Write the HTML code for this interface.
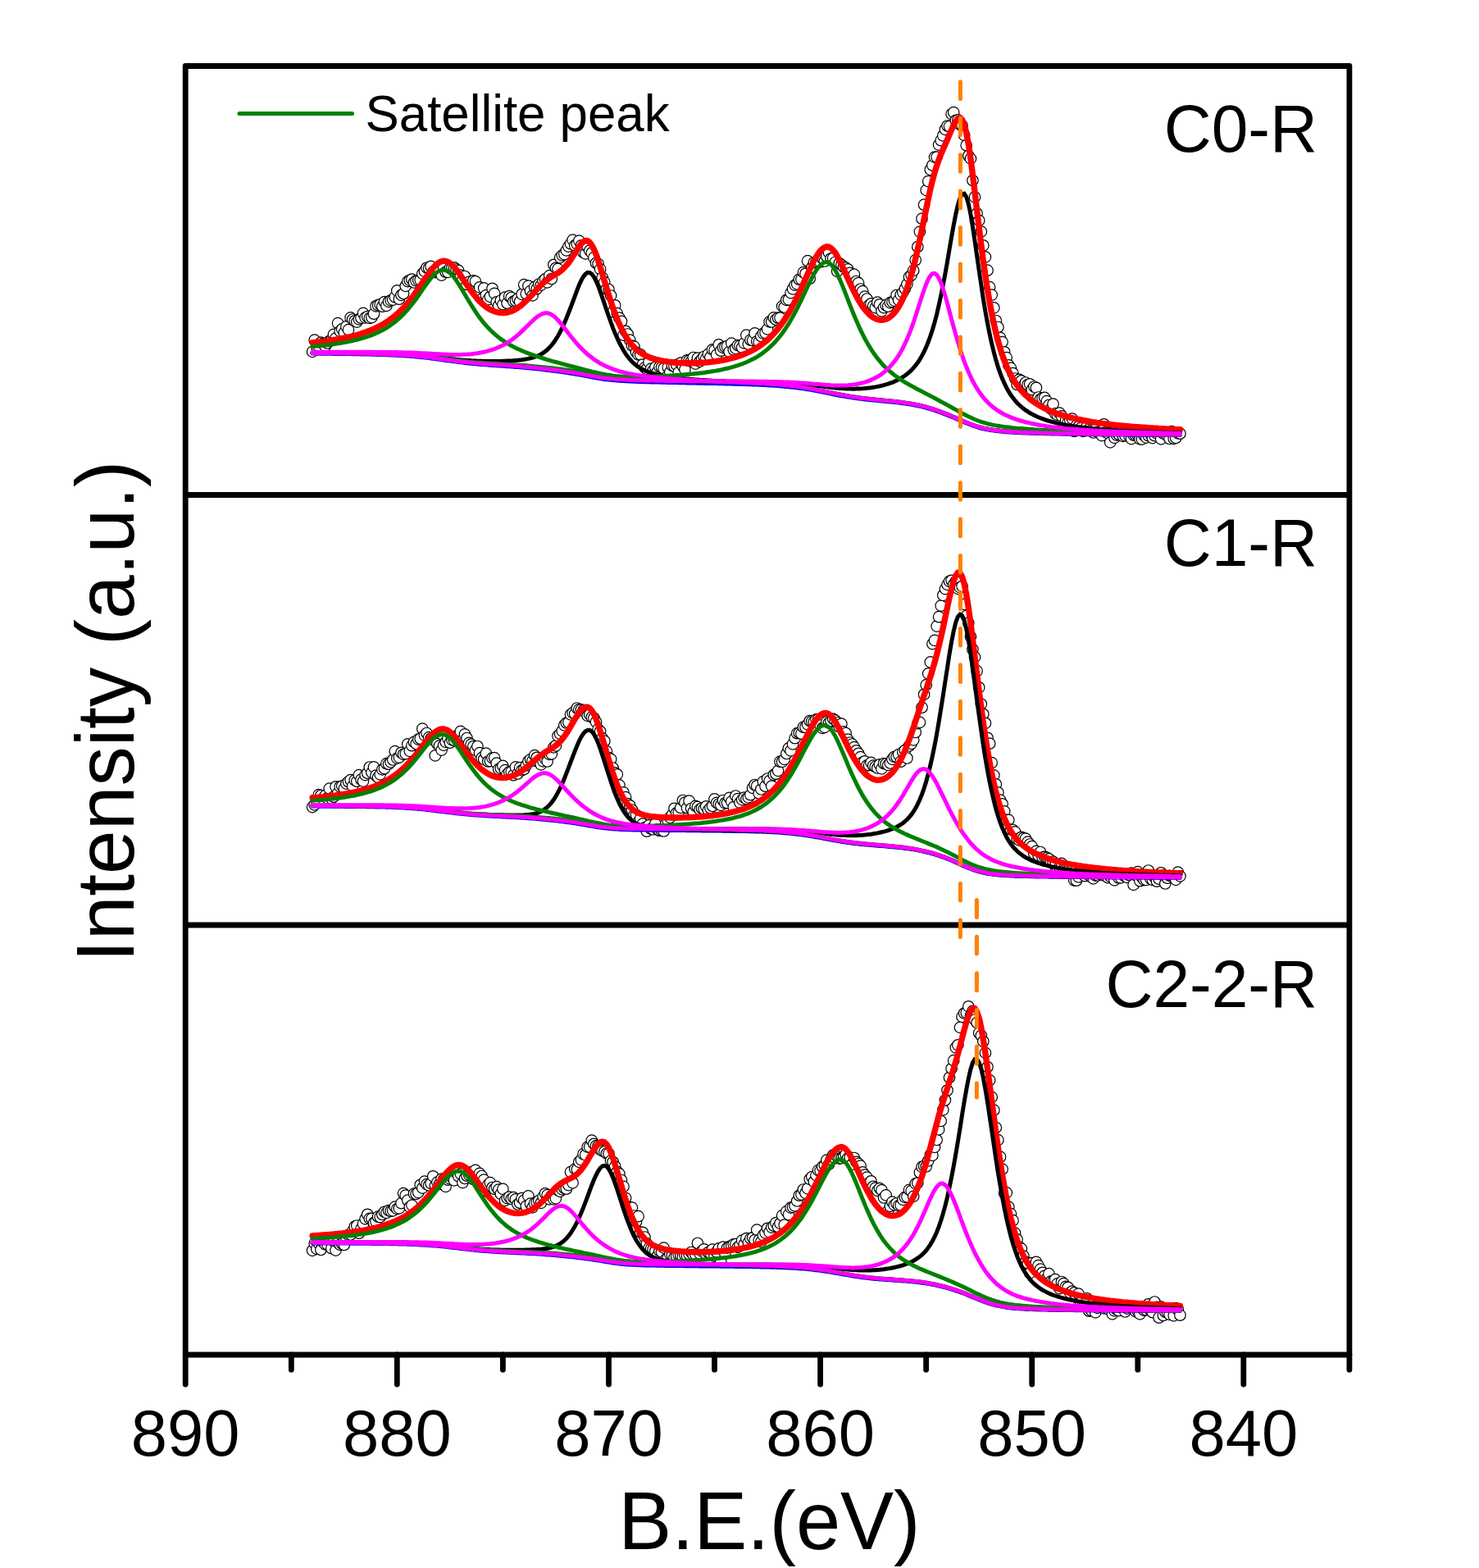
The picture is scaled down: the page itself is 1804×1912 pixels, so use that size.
<!DOCTYPE html>
<html lang="en"><head><meta charset="utf-8"><title>XPS spectra</title>
<style>html,body{margin:0;padding:0;background:#fff}svg{display:block}</style>
</head><body>
<svg width="1804" height="1912" viewBox="0 0 1804 1912" font-family="'Liberation Sans', sans-serif">
<rect width="1804" height="1912" fill="#fff"/>
<g fill="#fff" stroke="#000" stroke-width="1.2"><circle cx="381.1" cy="428.9" r="6.75"/><circle cx="383.7" cy="414.7" r="6.75"/><circle cx="386.3" cy="422.7" r="6.75"/><circle cx="388.8" cy="422.2" r="6.75"/><circle cx="391.4" cy="417.6" r="6.75"/><circle cx="394.0" cy="418.9" r="6.75"/><circle cx="396.6" cy="422.1" r="6.75"/><circle cx="399.2" cy="418.5" r="6.75"/><circle cx="401.7" cy="416.0" r="6.75"/><circle cx="404.3" cy="414.5" r="6.75"/><circle cx="406.9" cy="407.9" r="6.75"/><circle cx="409.5" cy="412.4" r="6.75"/><circle cx="412.1" cy="394.2" r="6.75"/><circle cx="414.7" cy="403.9" r="6.75"/><circle cx="417.2" cy="401.3" r="6.75"/><circle cx="419.8" cy="405.6" r="6.75"/><circle cx="422.4" cy="398.2" r="6.75"/><circle cx="425.0" cy="402.2" r="6.75"/><circle cx="427.6" cy="387.4" r="6.75"/><circle cx="430.1" cy="389.5" r="6.75"/><circle cx="432.7" cy="391.3" r="6.75"/><circle cx="435.3" cy="392.6" r="6.75"/><circle cx="437.9" cy="389.3" r="6.75"/><circle cx="440.5" cy="387.7" r="6.75"/><circle cx="443.0" cy="381.9" r="6.75"/><circle cx="445.6" cy="387.4" r="6.75"/><circle cx="448.2" cy="386.2" r="6.75"/><circle cx="450.8" cy="387.9" r="6.75"/><circle cx="453.4" cy="387.1" r="6.75"/><circle cx="456.0" cy="382.7" r="6.75"/><circle cx="458.5" cy="373.3" r="6.75"/><circle cx="461.1" cy="372.2" r="6.75"/><circle cx="463.7" cy="371.3" r="6.75"/><circle cx="466.3" cy="373.7" r="6.75"/><circle cx="468.9" cy="368.1" r="6.75"/><circle cx="471.4" cy="372.9" r="6.75"/><circle cx="474.0" cy="367.8" r="6.75"/><circle cx="476.6" cy="366.3" r="6.75"/><circle cx="479.2" cy="365.6" r="6.75"/><circle cx="481.8" cy="362.2" r="6.75"/><circle cx="484.3" cy="354.4" r="6.75"/><circle cx="486.9" cy="364.7" r="6.75"/><circle cx="489.5" cy="359.8" r="6.75"/><circle cx="492.1" cy="358.0" r="6.75"/><circle cx="494.7" cy="348.8" r="6.75"/><circle cx="497.3" cy="343.1" r="6.75"/><circle cx="499.8" cy="341.8" r="6.75"/><circle cx="502.4" cy="340.7" r="6.75"/><circle cx="505.0" cy="344.5" r="6.75"/><circle cx="507.6" cy="342.3" r="6.75"/><circle cx="510.2" cy="341.6" r="6.75"/><circle cx="512.7" cy="341.3" r="6.75"/><circle cx="515.3" cy="333.8" r="6.75"/><circle cx="517.9" cy="330.8" r="6.75"/><circle cx="520.5" cy="326.5" r="6.75"/><circle cx="523.1" cy="327.0" r="6.75"/><circle cx="525.6" cy="324.9" r="6.75"/><circle cx="528.2" cy="331.6" r="6.75"/><circle cx="530.8" cy="332.1" r="6.75"/><circle cx="533.4" cy="331.1" r="6.75"/><circle cx="536.0" cy="331.6" r="6.75"/><circle cx="538.6" cy="335.6" r="6.75"/><circle cx="541.1" cy="326.5" r="6.75"/><circle cx="543.7" cy="331.7" r="6.75"/><circle cx="546.3" cy="331.8" r="6.75"/><circle cx="548.9" cy="327.0" r="6.75"/><circle cx="551.5" cy="326.4" r="6.75"/><circle cx="554.0" cy="326.3" r="6.75"/><circle cx="556.6" cy="328.5" r="6.75"/><circle cx="559.2" cy="329.9" r="6.75"/><circle cx="561.8" cy="335.6" r="6.75"/><circle cx="564.4" cy="341.1" r="6.75"/><circle cx="566.9" cy="337.0" r="6.75"/><circle cx="569.5" cy="347.0" r="6.75"/><circle cx="572.1" cy="343.8" r="6.75"/><circle cx="574.7" cy="346.0" r="6.75"/><circle cx="577.3" cy="342.3" r="6.75"/><circle cx="579.9" cy="343.1" r="6.75"/><circle cx="582.4" cy="354.9" r="6.75"/><circle cx="585.0" cy="350.3" r="6.75"/><circle cx="587.6" cy="364.6" r="6.75"/><circle cx="590.2" cy="351.4" r="6.75"/><circle cx="592.8" cy="360.1" r="6.75"/><circle cx="595.3" cy="365.2" r="6.75"/><circle cx="597.9" cy="361.8" r="6.75"/><circle cx="600.5" cy="351.8" r="6.75"/><circle cx="603.1" cy="357.9" r="6.75"/><circle cx="605.7" cy="368.3" r="6.75"/><circle cx="608.2" cy="372.8" r="6.75"/><circle cx="610.8" cy="366.5" r="6.75"/><circle cx="613.4" cy="371.2" r="6.75"/><circle cx="616.0" cy="362.7" r="6.75"/><circle cx="618.6" cy="369.7" r="6.75"/><circle cx="621.2" cy="361.2" r="6.75"/><circle cx="623.7" cy="363.0" r="6.75"/><circle cx="626.3" cy="367.5" r="6.75"/><circle cx="628.9" cy="366.7" r="6.75"/><circle cx="631.5" cy="364.5" r="6.75"/><circle cx="634.1" cy="367.8" r="6.75"/><circle cx="636.6" cy="358.8" r="6.75"/><circle cx="639.2" cy="347.1" r="6.75"/><circle cx="641.8" cy="358.2" r="6.75"/><circle cx="644.4" cy="348.6" r="6.75"/><circle cx="647.0" cy="354.9" r="6.75"/><circle cx="649.5" cy="360.4" r="6.75"/><circle cx="652.1" cy="350.2" r="6.75"/><circle cx="654.7" cy="352.2" r="6.75"/><circle cx="657.3" cy="346.5" r="6.75"/><circle cx="659.9" cy="347.6" r="6.75"/><circle cx="662.5" cy="342.7" r="6.75"/><circle cx="665.0" cy="340.3" r="6.75"/><circle cx="667.6" cy="344.4" r="6.75"/><circle cx="670.2" cy="336.1" r="6.75"/><circle cx="672.8" cy="340.0" r="6.75"/><circle cx="675.4" cy="322.8" r="6.75"/><circle cx="677.9" cy="326.8" r="6.75"/><circle cx="680.5" cy="327.9" r="6.75"/><circle cx="683.1" cy="314.1" r="6.75"/><circle cx="685.7" cy="311.4" r="6.75"/><circle cx="688.3" cy="310.1" r="6.75"/><circle cx="690.8" cy="305.4" r="6.75"/><circle cx="693.4" cy="300.6" r="6.75"/><circle cx="696.0" cy="297.2" r="6.75"/><circle cx="698.6" cy="292.6" r="6.75"/><circle cx="701.2" cy="299.3" r="6.75"/><circle cx="703.8" cy="297.6" r="6.75"/><circle cx="706.3" cy="293.6" r="6.75"/><circle cx="708.9" cy="299.4" r="6.75"/><circle cx="711.5" cy="307.7" r="6.75"/><circle cx="714.1" cy="309.3" r="6.75"/><circle cx="716.7" cy="301.0" r="6.75"/><circle cx="719.2" cy="305.6" r="6.75"/><circle cx="721.8" cy="308.3" r="6.75"/><circle cx="724.4" cy="314.2" r="6.75"/><circle cx="727.0" cy="320.8" r="6.75"/><circle cx="729.6" cy="321.7" r="6.75"/><circle cx="732.1" cy="328.2" r="6.75"/><circle cx="734.7" cy="338.4" r="6.75"/><circle cx="737.3" cy="344.1" r="6.75"/><circle cx="739.9" cy="352.5" r="6.75"/><circle cx="742.5" cy="353.0" r="6.75"/><circle cx="745.1" cy="360.5" r="6.75"/><circle cx="747.6" cy="380.4" r="6.75"/><circle cx="750.2" cy="372.3" r="6.75"/><circle cx="752.8" cy="382.1" r="6.75"/><circle cx="755.4" cy="387.7" r="6.75"/><circle cx="758.0" cy="391.8" r="6.75"/><circle cx="760.5" cy="408.6" r="6.75"/><circle cx="763.1" cy="403.8" r="6.75"/><circle cx="765.7" cy="407.5" r="6.75"/><circle cx="768.3" cy="414.7" r="6.75"/><circle cx="770.9" cy="421.6" r="6.75"/><circle cx="773.4" cy="422.6" r="6.75"/><circle cx="776.0" cy="429.5" r="6.75"/><circle cx="778.6" cy="432.5" r="6.75"/><circle cx="781.2" cy="432.4" r="6.75"/><circle cx="783.8" cy="444.6" r="6.75"/><circle cx="786.4" cy="448.4" r="6.75"/><circle cx="788.9" cy="449.8" r="6.75"/><circle cx="791.5" cy="441.3" r="6.75"/><circle cx="794.1" cy="449.7" r="6.75"/><circle cx="796.7" cy="451.6" r="6.75"/><circle cx="799.3" cy="448.0" r="6.75"/><circle cx="801.8" cy="453.5" r="6.75"/><circle cx="804.4" cy="447.3" r="6.75"/><circle cx="807.0" cy="448.0" r="6.75"/><circle cx="809.6" cy="449.3" r="6.75"/><circle cx="812.2" cy="460.5" r="6.75"/><circle cx="814.7" cy="448.1" r="6.75"/><circle cx="817.3" cy="453.8" r="6.75"/><circle cx="819.9" cy="445.8" r="6.75"/><circle cx="822.5" cy="446.7" r="6.75"/><circle cx="825.1" cy="444.9" r="6.75"/><circle cx="827.7" cy="454.2" r="6.75"/><circle cx="830.2" cy="442.6" r="6.75"/><circle cx="832.8" cy="446.6" r="6.75"/><circle cx="835.4" cy="450.6" r="6.75"/><circle cx="838.0" cy="439.3" r="6.75"/><circle cx="840.6" cy="439.7" r="6.75"/><circle cx="843.1" cy="440.4" r="6.75"/><circle cx="845.7" cy="436.0" r="6.75"/><circle cx="848.3" cy="443.6" r="6.75"/><circle cx="850.9" cy="436.7" r="6.75"/><circle cx="853.5" cy="440.8" r="6.75"/><circle cx="856.0" cy="437.9" r="6.75"/><circle cx="858.6" cy="435.0" r="6.75"/><circle cx="861.2" cy="437.2" r="6.75"/><circle cx="863.8" cy="431.9" r="6.75"/><circle cx="866.4" cy="435.5" r="6.75"/><circle cx="869.0" cy="426.3" r="6.75"/><circle cx="871.5" cy="427.2" r="6.75"/><circle cx="874.1" cy="432.6" r="6.75"/><circle cx="876.7" cy="420.3" r="6.75"/><circle cx="879.3" cy="427.7" r="6.75"/><circle cx="881.9" cy="423.8" r="6.75"/><circle cx="884.4" cy="423.0" r="6.75"/><circle cx="887.0" cy="422.2" r="6.75"/><circle cx="889.6" cy="428.9" r="6.75"/><circle cx="892.2" cy="418.6" r="6.75"/><circle cx="894.8" cy="426.5" r="6.75"/><circle cx="897.3" cy="424.8" r="6.75"/><circle cx="899.9" cy="421.1" r="6.75"/><circle cx="902.5" cy="421.6" r="6.75"/><circle cx="905.1" cy="423.6" r="6.75"/><circle cx="907.7" cy="418.4" r="6.75"/><circle cx="910.3" cy="408.6" r="6.75"/><circle cx="912.8" cy="419.6" r="6.75"/><circle cx="915.4" cy="414.7" r="6.75"/><circle cx="918.0" cy="415.1" r="6.75"/><circle cx="920.6" cy="406.4" r="6.75"/><circle cx="923.2" cy="416.3" r="6.75"/><circle cx="925.7" cy="417.1" r="6.75"/><circle cx="928.3" cy="410.0" r="6.75"/><circle cx="930.9" cy="406.6" r="6.75"/><circle cx="933.5" cy="405.9" r="6.75"/><circle cx="936.1" cy="401.4" r="6.75"/><circle cx="938.6" cy="392.4" r="6.75"/><circle cx="941.2" cy="392.5" r="6.75"/><circle cx="943.8" cy="387.4" r="6.75"/><circle cx="946.4" cy="389.7" r="6.75"/><circle cx="949.0" cy="387.7" r="6.75"/><circle cx="951.5" cy="387.6" r="6.75"/><circle cx="954.1" cy="373.4" r="6.75"/><circle cx="956.7" cy="374.5" r="6.75"/><circle cx="959.3" cy="365.8" r="6.75"/><circle cx="961.9" cy="365.3" r="6.75"/><circle cx="964.5" cy="357.1" r="6.75"/><circle cx="967.0" cy="352.3" r="6.75"/><circle cx="969.6" cy="347.6" r="6.75"/><circle cx="972.2" cy="346.4" r="6.75"/><circle cx="974.8" cy="340.7" r="6.75"/><circle cx="977.4" cy="340.6" r="6.75"/><circle cx="979.9" cy="332.1" r="6.75"/><circle cx="982.5" cy="333.8" r="6.75"/><circle cx="985.1" cy="318.2" r="6.75"/><circle cx="987.7" cy="339.7" r="6.75"/><circle cx="990.3" cy="326.0" r="6.75"/><circle cx="992.8" cy="320.2" r="6.75"/><circle cx="995.4" cy="319.9" r="6.75"/><circle cx="998.0" cy="319.6" r="6.75"/><circle cx="1000.6" cy="319.5" r="6.75"/><circle cx="1003.2" cy="315.0" r="6.75"/><circle cx="1005.8" cy="318.5" r="6.75"/><circle cx="1008.3" cy="312.7" r="6.75"/><circle cx="1010.9" cy="307.7" r="6.75"/><circle cx="1013.5" cy="315.3" r="6.75"/><circle cx="1016.1" cy="314.9" r="6.75"/><circle cx="1018.7" cy="319.7" r="6.75"/><circle cx="1021.2" cy="330.8" r="6.75"/><circle cx="1023.8" cy="321.0" r="6.75"/><circle cx="1026.4" cy="323.0" r="6.75"/><circle cx="1029.0" cy="325.5" r="6.75"/><circle cx="1031.6" cy="326.4" r="6.75"/><circle cx="1034.1" cy="328.3" r="6.75"/><circle cx="1036.7" cy="332.9" r="6.75"/><circle cx="1039.3" cy="338.2" r="6.75"/><circle cx="1041.9" cy="334.7" r="6.75"/><circle cx="1044.5" cy="343.0" r="6.75"/><circle cx="1047.1" cy="345.2" r="6.75"/><circle cx="1049.6" cy="352.5" r="6.75"/><circle cx="1052.2" cy="355.1" r="6.75"/><circle cx="1054.8" cy="361.6" r="6.75"/><circle cx="1057.4" cy="364.5" r="6.75"/><circle cx="1060.0" cy="372.3" r="6.75"/><circle cx="1062.5" cy="370.3" r="6.75"/><circle cx="1065.1" cy="373.1" r="6.75"/><circle cx="1067.7" cy="375.1" r="6.75"/><circle cx="1070.3" cy="368.7" r="6.75"/><circle cx="1072.9" cy="371.3" r="6.75"/><circle cx="1075.4" cy="379.4" r="6.75"/><circle cx="1078.0" cy="375.1" r="6.75"/><circle cx="1080.6" cy="372.2" r="6.75"/><circle cx="1083.2" cy="373.7" r="6.75"/><circle cx="1085.8" cy="369.1" r="6.75"/><circle cx="1088.4" cy="368.1" r="6.75"/><circle cx="1090.9" cy="366.6" r="6.75"/><circle cx="1093.5" cy="360.0" r="6.75"/><circle cx="1096.1" cy="365.9" r="6.75"/><circle cx="1098.7" cy="359.4" r="6.75"/><circle cx="1101.3" cy="356.6" r="6.75"/><circle cx="1103.8" cy="352.0" r="6.75"/><circle cx="1106.4" cy="346.6" r="6.75"/><circle cx="1109.0" cy="337.7" r="6.75"/><circle cx="1111.6" cy="335.3" r="6.75"/><circle cx="1114.2" cy="329.9" r="6.75"/><circle cx="1116.7" cy="317.2" r="6.75"/><circle cx="1119.3" cy="301.0" r="6.75"/><circle cx="1121.9" cy="282.6" r="6.75"/><circle cx="1124.5" cy="266.7" r="6.75"/><circle cx="1127.1" cy="249.7" r="6.75"/><circle cx="1129.7" cy="231.9" r="6.75"/><circle cx="1132.2" cy="221.1" r="6.75"/><circle cx="1134.8" cy="206.8" r="6.75"/><circle cx="1137.4" cy="201.5" r="6.75"/><circle cx="1140.0" cy="191.6" r="6.75"/><circle cx="1142.6" cy="191.6" r="6.75"/><circle cx="1145.1" cy="176.6" r="6.75"/><circle cx="1147.7" cy="171.2" r="6.75"/><circle cx="1150.3" cy="165.3" r="6.75"/><circle cx="1152.9" cy="157.8" r="6.75"/><circle cx="1155.5" cy="153.5" r="6.75"/><circle cx="1158.0" cy="154.1" r="6.75"/><circle cx="1160.6" cy="139.1" r="6.75"/><circle cx="1163.2" cy="137.1" r="6.75"/><circle cx="1165.8" cy="146.8" r="6.75"/><circle cx="1168.4" cy="146.3" r="6.75"/><circle cx="1171.0" cy="152.1" r="6.75"/><circle cx="1173.5" cy="152.9" r="6.75"/><circle cx="1176.1" cy="164.8" r="6.75"/><circle cx="1178.7" cy="177.2" r="6.75"/><circle cx="1181.3" cy="190.0" r="6.75"/><circle cx="1183.9" cy="193.4" r="6.75"/><circle cx="1186.4" cy="220.0" r="6.75"/><circle cx="1189.0" cy="240.3" r="6.75"/><circle cx="1191.6" cy="260.3" r="6.75"/><circle cx="1194.2" cy="268.9" r="6.75"/><circle cx="1196.8" cy="282.4" r="6.75"/><circle cx="1199.3" cy="299.3" r="6.75"/><circle cx="1201.9" cy="313.4" r="6.75"/><circle cx="1204.5" cy="329.7" r="6.75"/><circle cx="1207.1" cy="350.1" r="6.75"/><circle cx="1209.7" cy="359.6" r="6.75"/><circle cx="1212.3" cy="375.3" r="6.75"/><circle cx="1214.8" cy="391.0" r="6.75"/><circle cx="1217.4" cy="399.0" r="6.75"/><circle cx="1220.0" cy="411.9" r="6.75"/><circle cx="1222.6" cy="417.1" r="6.75"/><circle cx="1225.2" cy="429.3" r="6.75"/><circle cx="1227.7" cy="436.1" r="6.75"/><circle cx="1230.3" cy="445.3" r="6.75"/><circle cx="1232.9" cy="448.9" r="6.75"/><circle cx="1235.5" cy="455.2" r="6.75"/><circle cx="1238.1" cy="461.5" r="6.75"/><circle cx="1240.6" cy="469.0" r="6.75"/><circle cx="1243.2" cy="462.8" r="6.75"/><circle cx="1245.8" cy="464.3" r="6.75"/><circle cx="1248.4" cy="470.5" r="6.75"/><circle cx="1251.0" cy="466.5" r="6.75"/><circle cx="1253.6" cy="469.2" r="6.75"/><circle cx="1256.1" cy="468.3" r="6.75"/><circle cx="1258.7" cy="475.2" r="6.75"/><circle cx="1261.3" cy="471.5" r="6.75"/><circle cx="1263.9" cy="472.8" r="6.75"/><circle cx="1266.5" cy="484.5" r="6.75"/><circle cx="1269.0" cy="486.9" r="6.75"/><circle cx="1271.6" cy="485.7" r="6.75"/><circle cx="1274.2" cy="484.9" r="6.75"/><circle cx="1276.8" cy="489.1" r="6.75"/><circle cx="1279.4" cy="494.0" r="6.75"/><circle cx="1281.9" cy="498.6" r="6.75"/><circle cx="1284.5" cy="492.6" r="6.75"/><circle cx="1287.1" cy="504.4" r="6.75"/><circle cx="1289.7" cy="505.9" r="6.75"/><circle cx="1292.3" cy="503.7" r="6.75"/><circle cx="1294.9" cy="507.3" r="6.75"/><circle cx="1297.4" cy="521.8" r="6.75"/><circle cx="1300.0" cy="512.7" r="6.75"/><circle cx="1302.6" cy="515.2" r="6.75"/><circle cx="1305.2" cy="512.2" r="6.75"/><circle cx="1307.8" cy="510.6" r="6.75"/><circle cx="1310.3" cy="526.0" r="6.75"/><circle cx="1312.9" cy="519.2" r="6.75"/><circle cx="1315.5" cy="520.3" r="6.75"/><circle cx="1318.1" cy="522.2" r="6.75"/><circle cx="1320.7" cy="525.9" r="6.75"/><circle cx="1323.2" cy="525.3" r="6.75"/><circle cx="1325.8" cy="519.4" r="6.75"/><circle cx="1328.4" cy="523.4" r="6.75"/><circle cx="1331.0" cy="524.6" r="6.75"/><circle cx="1333.6" cy="527.5" r="6.75"/><circle cx="1336.2" cy="523.0" r="6.75"/><circle cx="1338.7" cy="526.9" r="6.75"/><circle cx="1341.3" cy="526.7" r="6.75"/><circle cx="1343.9" cy="531.1" r="6.75"/><circle cx="1346.5" cy="517.3" r="6.75"/><circle cx="1349.1" cy="527.1" r="6.75"/><circle cx="1351.6" cy="528.3" r="6.75"/><circle cx="1354.2" cy="539.4" r="6.75"/><circle cx="1356.8" cy="527.6" r="6.75"/><circle cx="1359.4" cy="533.9" r="6.75"/><circle cx="1362.0" cy="530.6" r="6.75"/><circle cx="1364.5" cy="529.7" r="6.75"/><circle cx="1367.1" cy="525.7" r="6.75"/><circle cx="1369.7" cy="531.9" r="6.75"/><circle cx="1372.3" cy="531.1" r="6.75"/><circle cx="1374.9" cy="526.2" r="6.75"/><circle cx="1377.5" cy="531.8" r="6.75"/><circle cx="1380.0" cy="535.1" r="6.75"/><circle cx="1382.6" cy="530.6" r="6.75"/><circle cx="1385.2" cy="530.9" r="6.75"/><circle cx="1387.8" cy="530.7" r="6.75"/><circle cx="1390.4" cy="535.4" r="6.75"/><circle cx="1392.9" cy="535.6" r="6.75"/><circle cx="1395.5" cy="531.1" r="6.75"/><circle cx="1398.1" cy="533.6" r="6.75"/><circle cx="1400.7" cy="531.2" r="6.75"/><circle cx="1403.3" cy="529.4" r="6.75"/><circle cx="1405.8" cy="534.1" r="6.75"/><circle cx="1408.4" cy="531.2" r="6.75"/><circle cx="1411.0" cy="528.6" r="6.75"/><circle cx="1413.6" cy="526.4" r="6.75"/><circle cx="1416.2" cy="535.4" r="6.75"/><circle cx="1418.8" cy="528.5" r="6.75"/><circle cx="1421.3" cy="528.1" r="6.75"/><circle cx="1423.9" cy="531.3" r="6.75"/><circle cx="1426.5" cy="535.0" r="6.75"/><circle cx="1429.1" cy="526.2" r="6.75"/><circle cx="1431.7" cy="534.8" r="6.75"/><circle cx="1434.2" cy="534.0" r="6.75"/><circle cx="1436.8" cy="528.4" r="6.75"/><circle cx="1439.4" cy="528.7" r="6.75"/></g>
<g fill="none" stroke-linejoin="miter" stroke-miterlimit="6" stroke-linecap="round"><path d="M381.1 431.2L383.7 431.2L386.3 431.2L388.8 431.3L391.4 431.3L394.0 431.3L396.6 431.3L399.2 431.4L401.7 431.4L404.3 431.4L406.9 431.5L409.5 431.5L412.1 431.5L414.7 431.6L417.2 431.6L419.8 431.6L422.4 431.7L425.0 431.7L427.6 431.7L430.1 431.8L432.7 431.8L435.3 431.9L437.9 431.9L440.5 432.0L443.0 432.0L445.6 432.1L448.2 432.1L450.8 432.2L453.4 432.3L456.0 432.3L458.5 432.4L461.1 432.5L463.7 432.5L466.3 432.6L468.9 432.7L471.4 432.8L474.0 432.9L476.6 433.0L479.2 433.2L481.8 433.3L484.3 433.4L486.9 433.6L489.5 433.7L492.1 433.9L494.7 434.0L497.3 434.2L499.8 434.4L502.4 434.6L505.0 434.8L507.6 435.1L510.2 435.3L512.7 435.6L515.3 435.8L517.9 436.1L520.5 436.4L523.1 436.7L525.6 437.0L528.2 437.3L530.8 437.7L533.4 438.0L536.0 438.4L538.6 438.7L541.1 439.1L543.7 439.5L546.3 439.8L548.9 440.2L551.5 440.5L554.0 440.9L556.6 441.2L559.2 441.5L561.8 441.9L564.4 442.2L566.9 442.5L569.5 442.8L572.1 443.1L574.7 443.3L577.3 443.6L579.9 443.8L582.4 444.1L585.0 444.3L587.6 444.5L590.2 444.7L592.8 444.9L595.3 445.1L597.9 445.3L600.5 445.5L603.1 445.7L605.7 445.9L608.2 446.0L610.8 446.2L613.4 446.4L616.0 446.6L618.6 446.8L621.2 446.9L623.7 447.1L626.3 447.3L628.9 447.5L631.5 447.7L634.1 447.9L636.6 448.1L639.2 448.3L641.8 448.6L644.4 448.8L647.0 449.0L649.5 449.3L652.1 449.6L654.7 449.8L657.3 450.1L659.9 450.4L662.5 450.7L665.0 451.0L667.6 451.3L670.2 451.7L672.8 452.0L675.4 452.3L677.9 452.7L680.5 453.0L683.1 453.4L685.7 453.7L688.3 454.1L690.8 454.5L693.4 454.9L696.0 455.3L698.6 455.7L701.2 456.1L703.8 456.6L706.3 457.0L708.9 457.5L711.5 458.0L714.1 458.5L716.7 459.0L719.2 459.5L721.8 459.9L724.4 460.4L727.0 460.9L729.6 461.3L732.1 461.7L734.7 462.1L737.3 462.5L739.9 462.8L742.5 463.1L745.1 463.4L747.6 463.6L750.2 463.9L752.8 464.1L755.4 464.3L758.0 464.5L760.5 464.6L763.1 464.8L765.7 464.9L768.3 465.1L770.9 465.2L773.4 465.3L776.0 465.4L778.6 465.5L781.2 465.6L783.8 465.7L786.4 465.8L788.9 465.8L791.5 465.9L794.1 466.0L796.7 466.1L799.3 466.1L801.8 466.2L804.4 466.2L807.0 466.3L809.6 466.4L812.2 466.4L814.7 466.5L817.3 466.5L819.9 466.6L822.5 466.7L825.1 466.7L827.7 466.8L830.2 466.8L832.8 466.9L835.4 466.9L838.0 467.0L840.6 467.0L843.1 467.1L845.7 467.1L848.3 467.2L850.9 467.3L853.5 467.3L856.0 467.4L858.6 467.4L861.2 467.5L863.8 467.5L866.4 467.6L869.0 467.6L871.5 467.7L874.1 467.7L876.7 467.8L879.3 467.9L881.9 467.9L884.4 468.0L887.0 468.1L889.6 468.1L892.2 468.2L894.8 468.3L897.3 468.3L899.9 468.4L902.5 468.5L905.1 468.6L907.7 468.6L910.3 468.7L912.8 468.8L915.4 468.9L918.0 469.0L920.6 469.1L923.2 469.2L925.7 469.3L928.3 469.4L930.9 469.5L933.5 469.7L936.1 469.8L938.6 470.0L941.2 470.1L943.8 470.3L946.4 470.4L949.0 470.6L951.5 470.8L954.1 471.0L956.7 471.3L959.3 471.5L961.9 471.8L964.5 472.0L967.0 472.3L969.6 472.6L972.2 472.9L974.8 473.3L977.4 473.6L979.9 474.0L982.5 474.4L985.1 474.8L987.7 475.2L990.3 475.7L992.8 476.1L995.4 476.6L998.0 477.1L1000.6 477.6L1003.2 478.1L1005.8 478.6L1008.3 479.2L1010.9 479.7L1013.5 480.2L1016.1 480.8L1018.7 481.3L1021.2 481.8L1023.8 482.3L1026.4 482.8L1029.0 483.2L1031.6 483.7L1034.1 484.1L1036.7 484.5L1039.3 484.9L1041.9 485.3L1044.5 485.7L1047.1 486.0L1049.6 486.4L1052.2 486.7L1054.8 487.0L1057.4 487.3L1060.0 487.6L1062.5 487.9L1065.1 488.1L1067.7 488.4L1070.3 488.6L1072.9 488.9L1075.4 489.1L1078.0 489.4L1080.6 489.6L1083.2 489.9L1085.8 490.1L1088.4 490.4L1090.9 490.6L1093.5 490.9L1096.1 491.2L1098.7 491.5L1101.3 491.8L1103.8 492.2L1106.4 492.6L1109.0 493.0L1111.6 493.4L1114.2 493.8L1116.7 494.3L1119.3 494.8L1121.9 495.4L1124.5 496.0L1127.1 496.7L1129.7 497.3L1132.2 498.1L1134.8 498.8L1137.4 499.6L1140.0 500.5L1142.6 501.4L1145.1 502.3L1147.7 503.2L1150.3 504.2L1152.9 505.2L1155.5 506.2L1158.0 507.2L1160.6 508.3L1163.2 509.4L1165.8 510.5L1168.4 511.6L1171.0 512.7L1173.5 513.8L1176.1 515.0L1178.7 516.0L1181.3 517.1L1183.9 518.1L1186.4 519.1L1189.0 520.0L1191.6 520.8L1194.2 521.6L1196.8 522.3L1199.3 522.9L1201.9 523.5L1204.5 524.0L1207.1 524.5L1209.7 524.9L1212.3 525.2L1214.8 525.6L1217.4 525.9L1220.0 526.2L1222.6 526.4L1225.2 526.6L1227.7 526.8L1230.3 527.0L1232.9 527.2L1235.5 527.3L1238.1 527.5L1240.6 527.6L1243.2 527.8L1245.8 527.9L1248.4 528.0L1251.0 528.1L1253.6 528.2L1256.1 528.3L1258.7 528.4L1261.3 528.4L1263.9 528.5L1266.5 528.6L1269.0 528.7L1271.6 528.7L1274.2 528.8L1276.8 528.9L1279.4 528.9L1281.9 529.0L1284.5 529.1L1287.1 529.1L1289.7 529.2L1292.3 529.2L1294.9 529.3L1297.4 529.3L1300.0 529.4L1302.6 529.4L1305.2 529.4L1307.8 529.5L1310.3 529.5L1312.9 529.6L1315.5 529.6L1318.1 529.6L1320.7 529.7L1323.2 529.7L1325.8 529.8L1328.4 529.8L1331.0 529.8L1333.6 529.9L1336.2 529.9L1338.7 529.9L1341.3 529.9L1343.9 530.0L1346.5 530.0L1349.1 530.0L1351.6 530.1L1354.2 530.1L1356.8 530.1L1359.4 530.1L1362.0 530.2L1364.5 530.2L1367.1 530.2L1369.7 530.2L1372.3 530.2L1374.9 530.3L1377.5 530.3L1380.0 530.3L1382.6 530.3L1385.2 530.3L1387.8 530.4L1390.4 530.4L1392.9 530.4L1395.5 530.4L1398.1 530.4L1400.7 530.5L1403.3 530.5L1405.8 530.5L1408.4 530.5L1411.0 530.5L1413.6 530.5L1416.2 530.6L1418.8 530.6L1421.3 530.6L1423.9 530.6L1426.5 530.6L1429.1 530.6L1431.7 530.7L1434.2 530.7L1436.8 530.7L1439.4 530.7" stroke="#0000ff" stroke-width="4.8"/><path d="M381.1 417.8L383.7 417.6L386.3 417.3L388.8 417.0L391.4 416.7L394.0 416.4L396.6 416.0L399.2 415.7L401.7 415.3L404.3 414.9L406.9 414.5L409.5 414.1L412.1 413.7L414.7 413.2L417.2 412.7L419.8 412.2L422.4 411.7L425.0 411.1L427.6 410.5L430.1 409.9L432.7 409.2L435.3 408.5L437.9 407.7L440.5 407.0L443.0 406.1L445.6 405.2L448.2 404.3L450.8 403.3L453.4 402.2L456.0 401.1L458.5 399.9L461.1 398.7L463.7 397.3L466.3 395.9L468.9 394.3L471.4 392.7L474.0 391.0L476.6 389.1L479.2 387.2L481.8 385.1L484.3 382.9L486.9 380.5L489.5 378.0L492.1 375.4L494.7 372.6L497.3 369.6L499.8 366.4L502.4 363.1L505.0 359.6L507.6 356.0L510.2 352.3L512.7 348.5L515.3 344.6L517.9 340.8L520.5 337.0L523.1 333.3L525.6 329.8L528.2 326.7L530.8 323.9L533.4 321.6L536.0 319.8L538.6 318.7L541.1 318.2L543.7 318.4L546.3 319.3L548.9 320.9L551.5 323.1L554.0 325.7L556.6 328.9L559.2 332.3L561.8 336.0L564.4 339.8L566.9 343.7L569.5 347.5L572.1 351.2L574.7 354.8L577.3 358.3L579.9 361.5L582.4 364.5L585.0 367.3L587.6 369.8L590.2 372.1L592.8 374.1L595.3 375.9L597.9 377.4L600.5 378.7L603.1 379.7L605.7 380.5L608.2 381.1L610.8 381.4L613.4 381.5L616.0 381.4L618.6 381.0L621.2 380.3L623.7 379.5L626.3 378.4L628.9 377.0L631.5 375.4L634.1 373.6L636.6 371.6L639.2 369.3L641.8 366.9L644.4 364.3L647.0 361.5L649.5 358.7L652.1 355.9L654.7 353.1L657.3 350.3L659.9 347.7L662.5 345.2L665.0 343.0L667.6 340.9L670.2 339.0L672.8 337.4L675.4 335.9L677.9 334.4L680.5 332.8L683.1 331.0L685.7 328.9L688.3 326.5L690.8 323.7L693.4 320.4L696.0 316.8L698.6 312.8L701.2 308.7L703.8 304.5L706.3 300.6L708.9 297.3L711.5 294.8L714.1 293.5L716.7 293.7L719.2 295.5L721.8 298.9L724.4 303.8L727.0 310.1L729.6 317.4L732.1 325.5L734.7 334.0L737.3 342.7L739.9 351.3L742.5 359.7L745.1 367.7L747.6 375.3L750.2 382.5L752.8 389.0L755.4 395.1L758.0 400.6L760.5 405.6L763.1 410.1L765.7 414.0L768.3 417.6L770.9 420.7L773.4 423.5L776.0 425.9L778.6 428.1L781.2 429.9L783.8 431.6L786.4 433.0L788.9 434.3L791.5 435.4L794.1 436.4L796.7 437.2L799.3 438.0L801.8 438.7L804.4 439.3L807.0 439.8L809.6 440.3L812.2 440.7L814.7 441.1L817.3 441.4L819.9 441.7L822.5 442.0L825.1 442.2L827.7 442.4L830.2 442.5L832.8 442.6L835.4 442.7L838.0 442.7L840.6 442.8L843.1 442.8L845.7 442.7L848.3 442.7L850.9 442.6L853.5 442.5L856.0 442.3L858.6 442.1L861.2 441.9L863.8 441.7L866.4 441.4L869.0 441.1L871.5 440.8L874.1 440.4L876.7 440.0L879.3 439.6L881.9 439.1L884.4 438.6L887.0 438.1L889.6 437.5L892.2 436.8L894.8 436.1L897.3 435.4L899.9 434.6L902.5 433.7L905.1 432.7L907.7 431.7L910.3 430.7L912.8 429.5L915.4 428.3L918.0 426.9L920.6 425.5L923.2 423.9L925.7 422.3L928.3 420.5L930.9 418.6L933.5 416.5L936.1 414.4L938.6 412.0L941.2 409.5L943.8 406.8L946.4 403.9L949.0 400.8L951.5 397.5L954.1 393.9L956.7 390.1L959.3 386.1L961.9 381.9L964.5 377.4L967.0 372.6L969.6 367.7L972.2 362.5L974.8 357.0L977.4 351.5L979.9 345.8L982.5 340.0L985.1 334.3L987.7 328.6L990.3 323.2L992.8 318.0L995.4 313.4L998.0 309.3L1000.6 305.8L1003.2 303.3L1005.8 301.6L1008.3 300.8L1010.9 301.1L1013.5 302.5L1016.1 304.9L1018.7 308.2L1021.2 312.4L1023.8 317.1L1026.4 322.4L1029.0 327.9L1031.6 333.7L1034.1 339.4L1036.7 345.1L1039.3 350.7L1041.9 355.9L1044.5 360.9L1047.1 365.6L1049.6 369.9L1052.2 373.8L1054.8 377.2L1057.4 380.3L1060.0 383.0L1062.5 385.3L1065.1 387.1L1067.7 388.5L1070.3 389.5L1072.9 390.1L1075.4 390.2L1078.0 389.9L1080.6 389.2L1083.2 388.0L1085.8 386.3L1088.4 384.1L1090.9 381.3L1093.5 378.0L1096.1 374.0L1098.7 369.4L1101.3 364.1L1103.8 358.1L1106.4 351.2L1109.0 343.5L1111.6 335.0L1114.2 325.5L1116.7 315.2L1119.3 304.1L1121.9 292.3L1124.5 279.9L1127.1 267.3L1129.7 254.7L1132.2 242.4L1134.8 230.8L1137.4 220.1L1140.0 210.5L1142.6 202.1L1145.1 194.7L1147.7 188.1L1150.3 182.0L1152.9 176.2L1155.5 170.2L1158.0 164.2L1160.6 158.2L1163.2 152.5L1165.8 147.7L1168.4 144.5L1171.0 143.7L1173.5 145.9L1176.1 151.7L1178.7 161.7L1181.3 175.7L1183.9 193.1L1186.4 213.0L1189.0 234.3L1191.6 256.1L1194.2 277.7L1196.8 298.5L1199.3 318.1L1201.9 336.3L1204.5 353.1L1207.1 368.3L1209.7 382.2L1212.3 394.7L1214.8 405.9L1217.4 415.9L1220.0 424.9L1222.6 432.9L1225.2 440.1L1227.7 446.5L1230.3 452.2L1232.9 457.3L1235.5 462.0L1238.1 466.1L1240.6 469.9L1243.2 473.3L1245.8 476.4L1248.4 479.2L1251.0 481.8L1253.6 484.1L1256.1 486.3L1258.7 488.4L1261.3 490.2L1263.9 492.0L1266.5 493.6L1269.0 495.1L1271.6 496.6L1274.2 497.9L1276.8 499.1L1279.4 500.3L1281.9 501.4L1284.5 502.5L1287.1 503.5L1289.7 504.4L1292.3 505.3L1294.9 506.1L1297.4 506.9L1300.0 507.7L1302.6 508.4L1305.2 509.1L1307.8 509.7L1310.3 510.3L1312.9 510.9L1315.5 511.5L1318.1 512.0L1320.7 512.5L1323.2 513.0L1325.8 513.5L1328.4 514.0L1331.0 514.4L1333.6 514.8L1336.2 515.2L1338.7 515.6L1341.3 516.0L1343.9 516.3L1346.5 516.7L1349.1 517.0L1351.6 517.3L1354.2 517.6L1356.8 517.9L1359.4 518.2L1362.0 518.5L1364.5 518.7L1367.1 519.0L1369.7 519.2L1372.3 519.5L1374.9 519.7L1377.5 519.9L1380.0 520.2L1382.6 520.4L1385.2 520.6L1387.8 520.8L1390.4 521.0L1392.9 521.2L1395.5 521.3L1398.1 521.5L1400.7 521.7L1403.3 521.9L1405.8 522.0L1408.4 522.2L1411.0 522.3L1413.6 522.5L1416.2 522.6L1418.8 522.8L1421.3 522.9L1423.9 523.1L1426.5 523.2L1429.1 523.3L1431.7 523.4L1434.2 523.6L1436.8 523.7L1439.4 523.8" stroke="#ff0000" stroke-width="7.4"/><path d="M381.1 430.1L383.7 430.1L386.3 430.1L388.8 430.2L391.4 430.2L394.0 430.2L396.6 430.2L399.2 430.2L401.7 430.2L404.3 430.3L406.9 430.3L409.5 430.3L412.1 430.3L414.7 430.3L417.2 430.4L419.8 430.4L422.4 430.4L425.0 430.4L427.6 430.5L430.1 430.5L432.7 430.5L435.3 430.6L437.9 430.6L440.5 430.6L443.0 430.7L445.6 430.7L448.2 430.7L450.8 430.8L453.4 430.8L456.0 430.9L458.5 430.9L461.1 431.0L463.7 431.0L466.3 431.1L468.9 431.2L471.4 431.3L474.0 431.3L476.6 431.4L479.2 431.5L481.8 431.6L484.3 431.7L486.9 431.8L489.5 432.0L492.1 432.1L494.7 432.2L497.3 432.4L499.8 432.6L502.4 432.7L505.0 432.9L507.6 433.1L510.2 433.3L512.7 433.5L515.3 433.8L517.9 434.0L520.5 434.3L523.1 434.5L525.6 434.8L528.2 435.1L530.8 435.4L533.4 435.6L536.0 435.9L538.6 436.3L541.1 436.6L543.7 436.9L546.3 437.2L548.9 437.4L551.5 437.7L554.0 438.0L556.6 438.3L559.2 438.5L561.8 438.8L564.4 439.0L566.9 439.2L569.5 439.4L572.1 439.6L574.7 439.8L577.3 439.9L579.9 440.0L582.4 440.2L585.0 440.3L587.6 440.3L590.2 440.4L592.8 440.5L595.3 440.5L597.9 440.5L600.5 440.5L603.1 440.5L605.7 440.5L608.2 440.5L610.8 440.4L613.4 440.3L616.0 440.2L618.6 440.1L621.2 440.0L623.7 439.9L626.3 439.7L628.9 439.5L631.5 439.3L634.1 439.0L636.6 438.7L639.2 438.3L641.8 437.9L644.4 437.4L647.0 436.8L649.5 436.1L652.1 435.3L654.7 434.4L657.3 433.2L659.9 431.9L662.5 430.3L665.0 428.5L667.6 426.3L670.2 423.8L672.8 420.9L675.4 417.7L677.9 413.9L680.5 409.7L683.1 405.1L685.7 399.9L688.3 394.3L690.8 388.2L693.4 381.8L696.0 375.0L698.6 368.1L701.2 361.1L703.8 354.2L706.3 347.8L708.9 342.1L711.5 337.4L714.1 334.1L716.7 332.3L719.2 332.4L721.8 334.1L724.4 337.6L727.0 342.5L729.6 348.5L732.1 355.4L734.7 362.8L737.3 370.5L739.9 378.2L742.5 385.7L745.1 393.0L747.6 399.9L750.2 406.4L752.8 412.3L755.4 417.8L758.0 422.8L760.5 427.3L763.1 431.4L765.7 435.0L768.3 438.1L770.9 440.9L773.4 443.4L776.0 445.6L778.6 447.4L781.2 449.1L783.8 450.5L786.4 451.8L788.9 452.9L791.5 453.9L794.1 454.8L796.7 455.5L799.3 456.2L801.8 456.9L804.4 457.4L807.0 458.0L809.6 458.4L812.2 458.9L814.7 459.3L817.3 459.7L819.9 460.0L822.5 460.4L825.1 460.7L827.7 461.0L830.2 461.3L832.8 461.5L835.4 461.8L838.0 462.0L840.6 462.3L843.1 462.5L845.7 462.7L848.3 462.9L850.9 463.1L853.5 463.3L856.0 463.4L858.6 463.6L861.2 463.8L863.8 464.0L866.4 464.1L869.0 464.3L871.5 464.4L874.1 464.6L876.7 464.7L879.3 464.8L881.9 465.0L884.4 465.1L887.0 465.3L889.6 465.4L892.2 465.5L894.8 465.6L897.3 465.8L899.9 465.9L902.5 466.0L905.1 466.2L907.7 466.3L910.3 466.4L912.8 466.6L915.4 466.7L918.0 466.8L920.6 467.0L923.2 467.1L925.7 467.3L928.3 467.4L930.9 467.6L933.5 467.7L936.1 467.9L938.6 468.1L941.2 468.3L943.8 468.5L946.4 468.7L949.0 468.9L951.5 469.1L954.1 469.3L956.7 469.6L959.3 469.9L961.9 470.1L964.5 470.4L967.0 470.7L969.6 471.1L972.2 471.4L974.8 471.7L977.4 472.1L979.9 472.5L982.5 472.9L985.1 473.4L987.7 473.8L990.3 474.3L992.8 474.8L995.4 475.2L998.0 475.8L1000.6 476.3L1003.2 476.8L1005.8 477.3L1008.3 477.9L1010.9 478.4L1013.5 479.0L1016.1 479.5L1018.7 480.0L1021.2 480.6L1023.8 481.1L1026.4 481.6L1029.0 482.0L1031.6 482.5L1034.1 482.9L1036.7 483.4L1039.3 483.8L1041.9 484.2L1044.5 484.6L1047.1 484.9L1049.6 485.3L1052.2 485.6L1054.8 485.9L1057.4 486.2L1060.0 486.5L1062.5 486.8L1065.1 487.1L1067.7 487.3L1070.3 487.6L1072.9 487.8L1075.4 488.1L1078.0 488.4L1080.6 488.6L1083.2 488.9L1085.8 489.1L1088.4 489.4L1090.9 489.7L1093.5 489.9L1096.1 490.2L1098.7 490.6L1101.3 490.9L1103.8 491.2L1106.4 491.6L1109.0 492.0L1111.6 492.4L1114.2 492.9L1116.7 493.4L1119.3 493.9L1121.9 494.5L1124.5 495.1L1127.1 495.8L1129.7 496.4L1132.2 497.2L1134.8 497.9L1137.4 498.8L1140.0 499.6L1142.6 500.5L1145.1 501.4L1147.7 502.3L1150.3 503.3L1152.9 504.3L1155.5 505.3L1158.0 506.4L1160.6 507.5L1163.2 508.5L1165.8 509.6L1168.4 510.8L1171.0 511.9L1173.5 513.0L1176.1 514.1L1178.7 515.2L1181.3 516.3L1183.9 517.3L1186.4 518.3L1189.0 519.2L1191.6 520.0L1194.2 520.8L1196.8 521.5L1199.3 522.1L1201.9 522.7L1204.5 523.2L1207.1 523.7L1209.7 524.1L1212.3 524.5L1214.8 524.8L1217.4 525.1L1220.0 525.4L1222.6 525.6L1225.2 525.9L1227.7 526.1L1230.3 526.3L1232.9 526.4L1235.5 526.6L1238.1 526.7L1240.6 526.9L1243.2 527.0L1245.8 527.1L1248.4 527.2L1251.0 527.3L1253.6 527.4L1256.1 527.5L1258.7 527.6L1261.3 527.7L1263.9 527.8L1266.5 527.9L1269.0 528.0L1271.6 528.0L1274.2 528.1L1276.8 528.2L1279.4 528.2L1281.9 528.3L1284.5 528.3L1287.1 528.4L1289.7 528.5L1292.3 528.5L1294.9 528.6L1297.4 528.6L1300.0 528.7L1302.6 528.7L1305.2 528.8L1307.8 528.8L1310.3 528.8L1312.9 528.9L1315.5 528.9L1318.1 529.0L1320.7 529.0L1323.2 529.0L1325.8 529.1L1328.4 529.1L1331.0 529.1L1333.6 529.2L1336.2 529.2L1338.7 529.2L1341.3 529.3L1343.9 529.3L1346.5 529.3L1349.1 529.4L1351.6 529.4L1354.2 529.4L1356.8 529.4L1359.4 529.5L1362.0 529.5L1364.5 529.5L1367.1 529.5L1369.7 529.6L1372.3 529.6L1374.9 529.6L1377.5 529.6L1380.0 529.7L1382.6 529.7L1385.2 529.7L1387.8 529.7L1390.4 529.7L1392.9 529.8L1395.5 529.8L1398.1 529.8L1400.7 529.8L1403.3 529.8L1405.8 529.9L1408.4 529.9L1411.0 529.9L1413.6 529.9L1416.2 529.9L1418.8 529.9L1421.3 530.0L1423.9 530.0L1426.5 530.0L1429.1 530.0L1431.7 530.0L1434.2 530.0L1436.8 530.1L1439.4 530.1" stroke="#000" stroke-width="5"/><path d="M381.1 430.4L383.7 430.4L386.3 430.4L388.8 430.4L391.4 430.5L394.0 430.5L396.6 430.5L399.2 430.5L401.7 430.6L404.3 430.6L406.9 430.6L409.5 430.6L412.1 430.7L414.7 430.7L417.2 430.7L419.8 430.8L422.4 430.8L425.0 430.8L427.6 430.9L430.1 430.9L432.7 431.0L435.3 431.0L437.9 431.1L440.5 431.1L443.0 431.1L445.6 431.2L448.2 431.3L450.8 431.3L453.4 431.4L456.0 431.4L458.5 431.5L461.1 431.6L463.7 431.7L466.3 431.7L468.9 431.8L471.4 431.9L474.0 432.0L476.6 432.1L479.2 432.2L481.8 432.4L484.3 432.5L486.9 432.6L489.5 432.8L492.1 432.9L494.7 433.1L497.3 433.3L499.8 433.5L502.4 433.7L505.0 433.9L507.6 434.1L510.2 434.4L512.7 434.6L515.3 434.9L517.9 435.1L520.5 435.4L523.1 435.7L525.6 436.1L528.2 436.4L530.8 436.7L533.4 437.0L536.0 437.4L538.6 437.7L541.1 438.1L543.7 438.5L546.3 438.8L548.9 439.2L551.5 439.5L554.0 439.9L556.6 440.2L559.2 440.5L561.8 440.8L564.4 441.2L566.9 441.4L569.5 441.7L572.1 442.0L574.7 442.3L577.3 442.5L579.9 442.8L582.4 443.0L585.0 443.2L587.6 443.4L590.2 443.6L592.8 443.8L595.3 444.0L597.9 444.2L600.5 444.4L603.1 444.6L605.7 444.8L608.2 444.9L610.8 445.1L613.4 445.3L616.0 445.4L618.6 445.6L621.2 445.8L623.7 446.0L626.3 446.1L628.9 446.3L631.5 446.5L634.1 446.7L636.6 446.9L639.2 447.1L641.8 447.4L644.4 447.6L647.0 447.8L649.5 448.1L652.1 448.3L654.7 448.6L657.3 448.9L659.9 449.2L662.5 449.4L665.0 449.7L667.6 450.1L670.2 450.4L672.8 450.7L675.4 451.0L677.9 451.4L680.5 451.7L683.1 452.1L685.7 452.4L688.3 452.8L690.8 453.1L693.4 453.5L696.0 453.9L698.6 454.3L701.2 454.8L703.8 455.2L706.3 455.6L708.9 456.1L711.5 456.6L714.1 457.0L716.7 457.5L719.2 458.0L721.8 458.5L724.4 458.9L727.0 459.4L729.6 459.8L732.1 460.2L734.7 460.6L737.3 460.9L739.9 461.2L742.5 461.5L745.1 461.8L747.6 462.1L750.2 462.3L752.8 462.5L755.4 462.7L758.0 462.8L760.5 463.0L763.1 463.1L765.7 463.3L768.3 463.4L770.9 463.5L773.4 463.6L776.0 463.7L778.6 463.7L781.2 463.8L783.8 463.9L786.4 463.9L788.9 464.0L791.5 464.1L794.1 464.1L796.7 464.2L799.3 464.2L801.8 464.3L804.4 464.3L807.0 464.3L809.6 464.4L812.2 464.4L814.7 464.5L817.3 464.5L819.9 464.5L822.5 464.6L825.1 464.6L827.7 464.6L830.2 464.7L832.8 464.7L835.4 464.7L838.0 464.7L840.6 464.8L843.1 464.8L845.7 464.8L848.3 464.8L850.9 464.9L853.5 464.9L856.0 464.9L858.6 464.9L861.2 465.0L863.8 465.0L866.4 465.0L869.0 465.0L871.5 465.1L874.1 465.1L876.7 465.1L879.3 465.1L881.9 465.1L884.4 465.2L887.0 465.2L889.6 465.2L892.2 465.2L894.8 465.3L897.3 465.3L899.9 465.3L902.5 465.3L905.1 465.4L907.7 465.4L910.3 465.4L912.8 465.4L915.4 465.5L918.0 465.5L920.6 465.6L923.2 465.6L925.7 465.6L928.3 465.7L930.9 465.8L933.5 465.8L936.1 465.9L938.6 466.0L941.2 466.0L943.8 466.1L946.4 466.2L949.0 466.3L951.5 466.4L954.1 466.5L956.7 466.7L959.3 466.8L961.9 467.0L964.5 467.1L967.0 467.3L969.6 467.5L972.2 467.7L974.8 467.9L977.4 468.1L979.9 468.4L982.5 468.7L985.1 468.9L987.7 469.2L990.3 469.5L992.8 469.8L995.4 470.1L998.0 470.4L1000.6 470.8L1003.2 471.1L1005.8 471.4L1008.3 471.8L1010.9 472.1L1013.5 472.4L1016.1 472.7L1018.7 472.9L1021.2 473.2L1023.8 473.4L1026.4 473.6L1029.0 473.8L1031.6 473.9L1034.1 474.1L1036.7 474.1L1039.3 474.2L1041.9 474.2L1044.5 474.1L1047.1 474.1L1049.6 473.9L1052.2 473.8L1054.8 473.6L1057.4 473.3L1060.0 473.1L1062.5 472.7L1065.1 472.3L1067.7 471.9L1070.3 471.4L1072.9 470.9L1075.4 470.3L1078.0 469.6L1080.6 468.9L1083.2 468.1L1085.8 467.2L1088.4 466.3L1090.9 465.2L1093.5 464.0L1096.1 462.7L1098.7 461.3L1101.3 459.7L1103.8 458.0L1106.4 456.0L1109.0 453.9L1111.6 451.4L1114.2 448.7L1116.7 445.6L1119.3 442.2L1121.9 438.3L1124.5 433.9L1127.1 428.9L1129.7 423.3L1132.2 417.0L1134.8 409.9L1137.4 402.0L1140.0 393.1L1142.6 383.3L1145.1 372.4L1147.7 360.5L1150.3 347.6L1152.9 333.8L1155.5 319.2L1158.0 304.1L1160.6 289.0L1163.2 274.5L1165.8 261.1L1168.4 249.9L1171.0 241.5L1173.5 236.7L1176.1 236.1L1178.7 240.1L1181.3 248.7L1183.9 261.2L1186.4 276.5L1189.0 293.7L1191.6 311.8L1194.2 329.9L1196.8 347.5L1199.3 364.3L1201.9 379.9L1204.5 394.2L1207.1 407.3L1209.7 419.1L1212.3 429.7L1214.8 439.1L1217.4 447.6L1220.0 455.1L1222.6 461.7L1225.2 467.6L1227.7 472.8L1230.3 477.4L1232.9 481.5L1235.5 485.1L1238.1 488.3L1240.6 491.2L1243.2 493.8L1245.8 496.1L1248.4 498.2L1251.0 500.2L1253.6 501.9L1256.1 503.5L1258.7 504.9L1261.3 506.3L1263.9 507.5L1266.5 508.7L1269.0 509.7L1271.6 510.7L1274.2 511.6L1276.8 512.5L1279.4 513.3L1281.9 514.0L1284.5 514.7L1287.1 515.4L1289.7 516.0L1292.3 516.6L1294.9 517.1L1297.4 517.6L1300.0 518.1L1302.6 518.6L1305.2 519.0L1307.8 519.4L1310.3 519.8L1312.9 520.2L1315.5 520.5L1318.1 520.9L1320.7 521.2L1323.2 521.5L1325.8 521.8L1328.4 522.1L1331.0 522.3L1333.6 522.6L1336.2 522.8L1338.7 523.0L1341.3 523.3L1343.9 523.5L1346.5 523.7L1349.1 523.9L1351.6 524.1L1354.2 524.2L1356.8 524.4L1359.4 524.6L1362.0 524.7L1364.5 524.9L1367.1 525.1L1369.7 525.2L1372.3 525.3L1374.9 525.5L1377.5 525.6L1380.0 525.7L1382.6 525.8L1385.2 526.0L1387.8 526.1L1390.4 526.2L1392.9 526.3L1395.5 526.4L1398.1 526.5L1400.7 526.6L1403.3 526.7L1405.8 526.8L1408.4 526.8L1411.0 526.9L1413.6 527.0L1416.2 527.1L1418.8 527.2L1421.3 527.3L1423.9 527.3L1426.5 527.4L1429.1 527.5L1431.7 527.5L1434.2 527.6L1436.8 527.7L1439.4 527.7" stroke="#000" stroke-width="5"/><path d="M381.1 422.5L383.7 422.3L386.3 422.0L388.8 421.8L391.4 421.5L394.0 421.2L396.6 421.0L399.2 420.7L401.7 420.3L404.3 420.0L406.9 419.7L409.5 419.3L412.1 418.9L414.7 418.5L417.2 418.1L419.8 417.6L422.4 417.1L425.0 416.6L427.6 416.1L430.1 415.5L432.7 414.9L435.3 414.3L437.9 413.6L440.5 412.9L443.0 412.2L445.6 411.4L448.2 410.5L450.8 409.6L453.4 408.6L456.0 407.6L458.5 406.5L461.1 405.3L463.7 404.1L466.3 402.7L468.9 401.3L471.4 399.8L474.0 398.2L476.6 396.4L479.2 394.6L481.8 392.6L484.3 390.4L486.9 388.2L489.5 385.7L492.1 383.2L494.7 380.4L497.3 377.5L499.8 374.5L502.4 371.3L505.0 367.9L507.6 364.4L510.2 360.8L512.7 357.1L515.3 353.4L517.9 349.6L520.5 346.0L523.1 342.5L525.6 339.2L528.2 336.3L530.8 333.7L533.4 331.7L536.0 330.2L538.6 329.3L541.1 329.1L543.7 329.7L546.3 330.9L548.9 332.9L551.5 335.4L554.0 338.5L556.6 342.1L559.2 346.0L561.8 350.1L564.4 354.4L566.9 358.8L569.5 363.2L572.1 367.5L574.7 371.8L577.3 375.9L579.9 379.8L582.4 383.6L585.0 387.2L587.6 390.6L590.2 393.8L592.8 396.8L595.3 399.6L597.9 402.3L600.5 404.8L603.1 407.2L605.7 409.4L608.2 411.4L610.8 413.4L613.4 415.2L616.0 416.9L618.6 418.5L621.2 420.1L623.7 421.5L626.3 422.9L628.9 424.2L631.5 425.4L634.1 426.6L636.6 427.7L639.2 428.8L641.8 429.8L644.4 430.8L647.0 431.8L649.5 432.7L652.1 433.6L654.7 434.5L657.3 435.4L659.9 436.2L662.5 437.0L665.0 437.8L667.6 438.6L670.2 439.3L672.8 440.1L675.4 440.8L677.9 441.5L680.5 442.2L683.1 442.9L685.7 443.6L688.3 444.3L690.8 445.0L693.4 445.6L696.0 446.3L698.6 447.0L701.2 447.7L703.8 448.3L706.3 449.0L708.9 449.7L711.5 450.4L714.1 451.1L716.7 451.8L719.2 452.4L721.8 453.1L724.4 453.7L727.0 454.3L729.6 454.9L732.1 455.5L734.7 456.0L737.3 456.5L739.9 457.0L742.5 457.4L745.1 457.8L747.6 458.2L750.2 458.6L752.8 458.9L755.4 459.2L758.0 459.5L760.5 459.8L763.1 460.0L765.7 460.2L768.3 460.5L770.9 460.7L773.4 460.9L776.0 461.1L778.6 461.2L781.2 461.4L783.8 461.6L786.4 461.7L788.9 461.9L791.5 462.0L794.1 462.2L796.7 462.3L799.3 462.4L801.8 462.5L804.4 462.7L807.0 462.8L809.6 462.9L812.2 463.0L814.7 463.1L817.3 463.2L819.9 463.3L822.5 463.5L825.1 463.6L827.7 463.7L830.2 463.8L832.8 463.9L835.4 464.0L838.0 464.0L840.6 464.1L843.1 464.2L845.7 464.3L848.3 464.4L850.9 464.5L853.5 464.6L856.0 464.7L858.6 464.8L861.2 464.9L863.8 465.0L866.4 465.0L869.0 465.1L871.5 465.2L874.1 465.3L876.7 465.4L879.3 465.5L881.9 465.6L884.4 465.7L887.0 465.8L889.6 465.8L892.2 465.9L894.8 466.0L897.3 466.1L899.9 466.2L902.5 466.3L905.1 466.4L907.7 466.5L910.3 466.6L912.8 466.7L915.4 466.8L918.0 467.0L920.6 467.1L923.2 467.2L925.7 467.3L928.3 467.5L930.9 467.6L933.5 467.8L936.1 467.9L938.6 468.1L941.2 468.3L943.8 468.4L946.4 468.6L949.0 468.8L951.5 469.0L954.1 469.3L956.7 469.5L959.3 469.8L961.9 470.0L964.5 470.3L967.0 470.6L969.6 470.9L972.2 471.3L974.8 471.6L977.4 472.0L979.9 472.4L982.5 472.8L985.1 473.2L987.7 473.6L990.3 474.1L992.8 474.6L995.4 475.1L998.0 475.6L1000.6 476.1L1003.2 476.6L1005.8 477.1L1008.3 477.7L1010.9 478.2L1013.5 478.8L1016.1 479.3L1018.7 479.8L1021.2 480.3L1023.8 480.8L1026.4 481.3L1029.0 481.8L1031.6 482.3L1034.1 482.7L1036.7 483.1L1039.3 483.6L1041.9 483.9L1044.5 484.3L1047.1 484.7L1049.6 485.0L1052.2 485.4L1054.8 485.7L1057.4 486.0L1060.0 486.3L1062.5 486.6L1065.1 486.8L1067.7 487.1L1070.3 487.4L1072.9 487.6L1075.4 487.9L1078.0 488.1L1080.6 488.4L1083.2 488.6L1085.8 488.9L1088.4 489.1L1090.9 489.4L1093.5 489.7L1096.1 490.0L1098.7 490.3L1101.3 490.7L1103.8 491.0L1106.4 491.4L1109.0 491.8L1111.6 492.2L1114.2 492.7L1116.7 493.2L1119.3 493.7L1121.9 494.3L1124.5 494.9L1127.1 495.5L1129.7 496.2L1132.2 496.9L1134.8 497.7L1137.4 498.5L1140.0 499.4L1142.6 500.3L1145.1 501.2L1147.7 502.1L1150.3 503.1L1152.9 504.1L1155.5 505.1L1158.0 506.2L1160.6 507.2L1163.2 508.3L1165.8 509.4L1168.4 510.5L1171.0 511.7L1173.5 512.8L1176.1 513.9L1178.7 515.0L1181.3 516.1L1183.9 517.1L1186.4 518.0L1189.0 518.9L1191.6 519.8L1194.2 520.5L1196.8 521.2L1199.3 521.9L1201.9 522.5L1204.5 523.0L1207.1 523.5L1209.7 523.9L1212.3 524.3L1214.8 524.6L1217.4 524.9L1220.0 525.2L1222.6 525.4L1225.2 525.7L1227.7 525.9L1230.3 526.1L1232.9 526.2L1235.5 526.4L1238.1 526.5L1240.6 526.7L1243.2 526.8L1245.8 526.9L1248.4 527.0L1251.0 527.1L1253.6 527.2L1256.1 527.3L1258.7 527.4L1261.3 527.5L1263.9 527.6L1266.5 527.7L1269.0 527.8L1271.6 527.8L1274.2 527.9L1276.8 528.0L1279.4 528.0L1281.9 528.1L1284.5 528.2L1287.1 528.2L1289.7 528.3L1292.3 528.3L1294.9 528.4L1297.4 528.4L1300.0 528.5L1302.6 528.5L1305.2 528.6L1307.8 528.6L1310.3 528.7L1312.9 528.7L1315.5 528.7L1318.1 528.8L1320.7 528.8L1323.2 528.9L1325.8 528.9L1328.4 528.9L1331.0 529.0L1333.6 529.0L1336.2 529.0L1338.7 529.1L1341.3 529.1L1343.9 529.1L1346.5 529.2L1349.1 529.2L1351.6 529.2L1354.2 529.2L1356.8 529.3L1359.4 529.3L1362.0 529.3L1364.5 529.4L1367.1 529.4L1369.7 529.4L1372.3 529.4L1374.9 529.5L1377.5 529.5L1380.0 529.5L1382.6 529.5L1385.2 529.5L1387.8 529.6L1390.4 529.6L1392.9 529.6L1395.5 529.6L1398.1 529.6L1400.7 529.7L1403.3 529.7L1405.8 529.7L1408.4 529.7L1411.0 529.7L1413.6 529.8L1416.2 529.8L1418.8 529.8L1421.3 529.8L1423.9 529.8L1426.5 529.8L1429.1 529.9L1431.7 529.9L1434.2 529.9L1436.8 529.9L1439.4 529.9" stroke="#008000" stroke-width="5"/><path d="M381.1 429.9L383.7 429.9L386.3 429.9L388.8 430.0L391.4 430.0L394.0 430.0L396.6 430.0L399.2 430.0L401.7 430.1L404.3 430.1L406.9 430.1L409.5 430.1L412.1 430.2L414.7 430.2L417.2 430.2L419.8 430.2L422.4 430.3L425.0 430.3L427.6 430.3L430.1 430.4L432.7 430.4L435.3 430.4L437.9 430.5L440.5 430.5L443.0 430.6L445.6 430.6L448.2 430.7L450.8 430.7L453.4 430.8L456.0 430.8L458.5 430.9L461.1 430.9L463.7 431.0L466.3 431.1L468.9 431.2L471.4 431.3L474.0 431.4L476.6 431.5L479.2 431.6L481.8 431.7L484.3 431.8L486.9 431.9L489.5 432.1L492.1 432.2L494.7 432.4L497.3 432.5L499.8 432.7L502.4 432.9L505.0 433.1L507.6 433.3L510.2 433.6L512.7 433.8L515.3 434.1L517.9 434.3L520.5 434.6L523.1 434.9L525.6 435.2L528.2 435.5L530.8 435.8L533.4 436.2L536.0 436.5L538.6 436.9L541.1 437.2L543.7 437.5L546.3 437.9L548.9 438.2L551.5 438.6L554.0 438.9L556.6 439.2L559.2 439.5L561.8 439.8L564.4 440.1L566.9 440.4L569.5 440.7L572.1 441.0L574.7 441.2L577.3 441.4L579.9 441.7L582.4 441.9L585.0 442.1L587.6 442.3L590.2 442.5L592.8 442.7L595.3 442.8L597.9 443.0L600.5 443.2L603.1 443.3L605.7 443.5L608.2 443.6L610.8 443.8L613.4 443.9L616.0 444.1L618.6 444.2L621.2 444.4L623.7 444.6L626.3 444.7L628.9 444.9L631.5 445.1L634.1 445.2L636.6 445.4L639.2 445.6L641.8 445.8L644.4 446.0L647.0 446.2L649.5 446.4L652.1 446.7L654.7 446.9L657.3 447.2L659.9 447.4L662.5 447.7L665.0 447.9L667.6 448.2L670.2 448.5L672.8 448.8L675.4 449.1L677.9 449.4L680.5 449.7L683.1 450.0L685.7 450.3L688.3 450.7L690.8 451.0L693.4 451.3L696.0 451.7L698.6 452.1L701.2 452.4L703.8 452.8L706.3 453.2L708.9 453.7L711.5 454.1L714.1 454.5L716.7 454.9L719.2 455.4L721.8 455.8L724.4 456.2L727.0 456.6L729.6 456.9L732.1 457.3L734.7 457.6L737.3 457.9L739.9 458.1L742.5 458.4L745.1 458.6L747.6 458.7L750.2 458.9L752.8 459.0L755.4 459.1L758.0 459.2L760.5 459.3L763.1 459.3L765.7 459.4L768.3 459.4L770.9 459.4L773.4 459.4L776.0 459.4L778.6 459.4L781.2 459.4L783.8 459.3L786.4 459.3L788.9 459.2L791.5 459.1L794.1 459.1L796.7 459.0L799.3 458.9L801.8 458.8L804.4 458.7L807.0 458.6L809.6 458.5L812.2 458.3L814.7 458.2L817.3 458.1L819.9 457.9L822.5 457.8L825.1 457.6L827.7 457.4L830.2 457.2L832.8 457.0L835.4 456.8L838.0 456.6L840.6 456.4L843.1 456.1L845.7 455.9L848.3 455.6L850.9 455.3L853.5 455.0L856.0 454.7L858.6 454.4L861.2 454.0L863.8 453.6L866.4 453.3L869.0 452.8L871.5 452.4L874.1 452.0L876.7 451.5L879.3 451.0L881.9 450.4L884.4 449.8L887.0 449.2L889.6 448.6L892.2 447.9L894.8 447.2L897.3 446.4L899.9 445.6L902.5 444.7L905.1 443.8L907.7 442.8L910.3 441.7L912.8 440.6L915.4 439.3L918.0 438.0L920.6 436.7L923.2 435.2L925.7 433.6L928.3 431.9L930.9 430.0L933.5 428.1L936.1 425.9L938.6 423.7L941.2 421.3L943.8 418.7L946.4 415.9L949.0 412.9L951.5 409.8L954.1 406.4L956.7 402.8L959.3 398.9L961.9 394.9L964.5 390.6L967.0 386.0L969.6 381.3L972.2 376.3L974.8 371.1L977.4 365.8L979.9 360.4L982.5 354.9L985.1 349.5L987.7 344.1L990.3 339.0L992.8 334.2L995.4 329.9L998.0 326.2L1000.6 323.3L1003.2 321.1L1005.8 319.9L1008.3 319.6L1010.9 320.5L1013.5 322.4L1016.1 325.4L1018.7 329.3L1021.2 334.1L1023.8 339.6L1026.4 345.6L1029.0 351.9L1031.6 358.5L1034.1 365.2L1036.7 371.8L1039.3 378.4L1041.9 384.7L1044.5 390.9L1047.1 396.8L1049.6 402.4L1052.2 407.7L1054.8 412.7L1057.4 417.4L1060.0 421.9L1062.5 426.0L1065.1 429.9L1067.7 433.5L1070.3 436.9L1072.9 440.1L1075.4 443.1L1078.0 445.9L1080.6 448.5L1083.2 450.9L1085.8 453.2L1088.4 455.3L1090.9 457.4L1093.5 459.3L1096.1 461.1L1098.7 462.8L1101.3 464.5L1103.8 466.1L1106.4 467.6L1109.0 469.1L1111.6 470.5L1114.2 471.9L1116.7 473.3L1119.3 474.7L1121.9 476.0L1124.5 477.4L1127.1 478.7L1129.7 480.1L1132.2 481.4L1134.8 482.8L1137.4 484.1L1140.0 485.5L1142.6 486.9L1145.1 488.3L1147.7 489.7L1150.3 491.1L1152.9 492.5L1155.5 493.9L1158.0 495.3L1160.6 496.7L1163.2 498.2L1165.8 499.6L1168.4 501.0L1171.0 502.5L1173.5 503.9L1176.1 505.2L1178.7 506.6L1181.3 507.9L1183.9 509.1L1186.4 510.3L1189.0 511.5L1191.6 512.5L1194.2 513.5L1196.8 514.4L1199.3 515.2L1201.9 515.9L1204.5 516.6L1207.1 517.3L1209.7 517.9L1212.3 518.4L1214.8 518.9L1217.4 519.3L1220.0 519.7L1222.6 520.1L1225.2 520.5L1227.7 520.8L1230.3 521.1L1232.9 521.4L1235.5 521.7L1238.1 521.9L1240.6 522.2L1243.2 522.4L1245.8 522.6L1248.4 522.8L1251.0 523.0L1253.6 523.2L1256.1 523.4L1258.7 523.6L1261.3 523.8L1263.9 523.9L1266.5 524.1L1269.0 524.2L1271.6 524.4L1274.2 524.5L1276.8 524.6L1279.4 524.8L1281.9 524.9L1284.5 525.0L1287.1 525.1L1289.7 525.3L1292.3 525.4L1294.9 525.5L1297.4 525.6L1300.0 525.7L1302.6 525.8L1305.2 525.9L1307.8 526.0L1310.3 526.1L1312.9 526.2L1315.5 526.2L1318.1 526.3L1320.7 526.4L1323.2 526.5L1325.8 526.6L1328.4 526.6L1331.0 526.7L1333.6 526.8L1336.2 526.9L1338.7 526.9L1341.3 527.0L1343.9 527.1L1346.5 527.1L1349.1 527.2L1351.6 527.3L1354.2 527.3L1356.8 527.4L1359.4 527.4L1362.0 527.5L1364.5 527.5L1367.1 527.6L1369.7 527.6L1372.3 527.7L1374.9 527.7L1377.5 527.8L1380.0 527.8L1382.6 527.9L1385.2 527.9L1387.8 528.0L1390.4 528.0L1392.9 528.1L1395.5 528.1L1398.1 528.2L1400.7 528.2L1403.3 528.2L1405.8 528.3L1408.4 528.3L1411.0 528.4L1413.6 528.4L1416.2 528.4L1418.8 528.5L1421.3 528.5L1423.9 528.5L1426.5 528.6L1429.1 528.6L1431.7 528.6L1434.2 528.7L1436.8 528.7L1439.4 528.7" stroke="#008000" stroke-width="5"/><path d="M381.1 429.3L383.7 429.3L386.3 429.3L388.8 429.3L391.4 429.3L394.0 429.3L396.6 429.3L399.2 429.3L401.7 429.3L404.3 429.3L406.9 429.3L409.5 429.3L412.1 429.3L414.7 429.3L417.2 429.3L419.8 429.3L422.4 429.3L425.0 429.3L427.6 429.3L430.1 429.3L432.7 429.3L435.3 429.3L437.9 429.3L440.5 429.3L443.0 429.3L445.6 429.3L448.2 429.3L450.8 429.3L453.4 429.3L456.0 429.3L458.5 429.4L461.1 429.4L463.7 429.4L466.3 429.4L468.9 429.4L471.4 429.5L474.0 429.5L476.6 429.5L479.2 429.6L481.8 429.6L484.3 429.6L486.9 429.7L489.5 429.7L492.1 429.8L494.7 429.9L497.3 430.0L499.8 430.0L502.4 430.1L505.0 430.2L507.6 430.3L510.2 430.4L512.7 430.6L515.3 430.7L517.9 430.8L520.5 431.0L523.1 431.1L525.6 431.2L528.2 431.4L530.8 431.5L533.4 431.7L536.0 431.8L538.6 432.0L541.1 432.1L543.7 432.2L546.3 432.3L548.9 432.4L551.5 432.4L554.0 432.5L556.6 432.5L559.2 432.5L561.8 432.4L564.4 432.3L566.9 432.2L569.5 432.1L572.1 431.9L574.7 431.7L577.3 431.4L579.9 431.1L582.4 430.7L585.0 430.2L587.6 429.8L590.2 429.2L592.8 428.6L595.3 427.9L597.9 427.2L600.5 426.4L603.1 425.5L605.7 424.5L608.2 423.4L610.8 422.2L613.4 421.0L616.0 419.6L618.6 418.1L621.2 416.4L623.7 414.7L626.3 412.8L628.9 410.8L631.5 408.6L634.1 406.3L636.6 403.9L639.2 401.4L641.8 398.9L644.4 396.3L647.0 393.7L649.5 391.2L652.1 388.9L654.7 386.7L657.3 384.9L659.9 383.4L662.5 382.4L665.0 381.8L667.6 381.8L670.2 382.4L672.8 383.6L675.4 385.4L677.9 387.6L680.5 390.3L683.1 393.2L685.7 396.4L688.3 399.7L690.8 403.1L693.4 406.5L696.0 409.8L698.6 413.0L701.2 416.2L703.8 419.1L706.3 422.0L708.9 424.7L711.5 427.3L714.1 429.7L716.7 432.0L719.2 434.1L721.8 436.1L724.4 438.0L727.0 439.8L729.6 441.4L732.1 443.0L734.7 444.4L737.3 445.7L739.9 446.9L742.5 448.0L745.1 449.1L747.6 450.1L750.2 451.0L752.8 451.8L755.4 452.6L758.0 453.3L760.5 454.0L763.1 454.6L765.7 455.2L768.3 455.7L770.9 456.2L773.4 456.7L776.0 457.1L778.6 457.5L781.2 457.9L783.8 458.3L786.4 458.6L788.9 459.0L791.5 459.3L794.1 459.6L796.7 459.9L799.3 460.1L801.8 460.4L804.4 460.6L807.0 460.9L809.6 461.1L812.2 461.3L814.7 461.5L817.3 461.7L819.9 461.9L822.5 462.1L825.1 462.3L827.7 462.5L830.2 462.6L832.8 462.8L835.4 463.0L838.0 463.1L840.6 463.3L843.1 463.4L845.7 463.5L848.3 463.7L850.9 463.8L853.5 463.9L856.0 464.1L858.6 464.2L861.2 464.3L863.8 464.4L866.4 464.6L869.0 464.7L871.5 464.8L874.1 464.9L876.7 465.0L879.3 465.1L881.9 465.3L884.4 465.4L887.0 465.5L889.6 465.6L892.2 465.7L894.8 465.8L897.3 465.9L899.9 466.0L902.5 466.2L905.1 466.3L907.7 466.4L910.3 466.5L912.8 466.6L915.4 466.8L918.0 466.9L920.6 467.0L923.2 467.2L925.7 467.3L928.3 467.4L930.9 467.6L933.5 467.7L936.1 467.9L938.6 468.1L941.2 468.3L943.8 468.4L946.4 468.6L949.0 468.9L951.5 469.1L954.1 469.3L956.7 469.6L959.3 469.8L961.9 470.1L964.5 470.4L967.0 470.7L969.6 471.0L972.2 471.3L974.8 471.7L977.4 472.1L979.9 472.5L982.5 472.9L985.1 473.3L987.7 473.7L990.3 474.2L992.8 474.7L995.4 475.2L998.0 475.7L1000.6 476.2L1003.2 476.7L1005.8 477.3L1008.3 477.8L1010.9 478.3L1013.5 478.9L1016.1 479.4L1018.7 479.9L1021.2 480.5L1023.8 481.0L1026.4 481.5L1029.0 481.9L1031.6 482.4L1034.1 482.9L1036.7 483.3L1039.3 483.7L1041.9 484.1L1044.5 484.5L1047.1 484.8L1049.6 485.2L1052.2 485.5L1054.8 485.8L1057.4 486.1L1060.0 486.4L1062.5 486.7L1065.1 487.0L1067.7 487.2L1070.3 487.5L1072.9 487.8L1075.4 488.0L1078.0 488.3L1080.6 488.5L1083.2 488.8L1085.8 489.0L1088.4 489.3L1090.9 489.6L1093.5 489.9L1096.1 490.2L1098.7 490.5L1101.3 490.8L1103.8 491.2L1106.4 491.5L1109.0 491.9L1111.6 492.4L1114.2 492.8L1116.7 493.3L1119.3 493.8L1121.9 494.4L1124.5 495.0L1127.1 495.7L1129.7 496.4L1132.2 497.1L1134.8 497.9L1137.4 498.7L1140.0 499.5L1142.6 500.4L1145.1 501.3L1147.7 502.3L1150.3 503.2L1152.9 504.2L1155.5 505.3L1158.0 506.3L1160.6 507.4L1163.2 508.5L1165.8 509.6L1168.4 510.7L1171.0 511.8L1173.5 512.9L1176.1 514.1L1178.7 515.2L1181.3 516.2L1183.9 517.2L1186.4 518.2L1189.0 519.1L1191.6 519.9L1194.2 520.7L1196.8 521.4L1199.3 522.0L1201.9 522.6L1204.5 523.1L1207.1 523.6L1209.7 524.0L1212.3 524.4L1214.8 524.7L1217.4 525.1L1220.0 525.3L1222.6 525.6L1225.2 525.8L1227.7 526.0L1230.3 526.2L1232.9 526.4L1235.5 526.5L1238.1 526.7L1240.6 526.8L1243.2 526.9L1245.8 527.1L1248.4 527.2L1251.0 527.3L1253.6 527.4L1256.1 527.5L1258.7 527.6L1261.3 527.7L1263.9 527.7L1266.5 527.8L1269.0 527.9L1271.6 528.0L1274.2 528.0L1276.8 528.1L1279.4 528.2L1281.9 528.2L1284.5 528.3L1287.1 528.3L1289.7 528.4L1292.3 528.5L1294.9 528.5L1297.4 528.6L1300.0 528.6L1302.6 528.7L1305.2 528.7L1307.8 528.7L1310.3 528.8L1312.9 528.8L1315.5 528.9L1318.1 528.9L1320.7 528.9L1323.2 529.0L1325.8 529.0L1328.4 529.1L1331.0 529.1L1333.6 529.1L1336.2 529.2L1338.7 529.2L1341.3 529.2L1343.9 529.2L1346.5 529.3L1349.1 529.3L1351.6 529.3L1354.2 529.4L1356.8 529.4L1359.4 529.4L1362.0 529.4L1364.5 529.5L1367.1 529.5L1369.7 529.5L1372.3 529.5L1374.9 529.6L1377.5 529.6L1380.0 529.6L1382.6 529.6L1385.2 529.6L1387.8 529.7L1390.4 529.7L1392.9 529.7L1395.5 529.7L1398.1 529.8L1400.7 529.8L1403.3 529.8L1405.8 529.8L1408.4 529.8L1411.0 529.8L1413.6 529.9L1416.2 529.9L1418.8 529.9L1421.3 529.9L1423.9 529.9L1426.5 529.9L1429.1 530.0L1431.7 530.0L1434.2 530.0L1436.8 530.0L1439.4 530.0" stroke="#ff00ff" stroke-width="5"/><path d="M381.1 430.4L383.7 430.4L386.3 430.4L388.8 430.5L391.4 430.5L394.0 430.5L396.6 430.5L399.2 430.6L401.7 430.6L404.3 430.6L406.9 430.6L409.5 430.7L412.1 430.7L414.7 430.7L417.2 430.8L419.8 430.8L422.4 430.8L425.0 430.9L427.6 430.9L430.1 430.9L432.7 431.0L435.3 431.0L437.9 431.1L440.5 431.1L443.0 431.2L445.6 431.2L448.2 431.3L450.8 431.3L453.4 431.4L456.0 431.5L458.5 431.5L461.1 431.6L463.7 431.7L466.3 431.8L468.9 431.8L471.4 431.9L474.0 432.0L476.6 432.1L479.2 432.3L481.8 432.4L484.3 432.5L486.9 432.7L489.5 432.8L492.1 433.0L494.7 433.1L497.3 433.3L499.8 433.5L502.4 433.7L505.0 433.9L507.6 434.1L510.2 434.4L512.7 434.6L515.3 434.9L517.9 435.2L520.5 435.5L523.1 435.8L525.6 436.1L528.2 436.4L530.8 436.7L533.4 437.1L536.0 437.4L538.6 437.8L541.1 438.1L543.7 438.5L546.3 438.8L548.9 439.2L551.5 439.5L554.0 439.9L556.6 440.2L559.2 440.5L561.8 440.9L564.4 441.2L566.9 441.5L569.5 441.8L572.1 442.0L574.7 442.3L577.3 442.5L579.9 442.8L582.4 443.0L585.0 443.2L587.6 443.5L590.2 443.7L592.8 443.9L595.3 444.1L597.9 444.2L600.5 444.4L603.1 444.6L605.7 444.8L608.2 444.9L610.8 445.1L613.4 445.3L616.0 445.5L618.6 445.6L621.2 445.8L623.7 446.0L626.3 446.2L628.9 446.3L631.5 446.5L634.1 446.7L636.6 446.9L639.2 447.2L641.8 447.4L644.4 447.6L647.0 447.8L649.5 448.1L652.1 448.3L654.7 448.6L657.3 448.9L659.9 449.2L662.5 449.5L665.0 449.8L667.6 450.1L670.2 450.4L672.8 450.7L675.4 451.0L677.9 451.4L680.5 451.7L683.1 452.1L685.7 452.4L688.3 452.8L690.8 453.2L693.4 453.5L696.0 453.9L698.6 454.3L701.2 454.8L703.8 455.2L706.3 455.6L708.9 456.1L711.5 456.6L714.1 457.1L716.7 457.5L719.2 458.0L721.8 458.5L724.4 458.9L727.0 459.4L729.6 459.8L732.1 460.2L734.7 460.6L737.3 460.9L739.9 461.2L742.5 461.5L745.1 461.8L747.6 462.0L750.2 462.3L752.8 462.5L755.4 462.7L758.0 462.8L760.5 463.0L763.1 463.1L765.7 463.2L768.3 463.3L770.9 463.5L773.4 463.5L776.0 463.6L778.6 463.7L781.2 463.8L783.8 463.8L786.4 463.9L788.9 464.0L791.5 464.0L794.1 464.1L796.7 464.1L799.3 464.2L801.8 464.2L804.4 464.3L807.0 464.3L809.6 464.3L812.2 464.4L814.7 464.4L817.3 464.4L819.9 464.5L822.5 464.5L825.1 464.5L827.7 464.5L830.2 464.6L832.8 464.6L835.4 464.6L838.0 464.6L840.6 464.7L843.1 464.7L845.7 464.7L848.3 464.7L850.9 464.7L853.5 464.8L856.0 464.8L858.6 464.8L861.2 464.8L863.8 464.8L866.4 464.8L869.0 464.9L871.5 464.9L874.1 464.9L876.7 464.9L879.3 464.9L881.9 464.9L884.4 464.9L887.0 464.9L889.6 465.0L892.2 465.0L894.8 465.0L897.3 465.0L899.9 465.0L902.5 465.0L905.1 465.0L907.7 465.0L910.3 465.1L912.8 465.1L915.4 465.1L918.0 465.1L920.6 465.1L923.2 465.2L925.7 465.2L928.3 465.2L930.9 465.3L933.5 465.3L936.1 465.3L938.6 465.4L941.2 465.4L943.8 465.5L946.4 465.5L949.0 465.6L951.5 465.7L954.1 465.8L956.7 465.9L959.3 466.0L961.9 466.1L964.5 466.2L967.0 466.3L969.6 466.5L972.2 466.6L974.8 466.8L977.4 466.9L979.9 467.1L982.5 467.3L985.1 467.5L987.7 467.7L990.3 467.9L992.8 468.2L995.4 468.4L998.0 468.6L1000.6 468.8L1003.2 469.0L1005.8 469.2L1008.3 469.4L1010.9 469.6L1013.5 469.8L1016.1 469.9L1018.7 470.0L1021.2 470.1L1023.8 470.1L1026.4 470.1L1029.0 470.0L1031.6 469.9L1034.1 469.8L1036.7 469.5L1039.3 469.3L1041.9 468.9L1044.5 468.5L1047.1 468.0L1049.6 467.4L1052.2 466.8L1054.8 466.1L1057.4 465.2L1060.0 464.3L1062.5 463.2L1065.1 462.1L1067.7 460.8L1070.3 459.4L1072.9 457.8L1075.4 456.0L1078.0 454.1L1080.6 451.9L1083.2 449.5L1085.8 446.9L1088.4 444.0L1090.9 440.8L1093.5 437.3L1096.1 433.4L1098.7 429.0L1101.3 424.3L1103.8 419.1L1106.4 413.4L1109.0 407.1L1111.6 400.4L1114.2 393.2L1116.7 385.5L1119.3 377.5L1121.9 369.3L1124.5 361.2L1127.1 353.5L1129.7 346.5L1132.2 340.6L1134.8 336.2L1137.4 333.7L1140.0 333.3L1142.6 335.1L1145.1 339.0L1147.7 344.7L1150.3 352.1L1152.9 360.6L1155.5 369.9L1158.0 379.5L1160.6 389.3L1163.2 398.9L1165.8 408.2L1168.4 417.1L1171.0 425.5L1173.5 433.3L1176.1 440.6L1178.7 447.3L1181.3 453.5L1183.9 459.3L1186.4 464.5L1189.0 469.3L1191.6 473.6L1194.2 477.6L1196.8 481.2L1199.3 484.6L1201.9 487.6L1204.5 490.3L1207.1 492.8L1209.7 495.1L1212.3 497.2L1214.8 499.1L1217.4 500.9L1220.0 502.5L1222.6 504.0L1225.2 505.4L1227.7 506.6L1230.3 507.8L1232.9 508.9L1235.5 509.9L1238.1 510.8L1240.6 511.7L1243.2 512.5L1245.8 513.3L1248.4 514.0L1251.0 514.7L1253.6 515.3L1256.1 515.9L1258.7 516.5L1261.3 517.0L1263.9 517.5L1266.5 518.0L1269.0 518.5L1271.6 518.9L1274.2 519.3L1276.8 519.7L1279.4 520.0L1281.9 520.4L1284.5 520.7L1287.1 521.0L1289.7 521.3L1292.3 521.6L1294.9 521.9L1297.4 522.2L1300.0 522.4L1302.6 522.7L1305.2 522.9L1307.8 523.1L1310.3 523.3L1312.9 523.5L1315.5 523.7L1318.1 523.9L1320.7 524.1L1323.2 524.3L1325.8 524.4L1328.4 524.6L1331.0 524.7L1333.6 524.9L1336.2 525.0L1338.7 525.2L1341.3 525.3L1343.9 525.4L1346.5 525.6L1349.1 525.7L1351.6 525.8L1354.2 525.9L1356.8 526.0L1359.4 526.1L1362.0 526.2L1364.5 526.3L1367.1 526.4L1369.7 526.5L1372.3 526.6L1374.9 526.7L1377.5 526.8L1380.0 526.9L1382.6 527.0L1385.2 527.0L1387.8 527.1L1390.4 527.2L1392.9 527.3L1395.5 527.3L1398.1 527.4L1400.7 527.5L1403.3 527.5L1405.8 527.6L1408.4 527.7L1411.0 527.7L1413.6 527.8L1416.2 527.8L1418.8 527.9L1421.3 528.0L1423.9 528.0L1426.5 528.1L1429.1 528.1L1431.7 528.2L1434.2 528.2L1436.8 528.3L1439.4 528.3" stroke="#ff00ff" stroke-width="5"/></g>
<g fill="#fff" stroke="#000" stroke-width="1.2"><circle cx="381.1" cy="984.1" r="6.75"/><circle cx="383.7" cy="981.3" r="6.75"/><circle cx="386.3" cy="977.0" r="6.75"/><circle cx="388.8" cy="969.2" r="6.75"/><circle cx="391.4" cy="970.0" r="6.75"/><circle cx="394.0" cy="974.1" r="6.75"/><circle cx="396.6" cy="970.1" r="6.75"/><circle cx="399.2" cy="973.3" r="6.75"/><circle cx="401.7" cy="961.6" r="6.75"/><circle cx="404.3" cy="973.8" r="6.75"/><circle cx="406.9" cy="971.7" r="6.75"/><circle cx="409.5" cy="959.3" r="6.75"/><circle cx="412.1" cy="967.1" r="6.75"/><circle cx="414.7" cy="959.3" r="6.75"/><circle cx="417.2" cy="958.6" r="6.75"/><circle cx="419.8" cy="961.7" r="6.75"/><circle cx="422.4" cy="955.6" r="6.75"/><circle cx="425.0" cy="953.2" r="6.75"/><circle cx="427.6" cy="951.1" r="6.75"/><circle cx="430.1" cy="958.6" r="6.75"/><circle cx="432.7" cy="951.4" r="6.75"/><circle cx="435.3" cy="952.7" r="6.75"/><circle cx="437.9" cy="945.1" r="6.75"/><circle cx="440.5" cy="950.7" r="6.75"/><circle cx="443.0" cy="952.6" r="6.75"/><circle cx="445.6" cy="945.1" r="6.75"/><circle cx="448.2" cy="942.7" r="6.75"/><circle cx="450.8" cy="935.5" r="6.75"/><circle cx="453.4" cy="941.9" r="6.75"/><circle cx="456.0" cy="935.4" r="6.75"/><circle cx="458.5" cy="945.7" r="6.75"/><circle cx="461.1" cy="948.0" r="6.75"/><circle cx="463.7" cy="944.4" r="6.75"/><circle cx="466.3" cy="938.3" r="6.75"/><circle cx="468.9" cy="937.2" r="6.75"/><circle cx="471.4" cy="931.2" r="6.75"/><circle cx="474.0" cy="931.7" r="6.75"/><circle cx="476.6" cy="929.3" r="6.75"/><circle cx="479.2" cy="926.5" r="6.75"/><circle cx="481.8" cy="916.1" r="6.75"/><circle cx="484.3" cy="924.6" r="6.75"/><circle cx="486.9" cy="923.6" r="6.75"/><circle cx="489.5" cy="917.8" r="6.75"/><circle cx="492.1" cy="919.8" r="6.75"/><circle cx="494.7" cy="919.1" r="6.75"/><circle cx="497.3" cy="907.4" r="6.75"/><circle cx="499.8" cy="915.8" r="6.75"/><circle cx="502.4" cy="909.2" r="6.75"/><circle cx="505.0" cy="904.9" r="6.75"/><circle cx="507.6" cy="907.0" r="6.75"/><circle cx="510.2" cy="901.6" r="6.75"/><circle cx="512.7" cy="900.7" r="6.75"/><circle cx="515.3" cy="888.7" r="6.75"/><circle cx="517.9" cy="896.6" r="6.75"/><circle cx="520.5" cy="894.0" r="6.75"/><circle cx="523.1" cy="899.1" r="6.75"/><circle cx="525.6" cy="900.5" r="6.75"/><circle cx="528.2" cy="902.1" r="6.75"/><circle cx="530.8" cy="921.4" r="6.75"/><circle cx="533.4" cy="907.1" r="6.75"/><circle cx="536.0" cy="909.4" r="6.75"/><circle cx="538.6" cy="914.6" r="6.75"/><circle cx="541.1" cy="908.6" r="6.75"/><circle cx="543.7" cy="904.9" r="6.75"/><circle cx="546.3" cy="900.2" r="6.75"/><circle cx="548.9" cy="905.7" r="6.75"/><circle cx="551.5" cy="902.4" r="6.75"/><circle cx="554.0" cy="902.6" r="6.75"/><circle cx="556.6" cy="897.6" r="6.75"/><circle cx="559.2" cy="897.3" r="6.75"/><circle cx="561.8" cy="891.9" r="6.75"/><circle cx="564.4" cy="902.1" r="6.75"/><circle cx="566.9" cy="895.4" r="6.75"/><circle cx="569.5" cy="900.0" r="6.75"/><circle cx="572.1" cy="905.9" r="6.75"/><circle cx="574.7" cy="907.7" r="6.75"/><circle cx="577.3" cy="910.1" r="6.75"/><circle cx="579.9" cy="914.6" r="6.75"/><circle cx="582.4" cy="910.0" r="6.75"/><circle cx="585.0" cy="918.2" r="6.75"/><circle cx="587.6" cy="924.2" r="6.75"/><circle cx="590.2" cy="925.8" r="6.75"/><circle cx="592.8" cy="918.7" r="6.75"/><circle cx="595.3" cy="928.5" r="6.75"/><circle cx="597.9" cy="928.1" r="6.75"/><circle cx="600.5" cy="924.3" r="6.75"/><circle cx="603.1" cy="924.1" r="6.75"/><circle cx="605.7" cy="930.7" r="6.75"/><circle cx="608.2" cy="937.9" r="6.75"/><circle cx="610.8" cy="936.9" r="6.75"/><circle cx="613.4" cy="933.9" r="6.75"/><circle cx="616.0" cy="939.1" r="6.75"/><circle cx="618.6" cy="943.9" r="6.75"/><circle cx="621.2" cy="941.3" r="6.75"/><circle cx="623.7" cy="941.1" r="6.75"/><circle cx="626.3" cy="945.2" r="6.75"/><circle cx="628.9" cy="935.4" r="6.75"/><circle cx="631.5" cy="943.5" r="6.75"/><circle cx="634.1" cy="936.1" r="6.75"/><circle cx="636.6" cy="939.3" r="6.75"/><circle cx="639.2" cy="938.0" r="6.75"/><circle cx="641.8" cy="933.3" r="6.75"/><circle cx="644.4" cy="928.3" r="6.75"/><circle cx="647.0" cy="926.1" r="6.75"/><circle cx="649.5" cy="927.7" r="6.75"/><circle cx="652.1" cy="921.1" r="6.75"/><circle cx="654.7" cy="923.8" r="6.75"/><circle cx="657.3" cy="929.2" r="6.75"/><circle cx="659.9" cy="932.3" r="6.75"/><circle cx="662.5" cy="928.3" r="6.75"/><circle cx="665.0" cy="925.4" r="6.75"/><circle cx="667.6" cy="928.5" r="6.75"/><circle cx="670.2" cy="919.9" r="6.75"/><circle cx="672.8" cy="919.3" r="6.75"/><circle cx="675.4" cy="911.4" r="6.75"/><circle cx="677.9" cy="909.3" r="6.75"/><circle cx="680.5" cy="897.4" r="6.75"/><circle cx="683.1" cy="894.9" r="6.75"/><circle cx="685.7" cy="891.3" r="6.75"/><circle cx="688.3" cy="884.3" r="6.75"/><circle cx="690.8" cy="881.5" r="6.75"/><circle cx="693.4" cy="880.8" r="6.75"/><circle cx="696.0" cy="871.3" r="6.75"/><circle cx="698.6" cy="869.3" r="6.75"/><circle cx="701.2" cy="870.5" r="6.75"/><circle cx="703.8" cy="863.5" r="6.75"/><circle cx="706.3" cy="865.1" r="6.75"/><circle cx="708.9" cy="865.4" r="6.75"/><circle cx="711.5" cy="866.2" r="6.75"/><circle cx="714.1" cy="868.5" r="6.75"/><circle cx="716.7" cy="872.8" r="6.75"/><circle cx="719.2" cy="871.4" r="6.75"/><circle cx="721.8" cy="874.5" r="6.75"/><circle cx="724.4" cy="875.5" r="6.75"/><circle cx="727.0" cy="880.3" r="6.75"/><circle cx="729.6" cy="889.1" r="6.75"/><circle cx="732.1" cy="891.8" r="6.75"/><circle cx="734.7" cy="900.2" r="6.75"/><circle cx="737.3" cy="903.7" r="6.75"/><circle cx="739.9" cy="916.1" r="6.75"/><circle cx="742.5" cy="924.2" r="6.75"/><circle cx="745.1" cy="925.7" r="6.75"/><circle cx="747.6" cy="936.5" r="6.75"/><circle cx="750.2" cy="942.4" r="6.75"/><circle cx="752.8" cy="944.3" r="6.75"/><circle cx="755.4" cy="957.4" r="6.75"/><circle cx="758.0" cy="967.7" r="6.75"/><circle cx="760.5" cy="966.3" r="6.75"/><circle cx="763.1" cy="972.1" r="6.75"/><circle cx="765.7" cy="980.2" r="6.75"/><circle cx="768.3" cy="982.3" r="6.75"/><circle cx="770.9" cy="987.5" r="6.75"/><circle cx="773.4" cy="994.2" r="6.75"/><circle cx="776.0" cy="993.6" r="6.75"/><circle cx="778.6" cy="1001.9" r="6.75"/><circle cx="781.2" cy="998.2" r="6.75"/><circle cx="783.8" cy="1004.7" r="6.75"/><circle cx="786.4" cy="1009.1" r="6.75"/><circle cx="788.9" cy="1013.7" r="6.75"/><circle cx="791.5" cy="1006.4" r="6.75"/><circle cx="794.1" cy="1010.7" r="6.75"/><circle cx="796.7" cy="1011.4" r="6.75"/><circle cx="799.3" cy="1004.6" r="6.75"/><circle cx="801.8" cy="1011.3" r="6.75"/><circle cx="804.4" cy="1013.0" r="6.75"/><circle cx="807.0" cy="1012.9" r="6.75"/><circle cx="809.6" cy="1013.5" r="6.75"/><circle cx="812.2" cy="1004.4" r="6.75"/><circle cx="814.7" cy="1000.4" r="6.75"/><circle cx="817.3" cy="996.8" r="6.75"/><circle cx="819.9" cy="993.4" r="6.75"/><circle cx="822.5" cy="985.8" r="6.75"/><circle cx="825.1" cy="991.3" r="6.75"/><circle cx="827.7" cy="990.9" r="6.75"/><circle cx="830.2" cy="985.0" r="6.75"/><circle cx="832.8" cy="976.0" r="6.75"/><circle cx="835.4" cy="978.6" r="6.75"/><circle cx="838.0" cy="985.2" r="6.75"/><circle cx="840.6" cy="976.7" r="6.75"/><circle cx="843.1" cy="986.0" r="6.75"/><circle cx="845.7" cy="990.0" r="6.75"/><circle cx="848.3" cy="982.9" r="6.75"/><circle cx="850.9" cy="984.0" r="6.75"/><circle cx="853.5" cy="987.1" r="6.75"/><circle cx="856.0" cy="985.7" r="6.75"/><circle cx="858.6" cy="986.6" r="6.75"/><circle cx="861.2" cy="983.4" r="6.75"/><circle cx="863.8" cy="988.1" r="6.75"/><circle cx="866.4" cy="985.2" r="6.75"/><circle cx="869.0" cy="983.0" r="6.75"/><circle cx="871.5" cy="974.4" r="6.75"/><circle cx="874.1" cy="978.9" r="6.75"/><circle cx="876.7" cy="980.5" r="6.75"/><circle cx="879.3" cy="981.8" r="6.75"/><circle cx="881.9" cy="976.0" r="6.75"/><circle cx="884.4" cy="979.3" r="6.75"/><circle cx="887.0" cy="979.1" r="6.75"/><circle cx="889.6" cy="972.9" r="6.75"/><circle cx="892.2" cy="977.4" r="6.75"/><circle cx="894.8" cy="984.2" r="6.75"/><circle cx="897.3" cy="970.5" r="6.75"/><circle cx="899.9" cy="974.1" r="6.75"/><circle cx="902.5" cy="978.8" r="6.75"/><circle cx="905.1" cy="975.1" r="6.75"/><circle cx="907.7" cy="972.6" r="6.75"/><circle cx="910.3" cy="974.1" r="6.75"/><circle cx="912.8" cy="972.4" r="6.75"/><circle cx="915.4" cy="969.2" r="6.75"/><circle cx="918.0" cy="960.9" r="6.75"/><circle cx="920.6" cy="957.0" r="6.75"/><circle cx="923.2" cy="958.3" r="6.75"/><circle cx="925.7" cy="967.5" r="6.75"/><circle cx="928.3" cy="962.5" r="6.75"/><circle cx="930.9" cy="953.2" r="6.75"/><circle cx="933.5" cy="958.7" r="6.75"/><circle cx="936.1" cy="949.5" r="6.75"/><circle cx="938.6" cy="952.2" r="6.75"/><circle cx="941.2" cy="958.6" r="6.75"/><circle cx="943.8" cy="944.8" r="6.75"/><circle cx="946.4" cy="943.7" r="6.75"/><circle cx="949.0" cy="939.9" r="6.75"/><circle cx="951.5" cy="928.7" r="6.75"/><circle cx="954.1" cy="928.8" r="6.75"/><circle cx="956.7" cy="925.9" r="6.75"/><circle cx="959.3" cy="919.0" r="6.75"/><circle cx="961.9" cy="912.4" r="6.75"/><circle cx="964.5" cy="915.4" r="6.75"/><circle cx="967.0" cy="907.4" r="6.75"/><circle cx="969.6" cy="900.2" r="6.75"/><circle cx="972.2" cy="894.2" r="6.75"/><circle cx="974.8" cy="893.8" r="6.75"/><circle cx="977.4" cy="894.7" r="6.75"/><circle cx="979.9" cy="886.7" r="6.75"/><circle cx="982.5" cy="886.8" r="6.75"/><circle cx="985.1" cy="883.3" r="6.75"/><circle cx="987.7" cy="879.0" r="6.75"/><circle cx="990.3" cy="879.4" r="6.75"/><circle cx="992.8" cy="879.9" r="6.75"/><circle cx="995.4" cy="877.3" r="6.75"/><circle cx="998.0" cy="877.0" r="6.75"/><circle cx="1000.6" cy="884.5" r="6.75"/><circle cx="1003.2" cy="887.8" r="6.75"/><circle cx="1005.8" cy="886.8" r="6.75"/><circle cx="1008.3" cy="880.1" r="6.75"/><circle cx="1010.9" cy="881.5" r="6.75"/><circle cx="1013.5" cy="879.1" r="6.75"/><circle cx="1016.1" cy="876.6" r="6.75"/><circle cx="1018.7" cy="878.4" r="6.75"/><circle cx="1021.2" cy="881.0" r="6.75"/><circle cx="1023.8" cy="886.2" r="6.75"/><circle cx="1026.4" cy="882.7" r="6.75"/><circle cx="1029.0" cy="892.4" r="6.75"/><circle cx="1031.6" cy="894.0" r="6.75"/><circle cx="1034.1" cy="901.7" r="6.75"/><circle cx="1036.7" cy="905.5" r="6.75"/><circle cx="1039.3" cy="907.5" r="6.75"/><circle cx="1041.9" cy="911.2" r="6.75"/><circle cx="1044.5" cy="915.3" r="6.75"/><circle cx="1047.1" cy="918.8" r="6.75"/><circle cx="1049.6" cy="923.2" r="6.75"/><circle cx="1052.2" cy="929.5" r="6.75"/><circle cx="1054.8" cy="928.3" r="6.75"/><circle cx="1057.4" cy="933.4" r="6.75"/><circle cx="1060.0" cy="933.1" r="6.75"/><circle cx="1062.5" cy="929.9" r="6.75"/><circle cx="1065.1" cy="933.7" r="6.75"/><circle cx="1067.7" cy="935.0" r="6.75"/><circle cx="1070.3" cy="936.5" r="6.75"/><circle cx="1072.9" cy="932.4" r="6.75"/><circle cx="1075.4" cy="937.4" r="6.75"/><circle cx="1078.0" cy="931.0" r="6.75"/><circle cx="1080.6" cy="931.5" r="6.75"/><circle cx="1083.2" cy="932.9" r="6.75"/><circle cx="1085.8" cy="930.5" r="6.75"/><circle cx="1088.4" cy="925.8" r="6.75"/><circle cx="1090.9" cy="922.8" r="6.75"/><circle cx="1093.5" cy="922.9" r="6.75"/><circle cx="1096.1" cy="920.2" r="6.75"/><circle cx="1098.7" cy="928.7" r="6.75"/><circle cx="1101.3" cy="917.1" r="6.75"/><circle cx="1103.8" cy="914.8" r="6.75"/><circle cx="1106.4" cy="924.5" r="6.75"/><circle cx="1109.0" cy="909.5" r="6.75"/><circle cx="1111.6" cy="906.8" r="6.75"/><circle cx="1114.2" cy="902.3" r="6.75"/><circle cx="1116.7" cy="893.0" r="6.75"/><circle cx="1119.3" cy="882.1" r="6.75"/><circle cx="1121.9" cy="880.9" r="6.75"/><circle cx="1124.5" cy="862.7" r="6.75"/><circle cx="1127.1" cy="846.8" r="6.75"/><circle cx="1129.7" cy="835.2" r="6.75"/><circle cx="1132.2" cy="821.4" r="6.75"/><circle cx="1134.8" cy="807.4" r="6.75"/><circle cx="1137.4" cy="785.1" r="6.75"/><circle cx="1140.0" cy="780.9" r="6.75"/><circle cx="1142.6" cy="763.6" r="6.75"/><circle cx="1145.1" cy="752.2" r="6.75"/><circle cx="1147.7" cy="738.6" r="6.75"/><circle cx="1150.3" cy="725.8" r="6.75"/><circle cx="1152.9" cy="718.1" r="6.75"/><circle cx="1155.5" cy="712.9" r="6.75"/><circle cx="1158.0" cy="708.9" r="6.75"/><circle cx="1160.6" cy="707.8" r="6.75"/><circle cx="1163.2" cy="712.6" r="6.75"/><circle cx="1165.8" cy="709.0" r="6.75"/><circle cx="1168.4" cy="717.8" r="6.75"/><circle cx="1171.0" cy="716.4" r="6.75"/><circle cx="1173.5" cy="714.8" r="6.75"/><circle cx="1176.1" cy="736.8" r="6.75"/><circle cx="1178.7" cy="751.0" r="6.75"/><circle cx="1181.3" cy="759.6" r="6.75"/><circle cx="1183.9" cy="776.3" r="6.75"/><circle cx="1186.4" cy="791.7" r="6.75"/><circle cx="1189.0" cy="801.3" r="6.75"/><circle cx="1191.6" cy="818.2" r="6.75"/><circle cx="1194.2" cy="838.3" r="6.75"/><circle cx="1196.8" cy="858.5" r="6.75"/><circle cx="1199.3" cy="870.8" r="6.75"/><circle cx="1201.9" cy="881.8" r="6.75"/><circle cx="1204.5" cy="899.8" r="6.75"/><circle cx="1207.1" cy="906.7" r="6.75"/><circle cx="1209.7" cy="930.1" r="6.75"/><circle cx="1212.3" cy="945.4" r="6.75"/><circle cx="1214.8" cy="956.3" r="6.75"/><circle cx="1217.4" cy="966.3" r="6.75"/><circle cx="1220.0" cy="975.7" r="6.75"/><circle cx="1222.6" cy="980.3" r="6.75"/><circle cx="1225.2" cy="989.4" r="6.75"/><circle cx="1227.7" cy="999.8" r="6.75"/><circle cx="1230.3" cy="999.9" r="6.75"/><circle cx="1232.9" cy="1011.5" r="6.75"/><circle cx="1235.5" cy="1012.0" r="6.75"/><circle cx="1238.1" cy="1014.4" r="6.75"/><circle cx="1240.6" cy="1023.1" r="6.75"/><circle cx="1243.2" cy="1024.6" r="6.75"/><circle cx="1245.8" cy="1020.8" r="6.75"/><circle cx="1248.4" cy="1021.8" r="6.75"/><circle cx="1251.0" cy="1022.6" r="6.75"/><circle cx="1253.6" cy="1026.6" r="6.75"/><circle cx="1256.1" cy="1029.5" r="6.75"/><circle cx="1258.7" cy="1032.1" r="6.75"/><circle cx="1261.3" cy="1040.8" r="6.75"/><circle cx="1263.9" cy="1037.9" r="6.75"/><circle cx="1266.5" cy="1043.1" r="6.75"/><circle cx="1269.0" cy="1039.0" r="6.75"/><circle cx="1271.6" cy="1045.5" r="6.75"/><circle cx="1274.2" cy="1044.8" r="6.75"/><circle cx="1276.8" cy="1045.9" r="6.75"/><circle cx="1279.4" cy="1047.3" r="6.75"/><circle cx="1281.9" cy="1051.5" r="6.75"/><circle cx="1284.5" cy="1050.6" r="6.75"/><circle cx="1287.1" cy="1055.8" r="6.75"/><circle cx="1289.7" cy="1060.7" r="6.75"/><circle cx="1292.3" cy="1057.9" r="6.75"/><circle cx="1294.9" cy="1052.9" r="6.75"/><circle cx="1297.4" cy="1060.1" r="6.75"/><circle cx="1300.0" cy="1059.6" r="6.75"/><circle cx="1302.6" cy="1059.4" r="6.75"/><circle cx="1305.2" cy="1058.8" r="6.75"/><circle cx="1307.8" cy="1060.9" r="6.75"/><circle cx="1310.3" cy="1073.6" r="6.75"/><circle cx="1312.9" cy="1073.7" r="6.75"/><circle cx="1315.5" cy="1069.4" r="6.75"/><circle cx="1318.1" cy="1060.4" r="6.75"/><circle cx="1320.7" cy="1064.6" r="6.75"/><circle cx="1323.2" cy="1068.2" r="6.75"/><circle cx="1325.8" cy="1063.6" r="6.75"/><circle cx="1328.4" cy="1067.3" r="6.75"/><circle cx="1331.0" cy="1069.4" r="6.75"/><circle cx="1333.6" cy="1071.3" r="6.75"/><circle cx="1336.2" cy="1067.6" r="6.75"/><circle cx="1338.7" cy="1067.5" r="6.75"/><circle cx="1341.3" cy="1065.7" r="6.75"/><circle cx="1343.9" cy="1065.6" r="6.75"/><circle cx="1346.5" cy="1067.5" r="6.75"/><circle cx="1349.1" cy="1066.8" r="6.75"/><circle cx="1351.6" cy="1070.2" r="6.75"/><circle cx="1354.2" cy="1068.8" r="6.75"/><circle cx="1356.8" cy="1067.0" r="6.75"/><circle cx="1359.4" cy="1073.3" r="6.75"/><circle cx="1362.0" cy="1067.0" r="6.75"/><circle cx="1364.5" cy="1070.5" r="6.75"/><circle cx="1367.1" cy="1070.3" r="6.75"/><circle cx="1369.7" cy="1066.6" r="6.75"/><circle cx="1372.3" cy="1068.8" r="6.75"/><circle cx="1374.9" cy="1069.9" r="6.75"/><circle cx="1377.5" cy="1067.2" r="6.75"/><circle cx="1380.0" cy="1064.6" r="6.75"/><circle cx="1382.6" cy="1078.9" r="6.75"/><circle cx="1385.2" cy="1067.3" r="6.75"/><circle cx="1387.8" cy="1063.1" r="6.75"/><circle cx="1390.4" cy="1074.2" r="6.75"/><circle cx="1392.9" cy="1069.9" r="6.75"/><circle cx="1395.5" cy="1073.1" r="6.75"/><circle cx="1398.1" cy="1073.0" r="6.75"/><circle cx="1400.7" cy="1061.5" r="6.75"/><circle cx="1403.3" cy="1071.6" r="6.75"/><circle cx="1405.8" cy="1072.9" r="6.75"/><circle cx="1408.4" cy="1069.9" r="6.75"/><circle cx="1411.0" cy="1074.7" r="6.75"/><circle cx="1413.6" cy="1071.7" r="6.75"/><circle cx="1416.2" cy="1064.3" r="6.75"/><circle cx="1418.8" cy="1067.3" r="6.75"/><circle cx="1421.3" cy="1077.5" r="6.75"/><circle cx="1423.9" cy="1070.7" r="6.75"/><circle cx="1426.5" cy="1067.8" r="6.75"/><circle cx="1429.1" cy="1068.3" r="6.75"/><circle cx="1431.7" cy="1068.8" r="6.75"/><circle cx="1434.2" cy="1072.8" r="6.75"/><circle cx="1436.8" cy="1063.7" r="6.75"/><circle cx="1439.4" cy="1068.4" r="6.75"/></g>
<g fill="none" stroke-linejoin="miter" stroke-miterlimit="6" stroke-linecap="round"><path d="M381.1 983.2L383.7 983.2L386.3 983.2L388.8 983.2L391.4 983.3L394.0 983.3L396.6 983.3L399.2 983.3L401.7 983.3L404.3 983.3L406.9 983.4L409.5 983.4L412.1 983.4L414.7 983.4L417.2 983.4L419.8 983.5L422.4 983.5L425.0 983.5L427.6 983.5L430.1 983.6L432.7 983.6L435.3 983.6L437.9 983.6L440.5 983.7L443.0 983.7L445.6 983.7L448.2 983.8L450.8 983.8L453.4 983.9L456.0 983.9L458.5 984.0L461.1 984.0L463.7 984.1L466.3 984.1L468.9 984.2L471.4 984.3L474.0 984.4L476.6 984.4L479.2 984.5L481.8 984.6L484.3 984.8L486.9 984.9L489.5 985.0L492.1 985.1L494.7 985.3L497.3 985.5L499.8 985.6L502.4 985.8L505.0 986.0L507.6 986.2L510.2 986.5L512.7 986.7L515.3 986.9L517.9 987.2L520.5 987.5L523.1 987.7L525.6 988.0L528.2 988.3L530.8 988.6L533.4 989.0L536.0 989.3L538.6 989.6L541.1 989.9L543.7 990.3L546.3 990.6L548.9 990.9L551.5 991.2L554.0 991.5L556.6 991.8L559.2 992.1L561.8 992.4L564.4 992.7L566.9 992.9L569.5 993.2L572.1 993.4L574.7 993.6L577.3 993.8L579.9 994.1L582.4 994.2L585.0 994.4L587.6 994.6L590.2 994.8L592.8 994.9L595.3 995.1L597.9 995.2L600.5 995.4L603.1 995.5L605.7 995.6L608.2 995.7L610.8 995.9L613.4 996.0L616.0 996.1L618.6 996.3L621.2 996.4L623.7 996.5L626.3 996.7L628.9 996.8L631.5 996.9L634.1 997.1L636.6 997.3L639.2 997.4L641.8 997.6L644.4 997.8L647.0 998.0L649.5 998.2L652.1 998.4L654.7 998.6L657.3 998.8L659.9 999.1L662.5 999.3L665.0 999.6L667.6 999.8L670.2 1000.1L672.8 1000.3L675.4 1000.6L677.9 1000.9L680.5 1001.2L683.1 1001.5L685.7 1001.8L688.3 1002.1L690.8 1002.5L693.4 1002.8L696.0 1003.2L698.6 1003.6L701.2 1004.0L703.8 1004.4L706.3 1004.8L708.9 1005.2L711.5 1005.7L714.1 1006.2L716.7 1006.6L719.2 1007.1L721.8 1007.5L724.4 1008.0L727.0 1008.4L729.6 1008.8L732.1 1009.2L734.7 1009.5L737.3 1009.8L739.9 1010.1L742.5 1010.4L745.1 1010.7L747.6 1010.9L750.2 1011.1L752.8 1011.2L755.4 1011.4L758.0 1011.5L760.5 1011.6L763.1 1011.7L765.7 1011.8L768.3 1011.8L770.9 1011.9L773.4 1012.0L776.0 1012.0L778.6 1012.1L781.2 1012.1L783.8 1012.1L786.4 1012.2L788.9 1012.2L791.5 1012.2L794.1 1012.3L796.7 1012.3L799.3 1012.3L801.8 1012.4L804.4 1012.4L807.0 1012.4L809.6 1012.5L812.2 1012.5L814.7 1012.5L817.3 1012.5L819.9 1012.6L822.5 1012.6L825.1 1012.6L827.7 1012.6L830.2 1012.7L832.8 1012.7L835.4 1012.7L838.0 1012.8L840.6 1012.8L843.1 1012.8L845.7 1012.8L848.3 1012.9L850.9 1012.9L853.5 1012.9L856.0 1013.0L858.6 1013.0L861.2 1013.0L863.8 1013.0L866.4 1013.1L869.0 1013.1L871.5 1013.1L874.1 1013.2L876.7 1013.2L879.3 1013.2L881.9 1013.3L884.4 1013.3L887.0 1013.3L889.6 1013.4L892.2 1013.4L894.8 1013.5L897.3 1013.5L899.9 1013.5L902.5 1013.6L905.1 1013.6L907.7 1013.7L910.3 1013.7L912.8 1013.8L915.4 1013.9L918.0 1013.9L920.6 1014.0L923.2 1014.1L925.7 1014.1L928.3 1014.2L930.9 1014.3L933.5 1014.4L936.1 1014.5L938.6 1014.6L941.2 1014.8L943.8 1014.9L946.4 1015.0L949.0 1015.2L951.5 1015.4L954.1 1015.6L956.7 1015.8L959.3 1016.0L961.9 1016.2L964.5 1016.4L967.0 1016.7L969.6 1017.0L972.2 1017.3L974.8 1017.6L977.4 1017.9L979.9 1018.3L982.5 1018.7L985.1 1019.1L987.7 1019.5L990.3 1019.9L992.8 1020.3L995.4 1020.8L998.0 1021.2L1000.6 1021.7L1003.2 1022.2L1005.8 1022.7L1008.3 1023.2L1010.9 1023.7L1013.5 1024.1L1016.1 1024.6L1018.7 1025.1L1021.2 1025.5L1023.8 1026.0L1026.4 1026.4L1029.0 1026.8L1031.6 1027.2L1034.1 1027.6L1036.7 1027.9L1039.3 1028.3L1041.9 1028.6L1044.5 1028.9L1047.1 1029.2L1049.6 1029.5L1052.2 1029.7L1054.8 1030.0L1057.4 1030.2L1060.0 1030.4L1062.5 1030.6L1065.1 1030.8L1067.7 1031.1L1070.3 1031.3L1072.9 1031.5L1075.4 1031.7L1078.0 1031.9L1080.6 1032.1L1083.2 1032.3L1085.8 1032.5L1088.4 1032.8L1090.9 1033.0L1093.5 1033.3L1096.1 1033.5L1098.7 1033.8L1101.3 1034.1L1103.8 1034.5L1106.4 1034.8L1109.0 1035.2L1111.6 1035.6L1114.2 1036.0L1116.7 1036.5L1119.3 1037.0L1121.9 1037.5L1124.5 1038.0L1127.1 1038.6L1129.7 1039.2L1132.2 1039.8L1134.8 1040.5L1137.4 1041.2L1140.0 1041.9L1142.6 1042.7L1145.1 1043.5L1147.7 1044.4L1150.3 1045.3L1152.9 1046.3L1155.5 1047.3L1158.0 1048.3L1160.6 1049.4L1163.2 1050.5L1165.8 1051.7L1168.4 1052.8L1171.0 1054.0L1173.5 1055.2L1176.1 1056.3L1178.7 1057.4L1181.3 1058.5L1183.9 1059.5L1186.4 1060.5L1189.0 1061.4L1191.6 1062.2L1194.2 1062.9L1196.8 1063.6L1199.3 1064.2L1201.9 1064.8L1204.5 1065.3L1207.1 1065.7L1209.7 1066.1L1212.3 1066.4L1214.8 1066.7L1217.4 1067.0L1220.0 1067.2L1222.6 1067.4L1225.2 1067.6L1227.7 1067.8L1230.3 1067.9L1232.9 1068.0L1235.5 1068.2L1238.1 1068.3L1240.6 1068.3L1243.2 1068.4L1245.8 1068.5L1248.4 1068.6L1251.0 1068.7L1253.6 1068.7L1256.1 1068.8L1258.7 1068.9L1261.3 1068.9L1263.9 1069.0L1266.5 1069.0L1269.0 1069.1L1271.6 1069.1L1274.2 1069.2L1276.8 1069.2L1279.4 1069.2L1281.9 1069.3L1284.5 1069.3L1287.1 1069.4L1289.7 1069.4L1292.3 1069.4L1294.9 1069.5L1297.4 1069.5L1300.0 1069.5L1302.6 1069.5L1305.2 1069.6L1307.8 1069.6L1310.3 1069.6L1312.9 1069.7L1315.5 1069.7L1318.1 1069.7L1320.7 1069.7L1323.2 1069.8L1325.8 1069.8L1328.4 1069.8L1331.0 1069.8L1333.6 1069.8L1336.2 1069.9L1338.7 1069.9L1341.3 1069.9L1343.9 1069.9L1346.5 1069.9L1349.1 1070.0L1351.6 1070.0L1354.2 1070.0L1356.8 1070.0L1359.4 1070.0L1362.0 1070.0L1364.5 1070.1L1367.1 1070.1L1369.7 1070.1L1372.3 1070.1L1374.9 1070.1L1377.5 1070.1L1380.0 1070.1L1382.6 1070.2L1385.2 1070.2L1387.8 1070.2L1390.4 1070.2L1392.9 1070.2L1395.5 1070.2L1398.1 1070.2L1400.7 1070.2L1403.3 1070.3L1405.8 1070.3L1408.4 1070.3L1411.0 1070.3L1413.6 1070.3L1416.2 1070.3L1418.8 1070.3L1421.3 1070.3L1423.9 1070.3L1426.5 1070.3L1429.1 1070.4L1431.7 1070.4L1434.2 1070.4L1436.8 1070.4L1439.4 1070.4" stroke="#0000ff" stroke-width="4.8"/><path d="M381.1 972.8L383.7 972.6L386.3 972.4L388.8 972.1L391.4 971.9L394.0 971.7L396.6 971.4L399.2 971.1L401.7 970.8L404.3 970.5L406.9 970.2L409.5 969.9L412.1 969.5L414.7 969.1L417.2 968.7L419.8 968.3L422.4 967.9L425.0 967.4L427.6 966.9L430.1 966.4L432.7 965.9L435.3 965.3L437.9 964.7L440.5 964.0L443.0 963.3L445.6 962.6L448.2 961.8L450.8 961.0L453.4 960.1L456.0 959.1L458.5 958.1L461.1 957.0L463.7 955.9L466.3 954.6L468.9 953.3L471.4 951.9L474.0 950.4L476.6 948.8L479.2 947.1L481.8 945.3L484.3 943.4L486.9 941.3L489.5 939.1L492.1 936.8L494.7 934.3L497.3 931.7L499.8 928.9L502.4 926.0L505.0 923.0L507.6 919.8L510.2 916.6L512.7 913.3L515.3 909.9L517.9 906.6L520.5 903.3L523.1 900.2L525.6 897.4L528.2 894.8L530.8 892.6L533.4 890.9L536.0 889.6L538.6 889.0L541.1 889.0L543.7 889.6L546.3 890.8L548.9 892.6L551.5 895.0L554.0 897.7L556.6 900.8L559.2 904.1L561.8 907.6L564.4 911.2L566.9 914.8L569.5 918.2L572.1 921.6L574.7 924.9L577.3 927.9L579.9 930.8L582.4 933.5L585.0 935.9L587.6 938.2L590.2 940.2L592.8 941.9L595.3 943.5L597.9 944.8L600.5 946.0L603.1 946.9L605.7 947.6L608.2 948.0L610.8 948.3L613.4 948.4L616.0 948.3L618.6 947.9L621.2 947.4L623.7 946.6L626.3 945.7L628.9 944.5L631.5 943.1L634.1 941.6L636.6 939.9L639.2 938.0L641.8 936.0L644.4 933.8L647.0 931.6L649.5 929.3L652.1 927.1L654.7 924.9L657.3 922.8L659.9 920.8L662.5 919.0L665.0 917.2L667.6 915.7L670.2 914.1L672.8 912.6L675.4 910.9L677.9 909.1L680.5 906.9L683.1 904.4L685.7 901.4L688.3 898.1L690.8 894.3L693.4 890.2L696.0 885.8L698.6 881.3L701.2 876.9L703.8 872.6L706.3 868.8L708.9 865.7L711.5 863.4L714.1 862.2L716.7 862.2L719.2 863.5L721.8 866.4L724.4 870.8L727.0 876.6L729.6 883.6L732.1 891.5L734.7 900.0L737.3 908.8L739.9 917.7L742.5 926.5L745.1 934.9L747.6 942.9L750.2 950.4L752.8 957.2L755.4 963.3L758.0 968.7L760.5 973.5L763.1 977.5L765.7 981.0L768.3 983.9L770.9 986.3L773.4 988.4L776.0 990.0L778.6 991.3L781.2 992.4L783.8 993.3L786.4 994.0L788.9 994.6L791.5 995.1L794.1 995.5L796.7 995.8L799.3 996.0L801.8 996.3L804.4 996.4L807.0 996.6L809.6 996.7L812.2 996.8L814.7 996.9L817.3 997.0L819.9 997.0L822.5 997.0L825.1 997.0L827.7 997.0L830.2 997.0L832.8 996.9L835.4 996.9L838.0 996.8L840.6 996.7L843.1 996.6L845.7 996.5L848.3 996.3L850.9 996.1L853.5 996.0L856.0 995.8L858.6 995.5L861.2 995.3L863.8 995.1L866.4 994.8L869.0 994.5L871.5 994.1L874.1 993.8L876.7 993.4L879.3 993.0L881.9 992.6L884.4 992.1L887.0 991.6L889.6 991.1L892.2 990.5L894.8 989.9L897.3 989.2L899.9 988.5L902.5 987.7L905.1 986.9L907.7 986.0L910.3 985.0L912.8 984.0L915.4 982.9L918.0 981.7L920.6 980.4L923.2 979.0L925.7 977.4L928.3 975.8L930.9 974.0L933.5 972.1L936.1 970.1L938.6 967.8L941.2 965.4L943.8 962.9L946.4 960.1L949.0 957.2L951.5 954.0L954.1 950.7L956.7 947.1L959.3 943.3L961.9 939.3L964.5 935.0L967.0 930.6L969.6 925.9L972.2 921.0L974.8 916.0L977.4 910.9L979.9 905.7L982.5 900.6L985.1 895.4L987.7 890.5L990.3 885.8L992.8 881.5L995.4 877.7L998.0 874.5L1000.6 872.0L1003.2 870.3L1005.8 869.5L1008.3 869.6L1010.9 870.7L1013.5 872.9L1016.1 876.0L1018.7 879.8L1021.2 884.3L1023.8 889.2L1026.4 894.5L1029.0 899.8L1031.6 905.2L1034.1 910.6L1036.7 915.7L1039.3 920.6L1041.9 925.2L1044.5 929.5L1047.1 933.4L1049.6 937.0L1052.2 940.1L1054.8 942.9L1057.4 945.3L1060.0 947.3L1062.5 948.8L1065.1 950.0L1067.7 950.8L1070.3 951.2L1072.9 951.1L1075.4 950.7L1078.0 949.8L1080.6 948.5L1083.2 946.8L1085.8 944.6L1088.4 942.0L1090.9 938.8L1093.5 935.1L1096.1 930.9L1098.7 926.2L1101.3 920.9L1103.8 915.1L1106.4 908.7L1109.0 901.9L1111.6 894.7L1114.2 887.1L1116.7 879.4L1119.3 871.5L1121.9 863.7L1124.5 855.9L1127.1 848.3L1129.7 840.7L1132.2 833.0L1134.8 825.0L1137.4 816.7L1140.0 807.7L1142.6 798.2L1145.1 787.9L1147.7 776.9L1150.3 765.2L1152.9 753.0L1155.5 740.7L1158.0 728.8L1160.6 717.9L1163.2 708.6L1165.8 701.8L1168.4 698.3L1171.0 698.6L1173.5 703.1L1176.1 712.0L1178.7 724.9L1181.3 741.1L1183.9 759.7L1186.4 779.9L1189.0 800.9L1191.6 822.0L1194.2 842.6L1196.8 862.4L1199.3 881.2L1201.9 898.7L1204.5 914.9L1207.1 929.7L1209.7 943.1L1212.3 955.2L1214.8 966.0L1217.4 975.6L1220.0 984.1L1222.6 991.5L1225.2 998.1L1227.7 1003.9L1230.3 1009.0L1232.9 1013.5L1235.5 1017.4L1238.1 1020.9L1240.6 1023.9L1243.2 1026.7L1245.8 1029.1L1248.4 1031.3L1251.0 1033.3L1253.6 1035.1L1256.1 1036.8L1258.7 1038.3L1261.3 1039.7L1263.9 1041.0L1266.5 1042.2L1269.0 1043.4L1271.6 1044.4L1274.2 1045.4L1276.8 1046.3L1279.4 1047.2L1281.9 1048.1L1284.5 1048.8L1287.1 1049.6L1289.7 1050.3L1292.3 1050.9L1294.9 1051.6L1297.4 1052.2L1300.0 1052.7L1302.6 1053.3L1305.2 1053.8L1307.8 1054.3L1310.3 1054.7L1312.9 1055.2L1315.5 1055.6L1318.1 1056.0L1320.7 1056.4L1323.2 1056.8L1325.8 1057.1L1328.4 1057.5L1331.0 1057.8L1333.6 1058.1L1336.2 1058.4L1338.7 1058.7L1341.3 1059.0L1343.9 1059.3L1346.5 1059.5L1349.1 1059.8L1351.6 1060.0L1354.2 1060.2L1356.8 1060.5L1359.4 1060.7L1362.0 1060.9L1364.5 1061.1L1367.1 1061.3L1369.7 1061.5L1372.3 1061.7L1374.9 1061.8L1377.5 1062.0L1380.0 1062.2L1382.6 1062.4L1385.2 1062.5L1387.8 1062.7L1390.4 1062.8L1392.9 1063.0L1395.5 1063.1L1398.1 1063.2L1400.7 1063.4L1403.3 1063.5L1405.8 1063.6L1408.4 1063.7L1411.0 1063.8L1413.6 1064.0L1416.2 1064.1L1418.8 1064.2L1421.3 1064.3L1423.9 1064.4L1426.5 1064.5L1429.1 1064.6L1431.7 1064.7L1434.2 1064.8L1436.8 1064.9L1439.4 1065.0" stroke="#ff0000" stroke-width="7.4"/><path d="M381.1 982.5L383.7 982.5L386.3 982.6L388.8 982.6L391.4 982.6L394.0 982.6L396.6 982.6L399.2 982.6L401.7 982.6L404.3 982.6L406.9 982.7L409.5 982.7L412.1 982.7L414.7 982.7L417.2 982.7L419.8 982.7L422.4 982.8L425.0 982.8L427.6 982.8L430.1 982.8L432.7 982.8L435.3 982.9L437.9 982.9L440.5 982.9L443.0 982.9L445.6 983.0L448.2 983.0L450.8 983.0L453.4 983.1L456.0 983.1L458.5 983.2L461.1 983.2L463.7 983.3L466.3 983.3L468.9 983.4L471.4 983.5L474.0 983.5L476.6 983.6L479.2 983.7L481.8 983.8L484.3 983.9L486.9 984.0L489.5 984.1L492.1 984.3L494.7 984.4L497.3 984.6L499.8 984.7L502.4 984.9L505.0 985.1L507.6 985.3L510.2 985.5L512.7 985.7L515.3 986.0L517.9 986.2L520.5 986.5L523.1 986.7L525.6 987.0L528.2 987.3L530.8 987.6L533.4 987.9L536.0 988.2L538.6 988.5L541.1 988.8L543.7 989.1L546.3 989.4L548.9 989.7L551.5 990.0L554.0 990.3L556.6 990.6L559.2 990.9L561.8 991.1L564.4 991.4L566.9 991.6L569.5 991.8L572.1 992.0L574.7 992.2L577.3 992.4L579.9 992.6L582.4 992.7L585.0 992.9L587.6 993.0L590.2 993.1L592.8 993.2L595.3 993.3L597.9 993.4L600.5 993.5L603.1 993.6L605.7 993.7L608.2 993.7L610.8 993.8L613.4 993.8L616.0 993.9L618.6 993.9L621.2 993.9L623.7 994.0L626.3 994.0L628.9 994.0L631.5 994.0L634.1 993.9L636.6 993.9L639.2 993.8L641.8 993.6L644.4 993.4L647.0 993.1L649.5 992.7L652.1 992.2L654.7 991.5L657.3 990.6L659.9 989.5L662.5 988.1L665.0 986.3L667.6 984.2L670.2 981.6L672.8 978.6L675.4 975.1L677.9 971.0L680.5 966.4L683.1 961.3L685.7 955.7L688.3 949.6L690.8 943.1L693.4 936.4L696.0 929.5L698.6 922.6L701.2 915.8L703.8 909.5L706.3 903.7L708.9 898.7L711.5 894.6L714.1 891.8L716.7 890.4L719.2 890.3L721.8 891.9L724.4 895.2L727.0 900.0L729.6 906.0L732.1 913.0L734.7 920.6L737.3 928.7L739.9 936.9L742.5 945.1L745.1 953.0L747.6 960.5L750.2 967.5L752.8 973.8L755.4 979.6L758.0 984.6L760.5 989.0L763.1 992.8L765.7 996.0L768.3 998.7L770.9 1000.9L773.4 1002.7L776.0 1004.2L778.6 1005.3L781.2 1006.3L783.8 1007.1L786.4 1007.7L788.9 1008.2L791.5 1008.5L794.1 1008.9L796.7 1009.2L799.3 1009.4L801.8 1009.6L804.4 1009.8L807.0 1009.9L809.6 1010.1L812.2 1010.2L814.7 1010.3L817.3 1010.4L819.9 1010.5L822.5 1010.6L825.1 1010.7L827.7 1010.8L830.2 1010.9L832.8 1011.0L835.4 1011.1L838.0 1011.1L840.6 1011.2L843.1 1011.3L845.7 1011.3L848.3 1011.4L850.9 1011.5L853.5 1011.5L856.0 1011.6L858.6 1011.7L861.2 1011.7L863.8 1011.8L866.4 1011.8L869.0 1011.9L871.5 1011.9L874.1 1012.0L876.7 1012.0L879.3 1012.1L881.9 1012.2L884.4 1012.2L887.0 1012.3L889.6 1012.3L892.2 1012.4L894.8 1012.4L897.3 1012.5L899.9 1012.5L902.5 1012.6L905.1 1012.7L907.7 1012.7L910.3 1012.8L912.8 1012.9L915.4 1012.9L918.0 1013.0L920.6 1013.1L923.2 1013.2L925.7 1013.3L928.3 1013.4L930.9 1013.5L933.5 1013.6L936.1 1013.7L938.6 1013.8L941.2 1013.9L943.8 1014.1L946.4 1014.2L949.0 1014.4L951.5 1014.6L954.1 1014.8L956.7 1015.0L959.3 1015.2L961.9 1015.4L964.5 1015.7L967.0 1015.9L969.6 1016.2L972.2 1016.5L974.8 1016.8L977.4 1017.2L979.9 1017.5L982.5 1017.9L985.1 1018.3L987.7 1018.7L990.3 1019.2L992.8 1019.6L995.4 1020.1L998.0 1020.5L1000.6 1021.0L1003.2 1021.5L1005.8 1022.0L1008.3 1022.5L1010.9 1023.0L1013.5 1023.4L1016.1 1023.9L1018.7 1024.4L1021.2 1024.9L1023.8 1025.3L1026.4 1025.7L1029.0 1026.1L1031.6 1026.5L1034.1 1026.9L1036.7 1027.3L1039.3 1027.6L1041.9 1027.9L1044.5 1028.2L1047.1 1028.5L1049.6 1028.8L1052.2 1029.1L1054.8 1029.3L1057.4 1029.5L1060.0 1029.8L1062.5 1030.0L1065.1 1030.2L1067.7 1030.4L1070.3 1030.6L1072.9 1030.8L1075.4 1031.0L1078.0 1031.2L1080.6 1031.4L1083.2 1031.7L1085.8 1031.9L1088.4 1032.1L1090.9 1032.4L1093.5 1032.6L1096.1 1032.9L1098.7 1033.2L1101.3 1033.5L1103.8 1033.9L1106.4 1034.2L1109.0 1034.6L1111.6 1035.0L1114.2 1035.4L1116.7 1035.9L1119.3 1036.4L1121.9 1036.9L1124.5 1037.4L1127.1 1038.0L1129.7 1038.6L1132.2 1039.2L1134.8 1039.9L1137.4 1040.6L1140.0 1041.4L1142.6 1042.1L1145.1 1043.0L1147.7 1043.8L1150.3 1044.7L1152.9 1045.7L1155.5 1046.7L1158.0 1047.7L1160.6 1048.8L1163.2 1049.9L1165.8 1051.1L1168.4 1052.3L1171.0 1053.4L1173.5 1054.6L1176.1 1055.7L1178.7 1056.9L1181.3 1057.9L1183.9 1058.9L1186.4 1059.9L1189.0 1060.8L1191.6 1061.6L1194.2 1062.4L1196.8 1063.0L1199.3 1063.7L1201.9 1064.2L1204.5 1064.7L1207.1 1065.1L1209.7 1065.5L1212.3 1065.9L1214.8 1066.2L1217.4 1066.4L1220.0 1066.7L1222.6 1066.9L1225.2 1067.0L1227.7 1067.2L1230.3 1067.3L1232.9 1067.5L1235.5 1067.6L1238.1 1067.7L1240.6 1067.8L1243.2 1067.9L1245.8 1068.0L1248.4 1068.0L1251.0 1068.1L1253.6 1068.2L1256.1 1068.2L1258.7 1068.3L1261.3 1068.4L1263.9 1068.4L1266.5 1068.5L1269.0 1068.5L1271.6 1068.6L1274.2 1068.6L1276.8 1068.6L1279.4 1068.7L1281.9 1068.7L1284.5 1068.8L1287.1 1068.8L1289.7 1068.8L1292.3 1068.9L1294.9 1068.9L1297.4 1068.9L1300.0 1069.0L1302.6 1069.0L1305.2 1069.0L1307.8 1069.1L1310.3 1069.1L1312.9 1069.1L1315.5 1069.1L1318.1 1069.2L1320.7 1069.2L1323.2 1069.2L1325.8 1069.2L1328.4 1069.3L1331.0 1069.3L1333.6 1069.3L1336.2 1069.3L1338.7 1069.3L1341.3 1069.4L1343.9 1069.4L1346.5 1069.4L1349.1 1069.4L1351.6 1069.4L1354.2 1069.5L1356.8 1069.5L1359.4 1069.5L1362.0 1069.5L1364.5 1069.5L1367.1 1069.5L1369.7 1069.5L1372.3 1069.6L1374.9 1069.6L1377.5 1069.6L1380.0 1069.6L1382.6 1069.6L1385.2 1069.6L1387.8 1069.6L1390.4 1069.7L1392.9 1069.7L1395.5 1069.7L1398.1 1069.7L1400.7 1069.7L1403.3 1069.7L1405.8 1069.7L1408.4 1069.7L1411.0 1069.8L1413.6 1069.8L1416.2 1069.8L1418.8 1069.8L1421.3 1069.8L1423.9 1069.8L1426.5 1069.8L1429.1 1069.8L1431.7 1069.8L1434.2 1069.8L1436.8 1069.9L1439.4 1069.9" stroke="#000" stroke-width="5"/><path d="M381.1 982.4L383.7 982.5L386.3 982.5L388.8 982.5L391.4 982.5L394.0 982.5L396.6 982.5L399.2 982.5L401.7 982.5L404.3 982.6L406.9 982.6L409.5 982.6L412.1 982.6L414.7 982.6L417.2 982.6L419.8 982.7L422.4 982.7L425.0 982.7L427.6 982.7L430.1 982.7L432.7 982.8L435.3 982.8L437.9 982.8L440.5 982.9L443.0 982.9L445.6 982.9L448.2 983.0L450.8 983.0L453.4 983.0L456.0 983.1L458.5 983.1L461.1 983.2L463.7 983.2L466.3 983.3L468.9 983.4L471.4 983.4L474.0 983.5L476.6 983.6L479.2 983.7L481.8 983.8L484.3 983.9L486.9 984.0L489.5 984.2L492.1 984.3L494.7 984.4L497.3 984.6L499.8 984.8L502.4 985.0L505.0 985.1L507.6 985.4L510.2 985.6L512.7 985.8L515.3 986.0L517.9 986.3L520.5 986.6L523.1 986.9L525.6 987.1L528.2 987.4L530.8 987.7L533.4 988.1L536.0 988.4L538.6 988.7L541.1 989.0L543.7 989.3L546.3 989.7L548.9 990.0L551.5 990.3L554.0 990.6L556.6 990.9L559.2 991.2L561.8 991.4L564.4 991.7L566.9 992.0L569.5 992.2L572.1 992.4L574.7 992.7L577.3 992.9L579.9 993.1L582.4 993.3L585.0 993.4L587.6 993.6L590.2 993.8L592.8 993.9L595.3 994.1L597.9 994.2L600.5 994.3L603.1 994.5L605.7 994.6L608.2 994.7L610.8 994.8L613.4 995.0L616.0 995.1L618.6 995.2L621.2 995.3L623.7 995.5L626.3 995.6L628.9 995.7L631.5 995.9L634.1 996.0L636.6 996.2L639.2 996.4L641.8 996.5L644.4 996.7L647.0 996.9L649.5 997.1L652.1 997.3L654.7 997.5L657.3 997.7L659.9 997.9L662.5 998.2L665.0 998.4L667.6 998.7L670.2 998.9L672.8 999.2L675.4 999.5L677.9 999.7L680.5 1000.0L683.1 1000.3L685.7 1000.6L688.3 1000.9L690.8 1001.3L693.4 1001.6L696.0 1002.0L698.6 1002.3L701.2 1002.7L703.8 1003.1L706.3 1003.5L708.9 1004.0L711.5 1004.4L714.1 1004.9L716.7 1005.3L719.2 1005.8L721.8 1006.2L724.4 1006.6L727.0 1007.0L729.6 1007.4L732.1 1007.8L734.7 1008.2L737.3 1008.5L739.9 1008.8L742.5 1009.0L745.1 1009.2L747.6 1009.4L750.2 1009.6L752.8 1009.8L755.4 1009.9L758.0 1010.0L760.5 1010.1L763.1 1010.2L765.7 1010.3L768.3 1010.3L770.9 1010.4L773.4 1010.4L776.0 1010.5L778.6 1010.5L781.2 1010.5L783.8 1010.5L786.4 1010.6L788.9 1010.6L791.5 1010.6L794.1 1010.6L796.7 1010.6L799.3 1010.6L801.8 1010.7L804.4 1010.7L807.0 1010.7L809.6 1010.7L812.2 1010.7L814.7 1010.7L817.3 1010.7L819.9 1010.7L822.5 1010.7L825.1 1010.7L827.7 1010.8L830.2 1010.8L832.8 1010.8L835.4 1010.8L838.0 1010.8L840.6 1010.8L843.1 1010.8L845.7 1010.8L848.3 1010.8L850.9 1010.8L853.5 1010.8L856.0 1010.8L858.6 1010.8L861.2 1010.8L863.8 1010.8L866.4 1010.8L869.0 1010.8L871.5 1010.8L874.1 1010.8L876.7 1010.8L879.3 1010.8L881.9 1010.8L884.4 1010.8L887.0 1010.8L889.6 1010.8L892.2 1010.8L894.8 1010.8L897.3 1010.8L899.9 1010.8L902.5 1010.8L905.1 1010.8L907.7 1010.8L910.3 1010.8L912.8 1010.9L915.4 1010.9L918.0 1010.9L920.6 1010.9L923.2 1010.9L925.7 1010.9L928.3 1011.0L930.9 1011.0L933.5 1011.0L936.1 1011.1L938.6 1011.1L941.2 1011.2L943.8 1011.3L946.4 1011.3L949.0 1011.4L951.5 1011.5L954.1 1011.6L956.7 1011.7L959.3 1011.9L961.9 1012.0L964.5 1012.2L967.0 1012.3L969.6 1012.5L972.2 1012.7L974.8 1012.9L977.4 1013.1L979.9 1013.4L982.5 1013.6L985.1 1013.9L987.7 1014.2L990.3 1014.5L992.8 1014.8L995.4 1015.1L998.0 1015.4L1000.6 1015.7L1003.2 1016.0L1005.8 1016.3L1008.3 1016.6L1010.9 1016.9L1013.5 1017.2L1016.1 1017.5L1018.7 1017.7L1021.2 1018.0L1023.8 1018.2L1026.4 1018.4L1029.0 1018.5L1031.6 1018.6L1034.1 1018.7L1036.7 1018.7L1039.3 1018.8L1041.9 1018.7L1044.5 1018.7L1047.1 1018.6L1049.6 1018.4L1052.2 1018.3L1054.8 1018.0L1057.4 1017.8L1060.0 1017.5L1062.5 1017.2L1065.1 1016.8L1067.7 1016.3L1070.3 1015.9L1072.9 1015.3L1075.4 1014.7L1078.0 1014.1L1080.6 1013.4L1083.2 1012.6L1085.8 1011.7L1088.4 1010.7L1090.9 1009.6L1093.5 1008.4L1096.1 1007.0L1098.7 1005.5L1101.3 1003.7L1103.8 1001.6L1106.4 999.3L1109.0 996.5L1111.6 993.4L1114.2 989.7L1116.7 985.5L1119.3 980.6L1121.9 975.0L1124.5 968.6L1127.1 961.3L1129.7 953.0L1132.2 943.6L1134.8 933.2L1137.4 921.6L1140.0 908.9L1142.6 895.1L1145.1 880.3L1147.7 864.5L1150.3 848.1L1152.9 831.2L1155.5 814.3L1158.0 797.9L1160.6 782.8L1163.2 769.5L1165.8 759.0L1168.4 752.0L1171.0 749.1L1173.5 750.5L1176.1 756.6L1178.7 766.9L1181.3 780.7L1183.9 797.1L1186.4 815.3L1189.0 834.3L1191.6 853.7L1194.2 872.7L1196.8 891.0L1199.3 908.4L1201.9 924.6L1204.5 939.5L1207.1 953.2L1209.7 965.5L1212.3 976.6L1214.8 986.5L1217.4 995.2L1220.0 1002.9L1222.6 1009.7L1225.2 1015.5L1227.7 1020.7L1230.3 1025.1L1232.9 1029.0L1235.5 1032.3L1238.1 1035.3L1240.6 1037.8L1243.2 1040.1L1245.8 1042.1L1248.4 1043.9L1251.0 1045.5L1253.6 1046.9L1256.1 1048.2L1258.7 1049.4L1261.3 1050.5L1263.9 1051.4L1266.5 1052.4L1269.0 1053.2L1271.6 1054.0L1274.2 1054.7L1276.8 1055.4L1279.4 1056.0L1281.9 1056.6L1284.5 1057.2L1287.1 1057.7L1289.7 1058.2L1292.3 1058.7L1294.9 1059.1L1297.4 1059.5L1300.0 1059.9L1302.6 1060.3L1305.2 1060.6L1307.8 1061.0L1310.3 1061.3L1312.9 1061.6L1315.5 1061.9L1318.1 1062.1L1320.7 1062.4L1323.2 1062.6L1325.8 1062.9L1328.4 1063.1L1331.0 1063.3L1333.6 1063.5L1336.2 1063.7L1338.7 1063.9L1341.3 1064.1L1343.9 1064.3L1346.5 1064.4L1349.1 1064.6L1351.6 1064.7L1354.2 1064.9L1356.8 1065.0L1359.4 1065.2L1362.0 1065.3L1364.5 1065.4L1367.1 1065.6L1369.7 1065.7L1372.3 1065.8L1374.9 1065.9L1377.5 1066.0L1380.0 1066.1L1382.6 1066.2L1385.2 1066.3L1387.8 1066.4L1390.4 1066.5L1392.9 1066.6L1395.5 1066.6L1398.1 1066.7L1400.7 1066.8L1403.3 1066.9L1405.8 1067.0L1408.4 1067.0L1411.0 1067.1L1413.6 1067.2L1416.2 1067.2L1418.8 1067.3L1421.3 1067.3L1423.9 1067.4L1426.5 1067.5L1429.1 1067.5L1431.7 1067.6L1434.2 1067.6L1436.8 1067.7L1439.4 1067.7" stroke="#000" stroke-width="5"/><path d="M381.1 976.2L383.7 976.0L386.3 975.8L388.8 975.6L391.4 975.4L394.0 975.2L396.6 975.0L399.2 974.7L401.7 974.5L404.3 974.2L406.9 973.9L409.5 973.6L412.1 973.3L414.7 972.9L417.2 972.6L419.8 972.2L422.4 971.8L425.0 971.4L427.6 970.9L430.1 970.5L432.7 970.0L435.3 969.4L437.9 968.9L440.5 968.2L443.0 967.6L445.6 966.9L448.2 966.2L450.8 965.4L453.4 964.6L456.0 963.7L458.5 962.7L461.1 961.7L463.7 960.6L466.3 959.4L468.9 958.1L471.4 956.8L474.0 955.3L476.6 953.8L479.2 952.1L481.8 950.4L484.3 948.5L486.9 946.4L489.5 944.3L492.1 942.0L494.7 939.5L497.3 936.9L499.8 934.2L502.4 931.3L505.0 928.3L507.6 925.2L510.2 922.0L512.7 918.7L515.3 915.4L517.9 912.2L520.5 909.0L523.1 906.0L525.6 903.2L528.2 900.7L530.8 898.7L533.4 897.1L536.0 896.0L538.6 895.6L541.1 895.7L543.7 896.5L546.3 898.0L548.9 900.0L551.5 902.6L554.0 905.6L556.6 909.0L559.2 912.6L561.8 916.4L564.4 920.3L566.9 924.2L569.5 928.1L572.1 931.9L574.7 935.5L577.3 939.1L579.9 942.4L582.4 945.6L585.0 948.7L587.6 951.5L590.2 954.2L592.8 956.7L595.3 959.0L597.9 961.2L600.5 963.3L603.1 965.2L605.7 967.0L608.2 968.7L610.8 970.2L613.4 971.7L616.0 973.1L618.6 974.4L621.2 975.6L623.7 976.7L626.3 977.8L628.9 978.8L631.5 979.8L634.1 980.7L636.6 981.6L639.2 982.4L641.8 983.2L644.4 984.0L647.0 984.8L649.5 985.5L652.1 986.2L654.7 986.9L657.3 987.5L659.9 988.2L662.5 988.8L665.0 989.4L667.6 990.0L670.2 990.6L672.8 991.2L675.4 991.8L677.9 992.3L680.5 992.9L683.1 993.5L685.7 994.0L688.3 994.6L690.8 995.1L693.4 995.7L696.0 996.3L698.6 996.8L701.2 997.4L703.8 998.0L706.3 998.6L708.9 999.2L711.5 999.8L714.1 1000.4L716.7 1001.0L719.2 1001.6L721.8 1002.2L724.4 1002.8L727.0 1003.3L729.6 1003.8L732.1 1004.3L734.7 1004.8L737.3 1005.2L739.9 1005.6L742.5 1006.0L745.1 1006.3L747.6 1006.6L750.2 1006.9L752.8 1007.2L755.4 1007.4L758.0 1007.6L760.5 1007.8L763.1 1007.9L765.7 1008.1L768.3 1008.2L770.9 1008.4L773.4 1008.5L776.0 1008.6L778.6 1008.7L781.2 1008.8L783.8 1008.9L786.4 1009.0L788.9 1009.1L791.5 1009.2L794.1 1009.3L796.7 1009.3L799.3 1009.4L801.8 1009.5L804.4 1009.6L807.0 1009.6L809.6 1009.7L812.2 1009.8L814.7 1009.8L817.3 1009.9L819.9 1010.0L822.5 1010.0L825.1 1010.1L827.7 1010.2L830.2 1010.2L832.8 1010.3L835.4 1010.3L838.0 1010.4L840.6 1010.5L843.1 1010.5L845.7 1010.6L848.3 1010.6L850.9 1010.7L853.5 1010.8L856.0 1010.8L858.6 1010.9L861.2 1010.9L863.8 1011.0L866.4 1011.0L869.0 1011.1L871.5 1011.1L874.1 1011.2L876.7 1011.2L879.3 1011.3L881.9 1011.4L884.4 1011.4L887.0 1011.5L889.6 1011.5L892.2 1011.6L894.8 1011.7L897.3 1011.7L899.9 1011.8L902.5 1011.8L905.1 1011.9L907.7 1012.0L910.3 1012.0L912.8 1012.1L915.4 1012.2L918.0 1012.3L920.6 1012.4L923.2 1012.4L925.7 1012.5L928.3 1012.6L930.9 1012.7L933.5 1012.9L936.1 1013.0L938.6 1013.1L941.2 1013.2L943.8 1013.4L946.4 1013.5L949.0 1013.7L951.5 1013.9L954.1 1014.1L956.7 1014.3L959.3 1014.5L961.9 1014.8L964.5 1015.0L967.0 1015.3L969.6 1015.6L972.2 1015.9L974.8 1016.2L977.4 1016.6L979.9 1016.9L982.5 1017.3L985.1 1017.7L987.7 1018.1L990.3 1018.6L992.8 1019.0L995.4 1019.5L998.0 1019.9L1000.6 1020.4L1003.2 1020.9L1005.8 1021.4L1008.3 1021.9L1010.9 1022.4L1013.5 1022.9L1016.1 1023.4L1018.7 1023.9L1021.2 1024.3L1023.8 1024.8L1026.4 1025.2L1029.0 1025.6L1031.6 1026.0L1034.1 1026.4L1036.7 1026.8L1039.3 1027.1L1041.9 1027.4L1044.5 1027.7L1047.1 1028.0L1049.6 1028.3L1052.2 1028.6L1054.8 1028.8L1057.4 1029.1L1060.0 1029.3L1062.5 1029.5L1065.1 1029.7L1067.7 1030.0L1070.3 1030.2L1072.9 1030.4L1075.4 1030.6L1078.0 1030.8L1080.6 1031.0L1083.2 1031.2L1085.8 1031.5L1088.4 1031.7L1090.9 1032.0L1093.5 1032.2L1096.1 1032.5L1098.7 1032.8L1101.3 1033.1L1103.8 1033.5L1106.4 1033.8L1109.0 1034.2L1111.6 1034.6L1114.2 1035.0L1116.7 1035.5L1119.3 1036.0L1121.9 1036.5L1124.5 1037.1L1127.1 1037.6L1129.7 1038.2L1132.2 1038.9L1134.8 1039.5L1137.4 1040.2L1140.0 1041.0L1142.6 1041.8L1145.1 1042.6L1147.7 1043.5L1150.3 1044.4L1152.9 1045.3L1155.5 1046.3L1158.0 1047.4L1160.6 1048.5L1163.2 1049.6L1165.8 1050.8L1168.4 1051.9L1171.0 1053.1L1173.5 1054.3L1176.1 1055.4L1178.7 1056.5L1181.3 1057.6L1183.9 1058.6L1186.4 1059.6L1189.0 1060.5L1191.6 1061.3L1194.2 1062.0L1196.8 1062.7L1199.3 1063.3L1201.9 1063.9L1204.5 1064.4L1207.1 1064.8L1209.7 1065.2L1212.3 1065.6L1214.8 1065.9L1217.4 1066.1L1220.0 1066.4L1222.6 1066.6L1225.2 1066.8L1227.7 1066.9L1230.3 1067.1L1232.9 1067.2L1235.5 1067.3L1238.1 1067.4L1240.6 1067.5L1243.2 1067.6L1245.8 1067.7L1248.4 1067.8L1251.0 1067.8L1253.6 1067.9L1256.1 1068.0L1258.7 1068.0L1261.3 1068.1L1263.9 1068.1L1266.5 1068.2L1269.0 1068.2L1271.6 1068.3L1274.2 1068.3L1276.8 1068.4L1279.4 1068.4L1281.9 1068.5L1284.5 1068.5L1287.1 1068.6L1289.7 1068.6L1292.3 1068.6L1294.9 1068.7L1297.4 1068.7L1300.0 1068.7L1302.6 1068.8L1305.2 1068.8L1307.8 1068.8L1310.3 1068.9L1312.9 1068.9L1315.5 1068.9L1318.1 1068.9L1320.7 1069.0L1323.2 1069.0L1325.8 1069.0L1328.4 1069.0L1331.0 1069.1L1333.6 1069.1L1336.2 1069.1L1338.7 1069.1L1341.3 1069.1L1343.9 1069.2L1346.5 1069.2L1349.1 1069.2L1351.6 1069.2L1354.2 1069.2L1356.8 1069.3L1359.4 1069.3L1362.0 1069.3L1364.5 1069.3L1367.1 1069.3L1369.7 1069.3L1372.3 1069.4L1374.9 1069.4L1377.5 1069.4L1380.0 1069.4L1382.6 1069.4L1385.2 1069.4L1387.8 1069.5L1390.4 1069.5L1392.9 1069.5L1395.5 1069.5L1398.1 1069.5L1400.7 1069.5L1403.3 1069.5L1405.8 1069.5L1408.4 1069.6L1411.0 1069.6L1413.6 1069.6L1416.2 1069.6L1418.8 1069.6L1421.3 1069.6L1423.9 1069.6L1426.5 1069.6L1429.1 1069.6L1431.7 1069.7L1434.2 1069.7L1436.8 1069.7L1439.4 1069.7" stroke="#008000" stroke-width="5"/><path d="M381.1 982.1L383.7 982.1L386.3 982.2L388.8 982.2L391.4 982.2L394.0 982.2L396.6 982.2L399.2 982.2L401.7 982.2L404.3 982.2L406.9 982.2L409.5 982.3L412.1 982.3L414.7 982.3L417.2 982.3L419.8 982.3L422.4 982.3L425.0 982.3L427.6 982.4L430.1 982.4L432.7 982.4L435.3 982.4L437.9 982.4L440.5 982.5L443.0 982.5L445.6 982.5L448.2 982.6L450.8 982.6L453.4 982.6L456.0 982.7L458.5 982.7L461.1 982.8L463.7 982.8L466.3 982.9L468.9 982.9L471.4 983.0L474.0 983.1L476.6 983.2L479.2 983.2L481.8 983.3L484.3 983.4L486.9 983.6L489.5 983.7L492.1 983.8L494.7 984.0L497.3 984.1L499.8 984.3L502.4 984.5L505.0 984.6L507.6 984.8L510.2 985.1L512.7 985.3L515.3 985.5L517.9 985.8L520.5 986.0L523.1 986.3L525.6 986.6L528.2 986.9L530.8 987.2L533.4 987.5L536.0 987.8L538.6 988.1L541.1 988.4L543.7 988.7L546.3 989.0L548.9 989.3L551.5 989.6L554.0 989.9L556.6 990.2L559.2 990.5L561.8 990.8L564.4 991.0L566.9 991.3L569.5 991.5L572.1 991.7L574.7 992.0L577.3 992.2L579.9 992.3L582.4 992.5L585.0 992.7L587.6 992.8L590.2 993.0L592.8 993.1L595.3 993.3L597.9 993.4L600.5 993.5L603.1 993.6L605.7 993.7L608.2 993.9L610.8 994.0L613.4 994.1L616.0 994.2L618.6 994.3L621.2 994.4L623.7 994.5L626.3 994.6L628.9 994.8L631.5 994.9L634.1 995.0L636.6 995.2L639.2 995.3L641.8 995.5L644.4 995.6L647.0 995.8L649.5 996.0L652.1 996.2L654.7 996.4L657.3 996.5L659.9 996.8L662.5 997.0L665.0 997.2L667.6 997.4L670.2 997.6L672.8 997.9L675.4 998.1L677.9 998.4L680.5 998.6L683.1 998.9L685.7 999.2L688.3 999.5L690.8 999.8L693.4 1000.1L696.0 1000.4L698.6 1000.8L701.2 1001.1L703.8 1001.5L706.3 1001.9L708.9 1002.3L711.5 1002.7L714.1 1003.1L716.7 1003.5L719.2 1003.9L721.8 1004.3L724.4 1004.7L727.0 1005.1L729.6 1005.5L732.1 1005.8L734.7 1006.1L737.3 1006.4L739.9 1006.6L742.5 1006.8L745.1 1007.0L747.6 1007.1L750.2 1007.3L752.8 1007.4L755.4 1007.4L758.0 1007.5L760.5 1007.5L763.1 1007.6L765.7 1007.6L768.3 1007.6L770.9 1007.5L773.4 1007.5L776.0 1007.5L778.6 1007.4L781.2 1007.4L783.8 1007.3L786.4 1007.3L788.9 1007.2L791.5 1007.1L794.1 1007.1L796.7 1007.0L799.3 1006.9L801.8 1006.8L804.4 1006.7L807.0 1006.6L809.6 1006.5L812.2 1006.4L814.7 1006.3L817.3 1006.1L819.9 1006.0L822.5 1005.9L825.1 1005.7L827.7 1005.6L830.2 1005.4L832.8 1005.3L835.4 1005.1L838.0 1004.9L840.6 1004.7L843.1 1004.6L845.7 1004.3L848.3 1004.1L850.9 1003.9L853.5 1003.7L856.0 1003.4L858.6 1003.1L861.2 1002.9L863.8 1002.6L866.4 1002.3L869.0 1001.9L871.5 1001.6L874.1 1001.2L876.7 1000.8L879.3 1000.4L881.9 1000.0L884.4 999.5L887.0 999.0L889.6 998.5L892.2 998.0L894.8 997.4L897.3 996.7L899.9 996.0L902.5 995.3L905.1 994.5L907.7 993.7L910.3 992.7L912.8 991.8L915.4 990.7L918.0 989.6L920.6 988.3L923.2 987.0L925.7 985.5L928.3 984.0L930.9 982.3L933.5 980.5L936.1 978.5L938.6 976.4L941.2 974.2L943.8 971.7L946.4 969.1L949.0 966.3L951.5 963.3L954.1 960.1L956.7 956.7L959.3 953.0L961.9 949.2L964.5 945.1L967.0 940.9L969.6 936.4L972.2 931.8L974.8 927.0L977.4 922.1L979.9 917.2L982.5 912.3L985.1 907.5L987.7 902.8L990.3 898.4L992.8 894.5L995.4 891.0L998.0 888.2L1000.6 886.1L1003.2 884.8L1005.8 884.4L1008.3 885.0L1010.9 886.6L1013.5 889.3L1016.1 893.0L1018.7 897.4L1021.2 902.5L1023.8 908.1L1026.4 914.0L1029.0 920.1L1031.6 926.3L1034.1 932.5L1036.7 938.5L1039.3 944.4L1041.9 950.0L1044.5 955.4L1047.1 960.5L1049.6 965.3L1052.2 969.9L1054.8 974.1L1057.4 978.1L1060.0 981.8L1062.5 985.2L1065.1 988.4L1067.7 991.4L1070.3 994.1L1072.9 996.7L1075.4 999.0L1078.0 1001.2L1080.6 1003.3L1083.2 1005.1L1085.8 1006.9L1088.4 1008.6L1090.9 1010.1L1093.5 1011.6L1096.1 1013.0L1098.7 1014.3L1101.3 1015.6L1103.8 1016.8L1106.4 1017.9L1109.0 1019.1L1111.6 1020.2L1114.2 1021.3L1116.7 1022.3L1119.3 1023.4L1121.9 1024.4L1124.5 1025.5L1127.1 1026.5L1129.7 1027.5L1132.2 1028.6L1134.8 1029.7L1137.4 1030.7L1140.0 1031.8L1142.6 1032.9L1145.1 1034.1L1147.7 1035.3L1150.3 1036.5L1152.9 1037.7L1155.5 1038.9L1158.0 1040.2L1160.6 1041.6L1163.2 1042.9L1165.8 1044.3L1168.4 1045.6L1171.0 1047.0L1173.5 1048.4L1176.1 1049.7L1178.7 1051.0L1181.3 1052.2L1183.9 1053.4L1186.4 1054.5L1189.0 1055.5L1191.6 1056.5L1194.2 1057.4L1196.8 1058.2L1199.3 1058.9L1201.9 1059.6L1204.5 1060.2L1207.1 1060.8L1209.7 1061.3L1212.3 1061.7L1214.8 1062.1L1217.4 1062.5L1220.0 1062.8L1222.6 1063.1L1225.2 1063.3L1227.7 1063.6L1230.3 1063.8L1232.9 1064.0L1235.5 1064.2L1238.1 1064.4L1240.6 1064.6L1243.2 1064.7L1245.8 1064.9L1248.4 1065.0L1251.0 1065.1L1253.6 1065.3L1256.1 1065.4L1258.7 1065.5L1261.3 1065.6L1263.9 1065.7L1266.5 1065.8L1269.0 1065.9L1271.6 1066.0L1274.2 1066.1L1276.8 1066.2L1279.4 1066.3L1281.9 1066.4L1284.5 1066.5L1287.1 1066.5L1289.7 1066.6L1292.3 1066.7L1294.9 1066.8L1297.4 1066.8L1300.0 1066.9L1302.6 1067.0L1305.2 1067.0L1307.8 1067.1L1310.3 1067.2L1312.9 1067.2L1315.5 1067.3L1318.1 1067.3L1320.7 1067.4L1323.2 1067.4L1325.8 1067.5L1328.4 1067.5L1331.0 1067.6L1333.6 1067.6L1336.2 1067.7L1338.7 1067.7L1341.3 1067.8L1343.9 1067.8L1346.5 1067.9L1349.1 1067.9L1351.6 1067.9L1354.2 1068.0L1356.8 1068.0L1359.4 1068.1L1362.0 1068.1L1364.5 1068.1L1367.1 1068.2L1369.7 1068.2L1372.3 1068.2L1374.9 1068.3L1377.5 1068.3L1380.0 1068.3L1382.6 1068.4L1385.2 1068.4L1387.8 1068.4L1390.4 1068.4L1392.9 1068.5L1395.5 1068.5L1398.1 1068.5L1400.7 1068.6L1403.3 1068.6L1405.8 1068.6L1408.4 1068.6L1411.0 1068.7L1413.6 1068.7L1416.2 1068.7L1418.8 1068.7L1421.3 1068.8L1423.9 1068.8L1426.5 1068.8L1429.1 1068.8L1431.7 1068.9L1434.2 1068.9L1436.8 1068.9L1439.4 1068.9" stroke="#008000" stroke-width="5"/><path d="M381.1 981.8L383.7 981.8L386.3 981.8L388.8 981.8L391.4 981.8L394.0 981.8L396.6 981.8L399.2 981.8L401.7 981.8L404.3 981.8L406.9 981.8L409.5 981.8L412.1 981.8L414.7 981.8L417.2 981.8L419.8 981.8L422.4 981.8L425.0 981.8L427.6 981.8L430.1 981.8L432.7 981.8L435.3 981.8L437.9 981.8L440.5 981.8L443.0 981.8L445.6 981.8L448.2 981.8L450.8 981.8L453.4 981.8L456.0 981.8L458.5 981.8L461.1 981.8L463.7 981.8L466.3 981.8L468.9 981.9L471.4 981.9L474.0 981.9L476.6 982.0L479.2 982.0L481.8 982.1L484.3 982.1L486.9 982.2L489.5 982.2L492.1 982.3L494.7 982.4L497.3 982.5L499.8 982.6L502.4 982.7L505.0 982.8L507.6 983.0L510.2 983.1L512.7 983.2L515.3 983.4L517.9 983.5L520.5 983.7L523.1 983.9L525.6 984.0L528.2 984.2L530.8 984.4L533.4 984.6L536.0 984.7L538.6 984.9L541.1 985.1L543.7 985.2L546.3 985.4L548.9 985.5L551.5 985.6L554.0 985.7L556.6 985.8L559.2 985.8L561.8 985.8L564.4 985.8L566.9 985.8L569.5 985.7L572.1 985.6L574.7 985.4L577.3 985.2L579.9 985.0L582.4 984.7L585.0 984.4L587.6 984.0L590.2 983.6L592.8 983.1L595.3 982.5L597.9 981.8L600.5 981.1L603.1 980.3L605.7 979.5L608.2 978.5L610.8 977.4L613.4 976.3L616.0 975.0L618.6 973.6L621.2 972.1L623.7 970.5L626.3 968.7L628.9 966.9L631.5 964.9L634.1 962.8L636.6 960.6L639.2 958.4L641.8 956.1L644.4 953.8L647.0 951.5L649.5 949.3L652.1 947.4L654.7 945.7L657.3 944.3L659.9 943.3L662.5 942.8L665.0 942.7L667.6 943.2L670.2 944.2L672.8 945.7L675.4 947.6L677.9 949.8L680.5 952.3L683.1 955.0L685.7 957.8L688.3 960.7L690.8 963.5L693.4 966.3L696.0 969.1L698.6 971.7L701.2 974.3L703.8 976.7L706.3 979.0L708.9 981.2L711.5 983.3L714.1 985.3L716.7 987.1L719.2 988.9L721.8 990.5L724.4 992.0L727.0 993.5L729.6 994.8L732.1 996.0L734.7 997.1L737.3 998.2L739.9 999.1L742.5 1000.0L745.1 1000.8L747.6 1001.5L750.2 1002.2L752.8 1002.8L755.4 1003.3L758.0 1003.8L760.5 1004.3L763.1 1004.7L765.7 1005.1L768.3 1005.4L770.9 1005.7L773.4 1006.0L776.0 1006.3L778.6 1006.6L781.2 1006.8L783.8 1007.0L786.4 1007.3L788.9 1007.5L791.5 1007.7L794.1 1007.8L796.7 1008.0L799.3 1008.2L801.8 1008.3L804.4 1008.5L807.0 1008.6L809.6 1008.8L812.2 1008.9L814.7 1009.0L817.3 1009.1L819.9 1009.3L822.5 1009.4L825.1 1009.5L827.7 1009.6L830.2 1009.7L832.8 1009.8L835.4 1009.9L838.0 1010.0L840.6 1010.1L843.1 1010.2L845.7 1010.3L848.3 1010.3L850.9 1010.4L853.5 1010.5L856.0 1010.6L858.6 1010.7L861.2 1010.7L863.8 1010.8L866.4 1010.9L869.0 1011.0L871.5 1011.0L874.1 1011.1L876.7 1011.2L879.3 1011.2L881.9 1011.3L884.4 1011.4L887.0 1011.4L889.6 1011.5L892.2 1011.6L894.8 1011.6L897.3 1011.7L899.9 1011.8L902.5 1011.9L905.1 1011.9L907.7 1012.0L910.3 1012.1L912.8 1012.2L915.4 1012.3L918.0 1012.3L920.6 1012.4L923.2 1012.5L925.7 1012.6L928.3 1012.7L930.9 1012.8L933.5 1013.0L936.1 1013.1L938.6 1013.2L941.2 1013.4L943.8 1013.5L946.4 1013.7L949.0 1013.8L951.5 1014.0L954.1 1014.2L956.7 1014.4L959.3 1014.7L961.9 1014.9L964.5 1015.2L967.0 1015.4L969.6 1015.7L972.2 1016.0L974.8 1016.4L977.4 1016.7L979.9 1017.1L982.5 1017.5L985.1 1017.9L987.7 1018.3L990.3 1018.7L992.8 1019.2L995.4 1019.6L998.0 1020.1L1000.6 1020.6L1003.2 1021.1L1005.8 1021.6L1008.3 1022.1L1010.9 1022.6L1013.5 1023.1L1016.1 1023.5L1018.7 1024.0L1021.2 1024.5L1023.8 1024.9L1026.4 1025.4L1029.0 1025.8L1031.6 1026.2L1034.1 1026.6L1036.7 1026.9L1039.3 1027.3L1041.9 1027.6L1044.5 1027.9L1047.1 1028.2L1049.6 1028.5L1052.2 1028.7L1054.8 1029.0L1057.4 1029.2L1060.0 1029.5L1062.5 1029.7L1065.1 1029.9L1067.7 1030.1L1070.3 1030.3L1072.9 1030.5L1075.4 1030.7L1078.0 1030.9L1080.6 1031.2L1083.2 1031.4L1085.8 1031.6L1088.4 1031.9L1090.9 1032.1L1093.5 1032.4L1096.1 1032.7L1098.7 1033.0L1101.3 1033.3L1103.8 1033.6L1106.4 1034.0L1109.0 1034.4L1111.6 1034.8L1114.2 1035.2L1116.7 1035.7L1119.3 1036.1L1121.9 1036.7L1124.5 1037.2L1127.1 1037.8L1129.7 1038.4L1132.2 1039.0L1134.8 1039.7L1137.4 1040.4L1140.0 1041.1L1142.6 1041.9L1145.1 1042.7L1147.7 1043.6L1150.3 1044.5L1152.9 1045.5L1155.5 1046.5L1158.0 1047.5L1160.6 1048.6L1163.2 1049.7L1165.8 1050.9L1168.4 1052.1L1171.0 1053.2L1173.5 1054.4L1176.1 1055.6L1178.7 1056.7L1181.3 1057.7L1183.9 1058.8L1186.4 1059.7L1189.0 1060.6L1191.6 1061.4L1194.2 1062.2L1196.8 1062.9L1199.3 1063.5L1201.9 1064.0L1204.5 1064.5L1207.1 1065.0L1209.7 1065.4L1212.3 1065.7L1214.8 1066.0L1217.4 1066.3L1220.0 1066.5L1222.6 1066.7L1225.2 1066.9L1227.7 1067.0L1230.3 1067.2L1232.9 1067.3L1235.5 1067.4L1238.1 1067.5L1240.6 1067.6L1243.2 1067.7L1245.8 1067.8L1248.4 1067.9L1251.0 1068.0L1253.6 1068.0L1256.1 1068.1L1258.7 1068.2L1261.3 1068.2L1263.9 1068.3L1266.5 1068.3L1269.0 1068.4L1271.6 1068.4L1274.2 1068.5L1276.8 1068.5L1279.4 1068.6L1281.9 1068.6L1284.5 1068.6L1287.1 1068.7L1289.7 1068.7L1292.3 1068.7L1294.9 1068.8L1297.4 1068.8L1300.0 1068.8L1302.6 1068.9L1305.2 1068.9L1307.8 1068.9L1310.3 1069.0L1312.9 1069.0L1315.5 1069.0L1318.1 1069.0L1320.7 1069.1L1323.2 1069.1L1325.8 1069.1L1328.4 1069.1L1331.0 1069.2L1333.6 1069.2L1336.2 1069.2L1338.7 1069.2L1341.3 1069.2L1343.9 1069.3L1346.5 1069.3L1349.1 1069.3L1351.6 1069.3L1354.2 1069.3L1356.8 1069.4L1359.4 1069.4L1362.0 1069.4L1364.5 1069.4L1367.1 1069.4L1369.7 1069.4L1372.3 1069.5L1374.9 1069.5L1377.5 1069.5L1380.0 1069.5L1382.6 1069.5L1385.2 1069.5L1387.8 1069.5L1390.4 1069.6L1392.9 1069.6L1395.5 1069.6L1398.1 1069.6L1400.7 1069.6L1403.3 1069.6L1405.8 1069.6L1408.4 1069.6L1411.0 1069.7L1413.6 1069.7L1416.2 1069.7L1418.8 1069.7L1421.3 1069.7L1423.9 1069.7L1426.5 1069.7L1429.1 1069.7L1431.7 1069.7L1434.2 1069.8L1436.8 1069.8L1439.4 1069.8" stroke="#ff00ff" stroke-width="5"/><path d="M381.1 982.5L383.7 982.5L386.3 982.5L388.8 982.5L391.4 982.5L394.0 982.6L396.6 982.6L399.2 982.6L401.7 982.6L404.3 982.6L406.9 982.6L409.5 982.6L412.1 982.7L414.7 982.7L417.2 982.7L419.8 982.7L422.4 982.7L425.0 982.8L427.6 982.8L430.1 982.8L432.7 982.8L435.3 982.9L437.9 982.9L440.5 982.9L443.0 982.9L445.6 983.0L448.2 983.0L450.8 983.0L453.4 983.1L456.0 983.1L458.5 983.2L461.1 983.2L463.7 983.3L466.3 983.4L468.9 983.4L471.4 983.5L474.0 983.6L476.6 983.7L479.2 983.8L481.8 983.9L484.3 984.0L486.9 984.1L489.5 984.2L492.1 984.4L494.7 984.5L497.3 984.7L499.8 984.8L502.4 985.0L505.0 985.2L507.6 985.4L510.2 985.6L512.7 985.9L515.3 986.1L517.9 986.4L520.5 986.6L523.1 986.9L525.6 987.2L528.2 987.5L530.8 987.8L533.4 988.1L536.0 988.4L538.6 988.8L541.1 989.1L543.7 989.4L546.3 989.7L548.9 990.0L551.5 990.3L554.0 990.7L556.6 991.0L559.2 991.2L561.8 991.5L564.4 991.8L566.9 992.0L569.5 992.3L572.1 992.5L574.7 992.7L577.3 993.0L579.9 993.2L582.4 993.3L585.0 993.5L587.6 993.7L590.2 993.8L592.8 994.0L595.3 994.1L597.9 994.3L600.5 994.4L603.1 994.6L605.7 994.7L608.2 994.8L610.8 994.9L613.4 995.0L616.0 995.2L618.6 995.3L621.2 995.4L623.7 995.5L626.3 995.7L628.9 995.8L631.5 996.0L634.1 996.1L636.6 996.3L639.2 996.4L641.8 996.6L644.4 996.8L647.0 997.0L649.5 997.2L652.1 997.4L654.7 997.6L657.3 997.8L659.9 998.0L662.5 998.3L665.0 998.5L667.6 998.8L670.2 999.0L672.8 999.3L675.4 999.5L677.9 999.8L680.5 1000.1L683.1 1000.4L685.7 1000.7L688.3 1001.0L690.8 1001.3L693.4 1001.7L696.0 1002.0L698.6 1002.4L701.2 1002.8L703.8 1003.2L706.3 1003.6L708.9 1004.1L711.5 1004.5L714.1 1004.9L716.7 1005.4L719.2 1005.8L721.8 1006.3L724.4 1006.7L727.0 1007.1L729.6 1007.5L732.1 1007.9L734.7 1008.2L737.3 1008.6L739.9 1008.8L742.5 1009.1L745.1 1009.3L747.6 1009.5L750.2 1009.7L752.8 1009.9L755.4 1010.0L758.0 1010.1L760.5 1010.2L763.1 1010.3L765.7 1010.4L768.3 1010.4L770.9 1010.5L773.4 1010.5L776.0 1010.5L778.6 1010.6L781.2 1010.6L783.8 1010.6L786.4 1010.7L788.9 1010.7L791.5 1010.7L794.1 1010.7L796.7 1010.7L799.3 1010.7L801.8 1010.7L804.4 1010.8L807.0 1010.8L809.6 1010.8L812.2 1010.8L814.7 1010.8L817.3 1010.8L819.9 1010.8L822.5 1010.8L825.1 1010.8L827.7 1010.8L830.2 1010.8L832.8 1010.8L835.4 1010.8L838.0 1010.8L840.6 1010.8L843.1 1010.8L845.7 1010.8L848.3 1010.8L850.9 1010.8L853.5 1010.8L856.0 1010.8L858.6 1010.8L861.2 1010.8L863.8 1010.8L866.4 1010.8L869.0 1010.8L871.5 1010.8L874.1 1010.8L876.7 1010.8L879.3 1010.8L881.9 1010.8L884.4 1010.8L887.0 1010.8L889.6 1010.8L892.2 1010.8L894.8 1010.8L897.3 1010.8L899.9 1010.8L902.5 1010.8L905.1 1010.8L907.7 1010.8L910.3 1010.8L912.8 1010.8L915.4 1010.8L918.0 1010.8L920.6 1010.8L923.2 1010.8L925.7 1010.8L928.3 1010.8L930.9 1010.8L933.5 1010.8L936.1 1010.8L938.6 1010.9L941.2 1010.9L943.8 1010.9L946.4 1011.0L949.0 1011.1L951.5 1011.1L954.1 1011.2L956.7 1011.3L959.3 1011.4L961.9 1011.5L964.5 1011.6L967.0 1011.7L969.6 1011.9L972.2 1012.0L974.8 1012.2L977.4 1012.4L979.9 1012.5L982.5 1012.7L985.1 1012.9L987.7 1013.1L990.3 1013.4L992.8 1013.6L995.4 1013.8L998.0 1014.0L1000.6 1014.2L1003.2 1014.5L1005.8 1014.7L1008.3 1014.8L1010.9 1015.0L1013.5 1015.1L1016.1 1015.3L1018.7 1015.3L1021.2 1015.4L1023.8 1015.4L1026.4 1015.3L1029.0 1015.3L1031.6 1015.1L1034.1 1014.9L1036.7 1014.7L1039.3 1014.3L1041.9 1014.0L1044.5 1013.5L1047.1 1013.0L1049.6 1012.4L1052.2 1011.7L1054.8 1010.9L1057.4 1010.0L1060.0 1009.0L1062.5 1007.9L1065.1 1006.7L1067.7 1005.3L1070.3 1003.8L1072.9 1002.2L1075.4 1000.4L1078.0 998.4L1080.6 996.2L1083.2 993.8L1085.8 991.1L1088.4 988.2L1090.9 985.1L1093.5 981.7L1096.1 978.0L1098.7 974.1L1101.3 970.0L1103.8 965.6L1106.4 961.2L1109.0 956.7L1111.6 952.3L1114.2 948.2L1116.7 944.5L1119.3 941.4L1121.9 939.2L1124.5 937.9L1127.1 937.6L1129.7 938.5L1132.2 940.3L1134.8 943.1L1137.4 946.6L1140.0 950.7L1142.6 955.4L1145.1 960.5L1147.7 965.8L1150.3 971.1L1152.9 976.5L1155.5 981.9L1158.0 987.1L1160.6 992.2L1163.2 997.0L1165.8 1001.7L1168.4 1006.1L1171.0 1010.4L1173.5 1014.3L1176.1 1018.1L1178.7 1021.6L1181.3 1024.9L1183.9 1028.0L1186.4 1030.8L1189.0 1033.5L1191.6 1035.9L1194.2 1038.1L1196.8 1040.2L1199.3 1042.1L1201.9 1043.8L1204.5 1045.4L1207.1 1046.8L1209.7 1048.2L1212.3 1049.4L1214.8 1050.5L1217.4 1051.5L1220.0 1052.4L1222.6 1053.3L1225.2 1054.1L1227.7 1054.9L1230.3 1055.5L1232.9 1056.2L1235.5 1056.8L1238.1 1057.3L1240.6 1057.8L1243.2 1058.3L1245.8 1058.8L1248.4 1059.2L1251.0 1059.6L1253.6 1060.0L1256.1 1060.4L1258.7 1060.7L1261.3 1061.0L1263.9 1061.4L1266.5 1061.6L1269.0 1061.9L1271.6 1062.2L1274.2 1062.5L1276.8 1062.7L1279.4 1062.9L1281.9 1063.1L1284.5 1063.4L1287.1 1063.6L1289.7 1063.8L1292.3 1063.9L1294.9 1064.1L1297.4 1064.3L1300.0 1064.5L1302.6 1064.6L1305.2 1064.8L1307.8 1064.9L1310.3 1065.1L1312.9 1065.2L1315.5 1065.3L1318.1 1065.4L1320.7 1065.6L1323.2 1065.7L1325.8 1065.8L1328.4 1065.9L1331.0 1066.0L1333.6 1066.1L1336.2 1066.2L1338.7 1066.3L1341.3 1066.4L1343.9 1066.5L1346.5 1066.6L1349.1 1066.6L1351.6 1066.7L1354.2 1066.8L1356.8 1066.9L1359.4 1066.9L1362.0 1067.0L1364.5 1067.1L1367.1 1067.2L1369.7 1067.2L1372.3 1067.3L1374.9 1067.3L1377.5 1067.4L1380.0 1067.5L1382.6 1067.5L1385.2 1067.6L1387.8 1067.6L1390.4 1067.7L1392.9 1067.7L1395.5 1067.8L1398.1 1067.8L1400.7 1067.9L1403.3 1067.9L1405.8 1068.0L1408.4 1068.0L1411.0 1068.1L1413.6 1068.1L1416.2 1068.1L1418.8 1068.2L1421.3 1068.2L1423.9 1068.2L1426.5 1068.3L1429.1 1068.3L1431.7 1068.4L1434.2 1068.4L1436.8 1068.4L1439.4 1068.5" stroke="#ff00ff" stroke-width="5"/></g>
<g fill="#fff" stroke="#000" stroke-width="1.2"><circle cx="381.1" cy="1524.8" r="6.75"/><circle cx="383.7" cy="1516.2" r="6.75"/><circle cx="386.3" cy="1522.9" r="6.75"/><circle cx="388.8" cy="1516.1" r="6.75"/><circle cx="391.4" cy="1524.0" r="6.75"/><circle cx="394.0" cy="1514.5" r="6.75"/><circle cx="396.6" cy="1517.3" r="6.75"/><circle cx="399.2" cy="1517.5" r="6.75"/><circle cx="401.7" cy="1511.9" r="6.75"/><circle cx="404.3" cy="1522.2" r="6.75"/><circle cx="406.9" cy="1513.5" r="6.75"/><circle cx="409.5" cy="1524.6" r="6.75"/><circle cx="412.1" cy="1515.4" r="6.75"/><circle cx="414.7" cy="1517.8" r="6.75"/><circle cx="417.2" cy="1516.7" r="6.75"/><circle cx="419.8" cy="1518.0" r="6.75"/><circle cx="422.4" cy="1509.2" r="6.75"/><circle cx="425.0" cy="1505.8" r="6.75"/><circle cx="427.6" cy="1505.5" r="6.75"/><circle cx="430.1" cy="1501.1" r="6.75"/><circle cx="432.7" cy="1495.7" r="6.75"/><circle cx="435.3" cy="1494.5" r="6.75"/><circle cx="437.9" cy="1503.7" r="6.75"/><circle cx="440.5" cy="1498.1" r="6.75"/><circle cx="443.0" cy="1492.2" r="6.75"/><circle cx="445.6" cy="1486.3" r="6.75"/><circle cx="448.2" cy="1480.8" r="6.75"/><circle cx="450.8" cy="1485.9" r="6.75"/><circle cx="453.4" cy="1485.9" r="6.75"/><circle cx="456.0" cy="1491.1" r="6.75"/><circle cx="458.5" cy="1489.6" r="6.75"/><circle cx="461.1" cy="1483.7" r="6.75"/><circle cx="463.7" cy="1484.1" r="6.75"/><circle cx="466.3" cy="1481.0" r="6.75"/><circle cx="468.9" cy="1477.8" r="6.75"/><circle cx="471.4" cy="1478.9" r="6.75"/><circle cx="474.0" cy="1476.1" r="6.75"/><circle cx="476.6" cy="1476.8" r="6.75"/><circle cx="479.2" cy="1476.3" r="6.75"/><circle cx="481.8" cy="1471.7" r="6.75"/><circle cx="484.3" cy="1474.1" r="6.75"/><circle cx="486.9" cy="1473.4" r="6.75"/><circle cx="489.5" cy="1467.2" r="6.75"/><circle cx="492.1" cy="1455.2" r="6.75"/><circle cx="494.7" cy="1457.7" r="6.75"/><circle cx="497.3" cy="1463.7" r="6.75"/><circle cx="499.8" cy="1471.8" r="6.75"/><circle cx="502.4" cy="1469.6" r="6.75"/><circle cx="505.0" cy="1455.6" r="6.75"/><circle cx="507.6" cy="1455.9" r="6.75"/><circle cx="510.2" cy="1454.1" r="6.75"/><circle cx="512.7" cy="1444.8" r="6.75"/><circle cx="515.3" cy="1448.6" r="6.75"/><circle cx="517.9" cy="1440.7" r="6.75"/><circle cx="520.5" cy="1444.1" r="6.75"/><circle cx="523.1" cy="1445.3" r="6.75"/><circle cx="525.6" cy="1443.1" r="6.75"/><circle cx="528.2" cy="1434.3" r="6.75"/><circle cx="530.8" cy="1446.0" r="6.75"/><circle cx="533.4" cy="1441.6" r="6.75"/><circle cx="536.0" cy="1443.7" r="6.75"/><circle cx="538.6" cy="1437.5" r="6.75"/><circle cx="541.1" cy="1438.2" r="6.75"/><circle cx="543.7" cy="1446.8" r="6.75"/><circle cx="546.3" cy="1438.7" r="6.75"/><circle cx="548.9" cy="1437.4" r="6.75"/><circle cx="551.5" cy="1436.0" r="6.75"/><circle cx="554.0" cy="1439.4" r="6.75"/><circle cx="556.6" cy="1429.8" r="6.75"/><circle cx="559.2" cy="1434.2" r="6.75"/><circle cx="561.8" cy="1431.4" r="6.75"/><circle cx="564.4" cy="1442.1" r="6.75"/><circle cx="566.9" cy="1437.0" r="6.75"/><circle cx="569.5" cy="1433.7" r="6.75"/><circle cx="572.1" cy="1432.6" r="6.75"/><circle cx="574.7" cy="1429.3" r="6.75"/><circle cx="577.3" cy="1438.0" r="6.75"/><circle cx="579.9" cy="1426.9" r="6.75"/><circle cx="582.4" cy="1434.3" r="6.75"/><circle cx="585.0" cy="1430.9" r="6.75"/><circle cx="587.6" cy="1434.0" r="6.75"/><circle cx="590.2" cy="1438.6" r="6.75"/><circle cx="592.8" cy="1452.5" r="6.75"/><circle cx="595.3" cy="1444.6" r="6.75"/><circle cx="597.9" cy="1442.2" r="6.75"/><circle cx="600.5" cy="1448.0" r="6.75"/><circle cx="603.1" cy="1449.8" r="6.75"/><circle cx="605.7" cy="1447.2" r="6.75"/><circle cx="608.2" cy="1450.7" r="6.75"/><circle cx="610.8" cy="1455.8" r="6.75"/><circle cx="613.4" cy="1449.9" r="6.75"/><circle cx="616.0" cy="1463.9" r="6.75"/><circle cx="618.6" cy="1461.1" r="6.75"/><circle cx="621.2" cy="1459.6" r="6.75"/><circle cx="623.7" cy="1462.0" r="6.75"/><circle cx="626.3" cy="1460.2" r="6.75"/><circle cx="628.9" cy="1462.4" r="6.75"/><circle cx="631.5" cy="1468.5" r="6.75"/><circle cx="634.1" cy="1466.7" r="6.75"/><circle cx="636.6" cy="1461.1" r="6.75"/><circle cx="639.2" cy="1463.6" r="6.75"/><circle cx="641.8" cy="1470.8" r="6.75"/><circle cx="644.4" cy="1458.4" r="6.75"/><circle cx="647.0" cy="1467.7" r="6.75"/><circle cx="649.5" cy="1472.4" r="6.75"/><circle cx="652.1" cy="1467.2" r="6.75"/><circle cx="654.7" cy="1466.1" r="6.75"/><circle cx="657.3" cy="1464.0" r="6.75"/><circle cx="659.9" cy="1466.8" r="6.75"/><circle cx="662.5" cy="1459.1" r="6.75"/><circle cx="665.0" cy="1455.3" r="6.75"/><circle cx="667.6" cy="1457.1" r="6.75"/><circle cx="670.2" cy="1462.4" r="6.75"/><circle cx="672.8" cy="1458.0" r="6.75"/><circle cx="675.4" cy="1462.4" r="6.75"/><circle cx="677.9" cy="1461.4" r="6.75"/><circle cx="680.5" cy="1451.3" r="6.75"/><circle cx="683.1" cy="1452.8" r="6.75"/><circle cx="685.7" cy="1450.3" r="6.75"/><circle cx="688.3" cy="1448.9" r="6.75"/><circle cx="690.8" cy="1449.7" r="6.75"/><circle cx="693.4" cy="1445.1" r="6.75"/><circle cx="696.0" cy="1429.1" r="6.75"/><circle cx="698.6" cy="1442.3" r="6.75"/><circle cx="701.2" cy="1425.6" r="6.75"/><circle cx="703.8" cy="1426.0" r="6.75"/><circle cx="706.3" cy="1416.8" r="6.75"/><circle cx="708.9" cy="1414.3" r="6.75"/><circle cx="711.5" cy="1407.2" r="6.75"/><circle cx="714.1" cy="1408.3" r="6.75"/><circle cx="716.7" cy="1398.6" r="6.75"/><circle cx="719.2" cy="1398.6" r="6.75"/><circle cx="721.8" cy="1390.6" r="6.75"/><circle cx="724.4" cy="1394.8" r="6.75"/><circle cx="727.0" cy="1397.1" r="6.75"/><circle cx="729.6" cy="1397.5" r="6.75"/><circle cx="732.1" cy="1401.7" r="6.75"/><circle cx="734.7" cy="1403.4" r="6.75"/><circle cx="737.3" cy="1404.3" r="6.75"/><circle cx="739.9" cy="1406.5" r="6.75"/><circle cx="742.5" cy="1406.7" r="6.75"/><circle cx="745.1" cy="1415.4" r="6.75"/><circle cx="747.6" cy="1416.8" r="6.75"/><circle cx="750.2" cy="1422.3" r="6.75"/><circle cx="752.8" cy="1428.8" r="6.75"/><circle cx="755.4" cy="1431.4" r="6.75"/><circle cx="758.0" cy="1439.0" r="6.75"/><circle cx="760.5" cy="1446.9" r="6.75"/><circle cx="763.1" cy="1460.9" r="6.75"/><circle cx="765.7" cy="1473.4" r="6.75"/><circle cx="768.3" cy="1472.2" r="6.75"/><circle cx="770.9" cy="1472.6" r="6.75"/><circle cx="773.4" cy="1482.5" r="6.75"/><circle cx="776.0" cy="1489.7" r="6.75"/><circle cx="778.6" cy="1483.2" r="6.75"/><circle cx="781.2" cy="1502.5" r="6.75"/><circle cx="783.8" cy="1502.8" r="6.75"/><circle cx="786.4" cy="1508.5" r="6.75"/><circle cx="788.9" cy="1516.4" r="6.75"/><circle cx="791.5" cy="1522.1" r="6.75"/><circle cx="794.1" cy="1522.6" r="6.75"/><circle cx="796.7" cy="1523.4" r="6.75"/><circle cx="799.3" cy="1525.5" r="6.75"/><circle cx="801.8" cy="1531.8" r="6.75"/><circle cx="804.4" cy="1525.4" r="6.75"/><circle cx="807.0" cy="1526.7" r="6.75"/><circle cx="809.6" cy="1521.6" r="6.75"/><circle cx="812.2" cy="1535.5" r="6.75"/><circle cx="814.7" cy="1533.9" r="6.75"/><circle cx="817.3" cy="1529.6" r="6.75"/><circle cx="819.9" cy="1530.5" r="6.75"/><circle cx="822.5" cy="1533.4" r="6.75"/><circle cx="825.1" cy="1531.8" r="6.75"/><circle cx="827.7" cy="1530.2" r="6.75"/><circle cx="830.2" cy="1531.0" r="6.75"/><circle cx="832.8" cy="1532.5" r="6.75"/><circle cx="835.4" cy="1530.2" r="6.75"/><circle cx="838.0" cy="1531.2" r="6.75"/><circle cx="840.6" cy="1529.2" r="6.75"/><circle cx="843.1" cy="1527.0" r="6.75"/><circle cx="845.7" cy="1530.2" r="6.75"/><circle cx="848.3" cy="1530.0" r="6.75"/><circle cx="850.9" cy="1516.0" r="6.75"/><circle cx="853.5" cy="1528.6" r="6.75"/><circle cx="856.0" cy="1525.6" r="6.75"/><circle cx="858.6" cy="1523.3" r="6.75"/><circle cx="861.2" cy="1529.2" r="6.75"/><circle cx="863.8" cy="1527.2" r="6.75"/><circle cx="866.4" cy="1528.0" r="6.75"/><circle cx="869.0" cy="1523.7" r="6.75"/><circle cx="871.5" cy="1531.7" r="6.75"/><circle cx="874.1" cy="1526.7" r="6.75"/><circle cx="876.7" cy="1522.4" r="6.75"/><circle cx="879.3" cy="1538.9" r="6.75"/><circle cx="881.9" cy="1520.7" r="6.75"/><circle cx="884.4" cy="1528.6" r="6.75"/><circle cx="887.0" cy="1521.6" r="6.75"/><circle cx="889.6" cy="1520.0" r="6.75"/><circle cx="892.2" cy="1519.0" r="6.75"/><circle cx="894.8" cy="1517.4" r="6.75"/><circle cx="897.3" cy="1517.1" r="6.75"/><circle cx="899.9" cy="1520.9" r="6.75"/><circle cx="902.5" cy="1518.6" r="6.75"/><circle cx="905.1" cy="1512.6" r="6.75"/><circle cx="907.7" cy="1517.3" r="6.75"/><circle cx="910.3" cy="1510.1" r="6.75"/><circle cx="912.8" cy="1515.1" r="6.75"/><circle cx="915.4" cy="1510.2" r="6.75"/><circle cx="918.0" cy="1509.3" r="6.75"/><circle cx="920.6" cy="1512.1" r="6.75"/><circle cx="923.2" cy="1499.7" r="6.75"/><circle cx="925.7" cy="1512.2" r="6.75"/><circle cx="928.3" cy="1514.3" r="6.75"/><circle cx="930.9" cy="1506.3" r="6.75"/><circle cx="933.5" cy="1503.3" r="6.75"/><circle cx="936.1" cy="1497.8" r="6.75"/><circle cx="938.6" cy="1502.4" r="6.75"/><circle cx="941.2" cy="1496.6" r="6.75"/><circle cx="943.8" cy="1494.7" r="6.75"/><circle cx="946.4" cy="1491.2" r="6.75"/><circle cx="949.0" cy="1496.0" r="6.75"/><circle cx="951.5" cy="1491.8" r="6.75"/><circle cx="954.1" cy="1482.2" r="6.75"/><circle cx="956.7" cy="1493.6" r="6.75"/><circle cx="959.3" cy="1477.2" r="6.75"/><circle cx="961.9" cy="1481.1" r="6.75"/><circle cx="964.5" cy="1472.6" r="6.75"/><circle cx="967.0" cy="1471.9" r="6.75"/><circle cx="969.6" cy="1470.4" r="6.75"/><circle cx="972.2" cy="1464.5" r="6.75"/><circle cx="974.8" cy="1457.7" r="6.75"/><circle cx="977.4" cy="1456.6" r="6.75"/><circle cx="979.9" cy="1450.5" r="6.75"/><circle cx="982.5" cy="1454.8" r="6.75"/><circle cx="985.1" cy="1449.4" r="6.75"/><circle cx="987.7" cy="1437.8" r="6.75"/><circle cx="990.3" cy="1435.0" r="6.75"/><circle cx="992.8" cy="1440.8" r="6.75"/><circle cx="995.4" cy="1433.1" r="6.75"/><circle cx="998.0" cy="1427.1" r="6.75"/><circle cx="1000.6" cy="1427.6" r="6.75"/><circle cx="1003.2" cy="1422.7" r="6.75"/><circle cx="1005.8" cy="1421.0" r="6.75"/><circle cx="1008.3" cy="1414.7" r="6.75"/><circle cx="1010.9" cy="1419.9" r="6.75"/><circle cx="1013.5" cy="1414.2" r="6.75"/><circle cx="1016.1" cy="1408.6" r="6.75"/><circle cx="1018.7" cy="1412.4" r="6.75"/><circle cx="1021.2" cy="1410.3" r="6.75"/><circle cx="1023.8" cy="1412.6" r="6.75"/><circle cx="1026.4" cy="1412.4" r="6.75"/><circle cx="1029.0" cy="1410.8" r="6.75"/><circle cx="1031.6" cy="1407.5" r="6.75"/><circle cx="1034.1" cy="1412.4" r="6.75"/><circle cx="1036.7" cy="1411.3" r="6.75"/><circle cx="1039.3" cy="1419.8" r="6.75"/><circle cx="1041.9" cy="1412.0" r="6.75"/><circle cx="1044.5" cy="1416.8" r="6.75"/><circle cx="1047.1" cy="1419.0" r="6.75"/><circle cx="1049.6" cy="1421.6" r="6.75"/><circle cx="1052.2" cy="1429.4" r="6.75"/><circle cx="1054.8" cy="1432.7" r="6.75"/><circle cx="1057.4" cy="1435.7" r="6.75"/><circle cx="1060.0" cy="1442.6" r="6.75"/><circle cx="1062.5" cy="1440.3" r="6.75"/><circle cx="1065.1" cy="1446.8" r="6.75"/><circle cx="1067.7" cy="1448.7" r="6.75"/><circle cx="1070.3" cy="1451.9" r="6.75"/><circle cx="1072.9" cy="1449.1" r="6.75"/><circle cx="1075.4" cy="1451.2" r="6.75"/><circle cx="1078.0" cy="1460.5" r="6.75"/><circle cx="1080.6" cy="1457.4" r="6.75"/><circle cx="1083.2" cy="1476.7" r="6.75"/><circle cx="1085.8" cy="1470.8" r="6.75"/><circle cx="1088.4" cy="1465.7" r="6.75"/><circle cx="1090.9" cy="1469.4" r="6.75"/><circle cx="1093.5" cy="1467.5" r="6.75"/><circle cx="1096.1" cy="1470.1" r="6.75"/><circle cx="1098.7" cy="1469.7" r="6.75"/><circle cx="1101.3" cy="1462.8" r="6.75"/><circle cx="1103.8" cy="1459.9" r="6.75"/><circle cx="1106.4" cy="1459.4" r="6.75"/><circle cx="1109.0" cy="1450.9" r="6.75"/><circle cx="1111.6" cy="1452.2" r="6.75"/><circle cx="1114.2" cy="1458.9" r="6.75"/><circle cx="1116.7" cy="1443.4" r="6.75"/><circle cx="1119.3" cy="1442.6" r="6.75"/><circle cx="1121.9" cy="1429.7" r="6.75"/><circle cx="1124.5" cy="1422.9" r="6.75"/><circle cx="1127.1" cy="1421.8" r="6.75"/><circle cx="1129.7" cy="1422.5" r="6.75"/><circle cx="1132.2" cy="1415.5" r="6.75"/><circle cx="1134.8" cy="1408.2" r="6.75"/><circle cx="1137.4" cy="1408.9" r="6.75"/><circle cx="1140.0" cy="1398.8" r="6.75"/><circle cx="1142.6" cy="1390.0" r="6.75"/><circle cx="1145.1" cy="1377.3" r="6.75"/><circle cx="1147.7" cy="1367.0" r="6.75"/><circle cx="1150.3" cy="1353.3" r="6.75"/><circle cx="1152.9" cy="1341.5" r="6.75"/><circle cx="1155.5" cy="1329.5" r="6.75"/><circle cx="1158.0" cy="1314.0" r="6.75"/><circle cx="1160.6" cy="1303.0" r="6.75"/><circle cx="1163.2" cy="1293.2" r="6.75"/><circle cx="1165.8" cy="1277.4" r="6.75"/><circle cx="1168.4" cy="1274.3" r="6.75"/><circle cx="1171.0" cy="1252.9" r="6.75"/><circle cx="1173.5" cy="1239.9" r="6.75"/><circle cx="1176.1" cy="1235.5" r="6.75"/><circle cx="1178.7" cy="1234.9" r="6.75"/><circle cx="1181.3" cy="1227.3" r="6.75"/><circle cx="1183.9" cy="1238.8" r="6.75"/><circle cx="1186.4" cy="1232.9" r="6.75"/><circle cx="1189.0" cy="1243.5" r="6.75"/><circle cx="1191.6" cy="1247.0" r="6.75"/><circle cx="1194.2" cy="1259.7" r="6.75"/><circle cx="1196.8" cy="1262.7" r="6.75"/><circle cx="1199.3" cy="1269.8" r="6.75"/><circle cx="1201.9" cy="1283.9" r="6.75"/><circle cx="1204.5" cy="1301.0" r="6.75"/><circle cx="1207.1" cy="1317.2" r="6.75"/><circle cx="1209.7" cy="1337.9" r="6.75"/><circle cx="1212.3" cy="1353.7" r="6.75"/><circle cx="1214.8" cy="1375.0" r="6.75"/><circle cx="1217.4" cy="1390.1" r="6.75"/><circle cx="1220.0" cy="1410.7" r="6.75"/><circle cx="1222.6" cy="1425.7" r="6.75"/><circle cx="1225.2" cy="1455.4" r="6.75"/><circle cx="1227.7" cy="1454.4" r="6.75"/><circle cx="1230.3" cy="1471.6" r="6.75"/><circle cx="1232.9" cy="1480.1" r="6.75"/><circle cx="1235.5" cy="1488.2" r="6.75"/><circle cx="1238.1" cy="1503.7" r="6.75"/><circle cx="1240.6" cy="1511.3" r="6.75"/><circle cx="1243.2" cy="1520.5" r="6.75"/><circle cx="1245.8" cy="1522.6" r="6.75"/><circle cx="1248.4" cy="1531.7" r="6.75"/><circle cx="1251.0" cy="1538.8" r="6.75"/><circle cx="1253.6" cy="1540.5" r="6.75"/><circle cx="1256.1" cy="1552.4" r="6.75"/><circle cx="1258.7" cy="1540.2" r="6.75"/><circle cx="1261.3" cy="1542.9" r="6.75"/><circle cx="1263.9" cy="1538.9" r="6.75"/><circle cx="1266.5" cy="1543.1" r="6.75"/><circle cx="1269.0" cy="1547.7" r="6.75"/><circle cx="1271.6" cy="1551.8" r="6.75"/><circle cx="1274.2" cy="1555.8" r="6.75"/><circle cx="1276.8" cy="1559.3" r="6.75"/><circle cx="1279.4" cy="1553.2" r="6.75"/><circle cx="1281.9" cy="1562.4" r="6.75"/><circle cx="1284.5" cy="1562.3" r="6.75"/><circle cx="1287.1" cy="1560.2" r="6.75"/><circle cx="1289.7" cy="1565.4" r="6.75"/><circle cx="1292.3" cy="1571.1" r="6.75"/><circle cx="1294.9" cy="1563.0" r="6.75"/><circle cx="1297.4" cy="1565.1" r="6.75"/><circle cx="1300.0" cy="1568.9" r="6.75"/><circle cx="1302.6" cy="1569.8" r="6.75"/><circle cx="1305.2" cy="1576.4" r="6.75"/><circle cx="1307.8" cy="1574.6" r="6.75"/><circle cx="1310.3" cy="1576.4" r="6.75"/><circle cx="1312.9" cy="1581.8" r="6.75"/><circle cx="1315.5" cy="1577.7" r="6.75"/><circle cx="1318.1" cy="1588.4" r="6.75"/><circle cx="1320.7" cy="1592.0" r="6.75"/><circle cx="1323.2" cy="1590.6" r="6.75"/><circle cx="1325.8" cy="1583.3" r="6.75"/><circle cx="1328.4" cy="1598.7" r="6.75"/><circle cx="1331.0" cy="1598.0" r="6.75"/><circle cx="1333.6" cy="1590.6" r="6.75"/><circle cx="1336.2" cy="1600.4" r="6.75"/><circle cx="1338.7" cy="1594.9" r="6.75"/><circle cx="1341.3" cy="1591.8" r="6.75"/><circle cx="1343.9" cy="1592.2" r="6.75"/><circle cx="1346.5" cy="1595.3" r="6.75"/><circle cx="1349.1" cy="1589.6" r="6.75"/><circle cx="1351.6" cy="1596.4" r="6.75"/><circle cx="1354.2" cy="1590.7" r="6.75"/><circle cx="1356.8" cy="1602.4" r="6.75"/><circle cx="1359.4" cy="1598.4" r="6.75"/><circle cx="1362.0" cy="1596.7" r="6.75"/><circle cx="1364.5" cy="1598.1" r="6.75"/><circle cx="1367.1" cy="1594.0" r="6.75"/><circle cx="1369.7" cy="1592.8" r="6.75"/><circle cx="1372.3" cy="1599.5" r="6.75"/><circle cx="1374.9" cy="1595.6" r="6.75"/><circle cx="1377.5" cy="1593.2" r="6.75"/><circle cx="1380.0" cy="1594.5" r="6.75"/><circle cx="1382.6" cy="1594.1" r="6.75"/><circle cx="1385.2" cy="1599.4" r="6.75"/><circle cx="1387.8" cy="1599.1" r="6.75"/><circle cx="1390.4" cy="1602.3" r="6.75"/><circle cx="1392.9" cy="1593.3" r="6.75"/><circle cx="1395.5" cy="1597.7" r="6.75"/><circle cx="1398.1" cy="1597.3" r="6.75"/><circle cx="1400.7" cy="1590.3" r="6.75"/><circle cx="1403.3" cy="1597.7" r="6.75"/><circle cx="1405.8" cy="1600.2" r="6.75"/><circle cx="1408.4" cy="1587.5" r="6.75"/><circle cx="1411.0" cy="1593.8" r="6.75"/><circle cx="1413.6" cy="1606.7" r="6.75"/><circle cx="1416.2" cy="1593.7" r="6.75"/><circle cx="1418.8" cy="1604.0" r="6.75"/><circle cx="1421.3" cy="1599.9" r="6.75"/><circle cx="1423.9" cy="1600.4" r="6.75"/><circle cx="1426.5" cy="1602.8" r="6.75"/><circle cx="1429.1" cy="1595.5" r="6.75"/><circle cx="1431.7" cy="1604.3" r="6.75"/><circle cx="1434.2" cy="1595.2" r="6.75"/><circle cx="1436.8" cy="1596.3" r="6.75"/><circle cx="1439.4" cy="1603.7" r="6.75"/></g>
<g fill="none" stroke-linejoin="miter" stroke-miterlimit="6" stroke-linecap="round"><path d="M381.1 1516.0L383.7 1516.0L386.3 1516.0L388.8 1516.0L391.4 1516.1L394.0 1516.1L396.6 1516.1L399.2 1516.1L401.7 1516.1L404.3 1516.1L406.9 1516.1L409.5 1516.1L412.1 1516.2L414.7 1516.2L417.2 1516.2L419.8 1516.2L422.4 1516.2L425.0 1516.2L427.6 1516.3L430.1 1516.3L432.7 1516.3L435.3 1516.3L437.9 1516.3L440.5 1516.3L443.0 1516.4L445.6 1516.4L448.2 1516.4L450.8 1516.4L453.4 1516.5L456.0 1516.5L458.5 1516.5L461.1 1516.5L463.7 1516.6L466.3 1516.6L468.9 1516.7L471.4 1516.7L474.0 1516.7L476.6 1516.8L479.2 1516.8L481.8 1516.9L484.3 1516.9L486.9 1517.0L489.5 1517.1L492.1 1517.1L494.7 1517.2L497.3 1517.3L499.8 1517.4L502.4 1517.5L505.0 1517.6L507.6 1517.7L510.2 1517.8L512.7 1518.0L515.3 1518.1L517.9 1518.3L520.5 1518.4L523.1 1518.6L525.6 1518.8L528.2 1519.0L530.8 1519.2L533.4 1519.4L536.0 1519.7L538.6 1519.9L541.1 1520.2L543.7 1520.4L546.3 1520.7L548.9 1521.0L551.5 1521.3L554.0 1521.6L556.6 1521.9L559.2 1522.2L561.8 1522.5L564.4 1522.8L566.9 1523.1L569.5 1523.4L572.1 1523.7L574.7 1524.0L577.3 1524.2L579.9 1524.5L582.4 1524.8L585.0 1525.0L587.6 1525.3L590.2 1525.5L592.8 1525.7L595.3 1525.9L597.9 1526.1L600.5 1526.3L603.1 1526.4L605.7 1526.6L608.2 1526.8L610.8 1526.9L613.4 1527.0L616.0 1527.2L618.6 1527.3L621.2 1527.4L623.7 1527.5L626.3 1527.7L628.9 1527.8L631.5 1527.9L634.1 1528.0L636.6 1528.1L639.2 1528.2L641.8 1528.4L644.4 1528.5L647.0 1528.6L649.5 1528.8L652.1 1528.9L654.7 1529.1L657.3 1529.2L659.9 1529.4L662.5 1529.6L665.0 1529.8L667.6 1530.0L670.2 1530.2L672.8 1530.4L675.4 1530.6L677.9 1530.8L680.5 1531.1L683.1 1531.3L685.7 1531.6L688.3 1531.8L690.8 1532.1L693.4 1532.4L696.0 1532.6L698.6 1532.9L701.2 1533.2L703.8 1533.5L706.3 1533.8L708.9 1534.1L711.5 1534.4L714.1 1534.8L716.7 1535.1L719.2 1535.5L721.8 1535.9L724.4 1536.3L727.0 1536.7L729.6 1537.1L732.1 1537.5L734.7 1537.9L737.3 1538.4L739.9 1538.8L742.5 1539.2L745.1 1539.6L747.6 1540.0L750.2 1540.3L752.8 1540.7L755.4 1541.0L758.0 1541.3L760.5 1541.5L763.1 1541.8L765.7 1542.0L768.3 1542.1L770.9 1542.3L773.4 1542.4L776.0 1542.6L778.6 1542.7L781.2 1542.8L783.8 1542.9L786.4 1543.0L788.9 1543.0L791.5 1543.1L794.1 1543.1L796.7 1543.2L799.3 1543.2L801.8 1543.3L804.4 1543.3L807.0 1543.4L809.6 1543.4L812.2 1543.5L814.7 1543.5L817.3 1543.5L819.9 1543.6L822.5 1543.6L825.1 1543.6L827.7 1543.7L830.2 1543.7L832.8 1543.7L835.4 1543.8L838.0 1543.8L840.6 1543.8L843.1 1543.8L845.7 1543.9L848.3 1543.9L850.9 1543.9L853.5 1544.0L856.0 1544.0L858.6 1544.0L861.2 1544.1L863.8 1544.1L866.4 1544.1L869.0 1544.1L871.5 1544.2L874.1 1544.2L876.7 1544.2L879.3 1544.3L881.9 1544.3L884.4 1544.3L887.0 1544.3L889.6 1544.4L892.2 1544.4L894.8 1544.4L897.3 1544.5L899.9 1544.5L902.5 1544.5L905.1 1544.6L907.7 1544.6L910.3 1544.7L912.8 1544.7L915.4 1544.7L918.0 1544.8L920.6 1544.8L923.2 1544.9L925.7 1544.9L928.3 1545.0L930.9 1545.0L933.5 1545.1L936.1 1545.1L938.6 1545.2L941.2 1545.3L943.8 1545.3L946.4 1545.4L949.0 1545.5L951.5 1545.6L954.1 1545.7L956.7 1545.8L959.3 1545.9L961.9 1546.0L964.5 1546.1L967.0 1546.3L969.6 1546.4L972.2 1546.6L974.8 1546.8L977.4 1547.0L979.9 1547.2L982.5 1547.4L985.1 1547.7L987.7 1547.9L990.3 1548.2L992.8 1548.5L995.4 1548.8L998.0 1549.1L1000.6 1549.4L1003.2 1549.8L1005.8 1550.2L1008.3 1550.6L1010.9 1551.0L1013.5 1551.4L1016.1 1551.8L1018.7 1552.3L1021.2 1552.7L1023.8 1553.2L1026.4 1553.6L1029.0 1554.1L1031.6 1554.5L1034.1 1555.0L1036.7 1555.4L1039.3 1555.8L1041.9 1556.3L1044.5 1556.7L1047.1 1557.1L1049.6 1557.4L1052.2 1557.8L1054.8 1558.1L1057.4 1558.4L1060.0 1558.7L1062.5 1559.0L1065.1 1559.3L1067.7 1559.5L1070.3 1559.7L1072.9 1560.0L1075.4 1560.2L1078.0 1560.4L1080.6 1560.6L1083.2 1560.7L1085.8 1560.9L1088.4 1561.1L1090.9 1561.3L1093.5 1561.4L1096.1 1561.6L1098.7 1561.8L1101.3 1562.0L1103.8 1562.2L1106.4 1562.4L1109.0 1562.6L1111.6 1562.8L1114.2 1563.1L1116.7 1563.4L1119.3 1563.7L1121.9 1564.0L1124.5 1564.3L1127.1 1564.7L1129.7 1565.1L1132.2 1565.5L1134.8 1565.9L1137.4 1566.4L1140.0 1566.9L1142.6 1567.5L1145.1 1568.1L1147.7 1568.7L1150.3 1569.3L1152.9 1570.0L1155.5 1570.7L1158.0 1571.4L1160.6 1572.2L1163.2 1573.0L1165.8 1573.9L1168.4 1574.8L1171.0 1575.7L1173.5 1576.6L1176.1 1577.6L1178.7 1578.6L1181.3 1579.7L1183.9 1580.7L1186.4 1581.8L1189.0 1582.9L1191.6 1584.0L1194.2 1585.0L1196.8 1586.0L1199.3 1587.0L1201.9 1588.0L1204.5 1588.9L1207.1 1589.7L1209.7 1590.5L1212.3 1591.2L1214.8 1591.9L1217.4 1592.5L1220.0 1593.0L1222.6 1593.5L1225.2 1594.0L1227.7 1594.3L1230.3 1594.7L1232.9 1595.0L1235.5 1595.3L1238.1 1595.5L1240.6 1595.7L1243.2 1595.9L1245.8 1596.1L1248.4 1596.2L1251.0 1596.4L1253.6 1596.5L1256.1 1596.6L1258.7 1596.7L1261.3 1596.8L1263.9 1596.9L1266.5 1597.0L1269.0 1597.0L1271.6 1597.1L1274.2 1597.2L1276.8 1597.2L1279.4 1597.3L1281.9 1597.3L1284.5 1597.4L1287.1 1597.4L1289.7 1597.5L1292.3 1597.5L1294.9 1597.6L1297.4 1597.6L1300.0 1597.6L1302.6 1597.7L1305.2 1597.7L1307.8 1597.7L1310.3 1597.8L1312.9 1597.8L1315.5 1597.8L1318.1 1597.9L1320.7 1597.9L1323.2 1597.9L1325.8 1598.0L1328.4 1598.0L1331.0 1598.0L1333.6 1598.0L1336.2 1598.1L1338.7 1598.1L1341.3 1598.1L1343.9 1598.1L1346.5 1598.2L1349.1 1598.2L1351.6 1598.2L1354.2 1598.2L1356.8 1598.2L1359.4 1598.3L1362.0 1598.3L1364.5 1598.3L1367.1 1598.3L1369.7 1598.3L1372.3 1598.3L1374.9 1598.4L1377.5 1598.4L1380.0 1598.4L1382.6 1598.4L1385.2 1598.4L1387.8 1598.4L1390.4 1598.5L1392.9 1598.5L1395.5 1598.5L1398.1 1598.5L1400.7 1598.5L1403.3 1598.5L1405.8 1598.5L1408.4 1598.5L1411.0 1598.6L1413.6 1598.6L1416.2 1598.6L1418.8 1598.6L1421.3 1598.6L1423.9 1598.6L1426.5 1598.6L1429.1 1598.6L1431.7 1598.6L1434.2 1598.7L1436.8 1598.7L1439.4 1598.7" stroke="#0000ff" stroke-width="4.8"/><path d="M381.1 1506.9L383.7 1506.7L386.3 1506.6L388.8 1506.4L391.4 1506.2L394.0 1506.0L396.6 1505.8L399.2 1505.6L401.7 1505.4L404.3 1505.2L406.9 1505.0L409.5 1504.7L412.1 1504.5L414.7 1504.2L417.2 1504.0L419.8 1503.7L422.4 1503.4L425.0 1503.1L427.6 1502.7L430.1 1502.4L432.7 1502.0L435.3 1501.6L437.9 1501.2L440.5 1500.8L443.0 1500.4L445.6 1499.9L448.2 1499.4L450.8 1498.8L453.4 1498.3L456.0 1497.7L458.5 1497.1L461.1 1496.4L463.7 1495.7L466.3 1494.9L468.9 1494.1L471.4 1493.2L474.0 1492.3L476.6 1491.4L479.2 1490.3L481.8 1489.3L484.3 1488.1L486.9 1486.9L489.5 1485.6L492.1 1484.2L494.7 1482.7L497.3 1481.1L499.8 1479.3L502.4 1477.5L505.0 1475.5L507.6 1473.4L510.2 1471.2L512.7 1468.8L515.3 1466.2L517.9 1463.5L520.5 1460.6L523.1 1457.6L525.6 1454.5L528.2 1451.2L530.8 1447.9L533.4 1444.5L536.0 1441.0L538.6 1437.6L541.1 1434.3L543.7 1431.2L546.3 1428.3L548.9 1425.7L551.5 1423.6L554.0 1422.0L556.6 1420.9L559.2 1420.5L561.8 1420.6L564.4 1421.5L566.9 1423.0L569.5 1425.1L572.1 1427.6L574.7 1430.6L577.3 1433.9L579.9 1437.4L582.4 1441.0L585.0 1444.6L587.6 1448.2L590.2 1451.6L592.8 1455.0L595.3 1458.1L597.9 1461.1L600.5 1463.8L603.1 1466.4L605.7 1468.7L608.2 1470.7L610.8 1472.6L613.4 1474.2L616.0 1475.6L618.6 1476.8L621.2 1477.8L623.7 1478.5L626.3 1479.1L628.9 1479.4L631.5 1479.5L634.1 1479.4L636.6 1479.1L639.2 1478.6L641.8 1477.9L644.4 1476.9L647.0 1475.8L649.5 1474.3L652.1 1472.7L654.7 1470.9L657.3 1468.8L659.9 1466.5L662.5 1464.1L665.0 1461.5L667.6 1458.8L670.2 1456.0L672.8 1453.3L675.4 1450.6L677.9 1448.1L680.5 1445.9L683.1 1443.8L685.7 1442.1L688.3 1440.6L690.8 1439.3L693.4 1438.0L696.0 1436.8L698.6 1435.4L701.2 1433.8L703.8 1431.8L706.3 1429.3L708.9 1426.4L711.5 1422.9L714.1 1419.1L716.7 1414.9L719.2 1410.4L721.8 1406.0L724.4 1401.7L727.0 1397.9L729.6 1394.9L732.1 1392.8L734.7 1392.1L737.3 1392.9L739.9 1395.3L742.5 1399.5L745.1 1405.2L747.6 1412.2L750.2 1420.1L752.8 1428.6L755.4 1437.3L758.0 1446.1L760.5 1454.7L763.1 1462.9L765.7 1470.6L768.3 1477.8L770.9 1484.3L773.4 1490.2L776.0 1495.4L778.6 1500.0L781.2 1504.1L783.8 1507.5L786.4 1510.5L788.9 1513.0L791.5 1515.1L794.1 1516.9L796.7 1518.4L799.3 1519.6L801.8 1520.7L804.4 1521.6L807.0 1522.4L809.6 1523.0L812.2 1523.6L814.7 1524.1L817.3 1524.5L819.9 1524.9L822.5 1525.2L825.1 1525.5L827.7 1525.7L830.2 1525.9L832.8 1526.1L835.4 1526.3L838.0 1526.4L840.6 1526.5L843.1 1526.6L845.7 1526.7L848.3 1526.7L850.9 1526.7L853.5 1526.7L856.0 1526.7L858.6 1526.7L861.2 1526.6L863.8 1526.5L866.4 1526.4L869.0 1526.3L871.5 1526.2L874.1 1526.0L876.7 1525.8L879.3 1525.6L881.9 1525.4L884.4 1525.1L887.0 1524.9L889.6 1524.6L892.2 1524.3L894.8 1523.9L897.3 1523.5L899.9 1523.1L902.5 1522.7L905.1 1522.2L907.7 1521.7L910.3 1521.2L912.8 1520.6L915.4 1519.9L918.0 1519.2L920.6 1518.5L923.2 1517.7L925.7 1516.8L928.3 1515.9L930.9 1514.9L933.5 1513.8L936.1 1512.7L938.6 1511.4L941.2 1510.1L943.8 1508.6L946.4 1507.0L949.0 1505.3L951.5 1503.5L954.1 1501.5L956.7 1499.4L959.3 1497.1L961.9 1494.6L964.5 1491.9L967.0 1489.1L969.6 1486.0L972.2 1482.7L974.8 1479.2L977.4 1475.5L979.9 1471.6L982.5 1467.4L985.1 1463.0L987.7 1458.4L990.3 1453.5L992.8 1448.5L995.4 1443.4L998.0 1438.1L1000.6 1432.8L1003.2 1427.6L1005.8 1422.4L1008.3 1417.5L1010.9 1412.9L1013.5 1408.7L1016.1 1405.2L1018.7 1402.3L1021.2 1400.2L1023.8 1399.0L1026.4 1398.6L1029.0 1399.4L1031.6 1401.4L1034.1 1404.4L1036.7 1408.3L1039.3 1412.9L1041.9 1418.1L1044.5 1423.6L1047.1 1429.3L1049.6 1435.0L1052.2 1440.7L1054.8 1446.1L1057.4 1451.3L1060.0 1456.1L1062.5 1460.6L1065.1 1464.7L1067.7 1468.4L1070.3 1471.6L1072.9 1474.4L1075.4 1476.9L1078.0 1478.8L1080.6 1480.4L1083.2 1481.5L1085.8 1482.3L1088.4 1482.5L1090.9 1482.4L1093.5 1481.8L1096.1 1480.8L1098.7 1479.3L1101.3 1477.3L1103.8 1474.9L1106.4 1471.9L1109.0 1468.4L1111.6 1464.3L1114.2 1459.6L1116.7 1454.3L1119.3 1448.3L1121.9 1441.7L1124.5 1434.4L1127.1 1426.4L1129.7 1417.9L1132.2 1408.8L1134.8 1399.3L1137.4 1389.5L1140.0 1379.7L1142.6 1369.9L1145.1 1360.5L1147.7 1351.5L1150.3 1343.1L1152.9 1334.9L1155.5 1327.1L1158.0 1319.2L1160.6 1311.3L1163.2 1303.0L1165.8 1294.3L1168.4 1285.1L1171.0 1275.5L1173.5 1265.6L1176.1 1255.8L1178.7 1246.6L1181.3 1238.7L1183.9 1232.8L1186.4 1229.6L1189.0 1229.8L1191.6 1233.8L1194.2 1241.6L1196.8 1253.0L1199.3 1267.5L1201.9 1284.4L1204.5 1303.0L1207.1 1322.6L1209.7 1342.5L1212.3 1362.2L1214.8 1381.4L1217.4 1399.7L1220.0 1416.9L1222.6 1433.0L1225.2 1447.9L1227.7 1461.5L1230.3 1473.9L1232.9 1485.1L1235.5 1495.2L1238.1 1504.2L1240.6 1512.3L1243.2 1519.4L1245.8 1525.8L1248.4 1531.4L1251.0 1536.4L1253.6 1540.7L1256.1 1544.6L1258.7 1548.1L1261.3 1551.2L1263.9 1554.0L1266.5 1556.4L1269.0 1558.7L1271.6 1560.7L1274.2 1562.6L1276.8 1564.3L1279.4 1565.8L1281.9 1567.3L1284.5 1568.6L1287.1 1569.8L1289.7 1571.0L1292.3 1572.1L1294.9 1573.1L1297.4 1574.1L1300.0 1575.0L1302.6 1575.8L1305.2 1576.6L1307.8 1577.4L1310.3 1578.1L1312.9 1578.8L1315.5 1579.4L1318.1 1580.0L1320.7 1580.6L1323.2 1581.2L1325.8 1581.7L1328.4 1582.2L1331.0 1582.7L1333.6 1583.1L1336.2 1583.6L1338.7 1584.0L1341.3 1584.4L1343.9 1584.8L1346.5 1585.1L1349.1 1585.5L1351.6 1585.8L1354.2 1586.2L1356.8 1586.5L1359.4 1586.8L1362.0 1587.1L1364.5 1587.3L1367.1 1587.6L1369.7 1587.9L1372.3 1588.1L1374.9 1588.3L1377.5 1588.6L1380.0 1588.8L1382.6 1589.0L1385.2 1589.2L1387.8 1589.4L1390.4 1589.6L1392.9 1589.8L1395.5 1590.0L1398.1 1590.2L1400.7 1590.3L1403.3 1590.5L1405.8 1590.7L1408.4 1590.8L1411.0 1591.0L1413.6 1591.1L1416.2 1591.3L1418.8 1591.4L1421.3 1591.5L1423.9 1591.7L1426.5 1591.8L1429.1 1591.9L1431.7 1592.0L1434.2 1592.2L1436.8 1592.3L1439.4 1592.4" stroke="#ff0000" stroke-width="7.4"/><path d="M381.1 1515.2L383.7 1515.2L386.3 1515.2L388.8 1515.2L391.4 1515.2L394.0 1515.3L396.6 1515.3L399.2 1515.3L401.7 1515.3L404.3 1515.3L406.9 1515.3L409.5 1515.3L412.1 1515.3L414.7 1515.3L417.2 1515.3L419.8 1515.3L422.4 1515.3L425.0 1515.4L427.6 1515.4L430.1 1515.4L432.7 1515.4L435.3 1515.4L437.9 1515.4L440.5 1515.4L443.0 1515.4L445.6 1515.5L448.2 1515.5L450.8 1515.5L453.4 1515.5L456.0 1515.5L458.5 1515.5L461.1 1515.6L463.7 1515.6L466.3 1515.6L468.9 1515.6L471.4 1515.7L474.0 1515.7L476.6 1515.7L479.2 1515.8L481.8 1515.8L484.3 1515.9L486.9 1515.9L489.5 1516.0L492.1 1516.0L494.7 1516.1L497.3 1516.2L499.8 1516.2L502.4 1516.3L505.0 1516.4L507.6 1516.5L510.2 1516.6L512.7 1516.7L515.3 1516.9L517.9 1517.0L520.5 1517.2L523.1 1517.3L525.6 1517.5L528.2 1517.7L530.8 1517.9L533.4 1518.1L536.0 1518.3L538.6 1518.5L541.1 1518.7L543.7 1519.0L546.3 1519.2L548.9 1519.5L551.5 1519.7L554.0 1520.0L556.6 1520.3L559.2 1520.5L561.8 1520.8L564.4 1521.1L566.9 1521.4L569.5 1521.6L572.1 1521.9L574.7 1522.1L577.3 1522.3L579.9 1522.6L582.4 1522.8L585.0 1523.0L587.6 1523.2L590.2 1523.3L592.8 1523.5L595.3 1523.6L597.9 1523.7L600.5 1523.9L603.1 1524.0L605.7 1524.1L608.2 1524.1L610.8 1524.2L613.4 1524.2L616.0 1524.3L618.6 1524.3L621.2 1524.3L623.7 1524.3L626.3 1524.3L628.9 1524.3L631.5 1524.3L634.1 1524.3L636.6 1524.2L639.2 1524.2L641.8 1524.1L644.4 1524.0L647.0 1524.0L649.5 1523.8L652.1 1523.7L654.7 1523.6L657.3 1523.4L659.9 1523.2L662.5 1522.9L665.0 1522.6L667.6 1522.2L670.2 1521.7L672.8 1521.0L675.4 1520.2L677.9 1519.2L680.5 1518.0L683.1 1516.6L685.7 1514.8L688.3 1512.7L690.8 1510.2L693.4 1507.2L696.0 1503.8L698.6 1499.8L701.2 1495.4L703.8 1490.4L706.3 1484.9L708.9 1479.0L711.5 1472.6L714.1 1465.9L716.7 1459.0L719.2 1452.1L721.8 1445.2L724.4 1438.8L727.0 1433.0L729.6 1428.0L732.1 1424.3L734.7 1422.0L737.3 1421.3L739.9 1422.4L742.5 1425.4L745.1 1430.0L747.6 1435.9L750.2 1442.9L752.8 1450.5L755.4 1458.5L758.0 1466.5L760.5 1474.4L763.1 1482.0L765.7 1489.2L768.3 1495.8L770.9 1501.9L773.4 1507.4L776.0 1512.2L778.6 1516.4L781.2 1520.1L783.8 1523.3L786.4 1525.9L788.9 1528.2L791.5 1530.1L794.1 1531.7L796.7 1533.0L799.3 1534.1L801.8 1535.0L804.4 1535.8L807.0 1536.4L809.6 1537.0L812.2 1537.4L814.7 1537.9L817.3 1538.2L819.9 1538.6L822.5 1538.9L825.1 1539.1L827.7 1539.4L830.2 1539.6L832.8 1539.8L835.4 1540.0L838.0 1540.2L840.6 1540.4L843.1 1540.5L845.7 1540.7L848.3 1540.8L850.9 1541.0L853.5 1541.1L856.0 1541.2L858.6 1541.4L861.2 1541.5L863.8 1541.6L866.4 1541.7L869.0 1541.8L871.5 1541.9L874.1 1542.0L876.7 1542.1L879.3 1542.2L881.9 1542.2L884.4 1542.3L887.0 1542.4L889.6 1542.5L892.2 1542.6L894.8 1542.6L897.3 1542.7L899.9 1542.8L902.5 1542.9L905.1 1542.9L907.7 1543.0L910.3 1543.1L912.8 1543.1L915.4 1543.2L918.0 1543.3L920.6 1543.4L923.2 1543.4L925.7 1543.5L928.3 1543.6L930.9 1543.6L933.5 1543.7L936.1 1543.8L938.6 1543.9L941.2 1544.0L943.8 1544.1L946.4 1544.2L949.0 1544.3L951.5 1544.4L954.1 1544.5L956.7 1544.6L959.3 1544.7L961.9 1544.9L964.5 1545.0L967.0 1545.2L969.6 1545.3L972.2 1545.5L974.8 1545.7L977.4 1545.9L979.9 1546.1L982.5 1546.4L985.1 1546.6L987.7 1546.9L990.3 1547.2L992.8 1547.5L995.4 1547.8L998.0 1548.1L1000.6 1548.5L1003.2 1548.8L1005.8 1549.2L1008.3 1549.6L1010.9 1550.0L1013.5 1550.5L1016.1 1550.9L1018.7 1551.3L1021.2 1551.8L1023.8 1552.3L1026.4 1552.7L1029.0 1553.2L1031.6 1553.7L1034.1 1554.1L1036.7 1554.6L1039.3 1555.0L1041.9 1555.4L1044.5 1555.8L1047.1 1556.2L1049.6 1556.6L1052.2 1556.9L1054.8 1557.3L1057.4 1557.6L1060.0 1557.9L1062.5 1558.2L1065.1 1558.4L1067.7 1558.7L1070.3 1558.9L1072.9 1559.2L1075.4 1559.4L1078.0 1559.6L1080.6 1559.8L1083.2 1560.0L1085.8 1560.1L1088.4 1560.3L1090.9 1560.5L1093.5 1560.7L1096.1 1560.9L1098.7 1561.0L1101.3 1561.2L1103.8 1561.4L1106.4 1561.6L1109.0 1561.9L1111.6 1562.1L1114.2 1562.4L1116.7 1562.6L1119.3 1562.9L1121.9 1563.2L1124.5 1563.6L1127.1 1564.0L1129.7 1564.3L1132.2 1564.8L1134.8 1565.2L1137.4 1565.7L1140.0 1566.2L1142.6 1566.8L1145.1 1567.4L1147.7 1568.0L1150.3 1568.6L1152.9 1569.3L1155.5 1570.0L1158.0 1570.8L1160.6 1571.5L1163.2 1572.3L1165.8 1573.2L1168.4 1574.1L1171.0 1575.0L1173.5 1575.9L1176.1 1576.9L1178.7 1577.9L1181.3 1579.0L1183.9 1580.1L1186.4 1581.1L1189.0 1582.2L1191.6 1583.3L1194.2 1584.4L1196.8 1585.4L1199.3 1586.4L1201.9 1587.3L1204.5 1588.2L1207.1 1589.1L1209.7 1589.9L1212.3 1590.6L1214.8 1591.2L1217.4 1591.8L1220.0 1592.4L1222.6 1592.9L1225.2 1593.3L1227.7 1593.7L1230.3 1594.1L1232.9 1594.4L1235.5 1594.6L1238.1 1594.9L1240.6 1595.1L1243.2 1595.3L1245.8 1595.5L1248.4 1595.6L1251.0 1595.7L1253.6 1595.9L1256.1 1596.0L1258.7 1596.1L1261.3 1596.2L1263.9 1596.3L1266.5 1596.3L1269.0 1596.4L1271.6 1596.5L1274.2 1596.5L1276.8 1596.6L1279.4 1596.7L1281.9 1596.7L1284.5 1596.8L1287.1 1596.8L1289.7 1596.9L1292.3 1596.9L1294.9 1597.0L1297.4 1597.0L1300.0 1597.0L1302.6 1597.1L1305.2 1597.1L1307.8 1597.1L1310.3 1597.2L1312.9 1597.2L1315.5 1597.2L1318.1 1597.3L1320.7 1597.3L1323.2 1597.3L1325.8 1597.4L1328.4 1597.4L1331.0 1597.4L1333.6 1597.4L1336.2 1597.5L1338.7 1597.5L1341.3 1597.5L1343.9 1597.5L1346.5 1597.6L1349.1 1597.6L1351.6 1597.6L1354.2 1597.6L1356.8 1597.7L1359.4 1597.7L1362.0 1597.7L1364.5 1597.7L1367.1 1597.7L1369.7 1597.7L1372.3 1597.8L1374.9 1597.8L1377.5 1597.8L1380.0 1597.8L1382.6 1597.8L1385.2 1597.8L1387.8 1597.9L1390.4 1597.9L1392.9 1597.9L1395.5 1597.9L1398.1 1597.9L1400.7 1597.9L1403.3 1597.9L1405.8 1598.0L1408.4 1598.0L1411.0 1598.0L1413.6 1598.0L1416.2 1598.0L1418.8 1598.0L1421.3 1598.0L1423.9 1598.0L1426.5 1598.1L1429.1 1598.1L1431.7 1598.1L1434.2 1598.1L1436.8 1598.1L1439.4 1598.1" stroke="#000" stroke-width="5"/><path d="M381.1 1515.3L383.7 1515.3L386.3 1515.3L388.8 1515.3L391.4 1515.3L394.0 1515.3L396.6 1515.3L399.2 1515.3L401.7 1515.3L404.3 1515.3L406.9 1515.4L409.5 1515.4L412.1 1515.4L414.7 1515.4L417.2 1515.4L419.8 1515.4L422.4 1515.4L425.0 1515.5L427.6 1515.5L430.1 1515.5L432.7 1515.5L435.3 1515.5L437.9 1515.5L440.5 1515.6L443.0 1515.6L445.6 1515.6L448.2 1515.6L450.8 1515.6L453.4 1515.7L456.0 1515.7L458.5 1515.7L461.1 1515.7L463.7 1515.8L466.3 1515.8L468.9 1515.8L471.4 1515.9L474.0 1515.9L476.6 1516.0L479.2 1516.0L481.8 1516.0L484.3 1516.1L486.9 1516.2L489.5 1516.2L492.1 1516.3L494.7 1516.4L497.3 1516.5L499.8 1516.5L502.4 1516.6L505.0 1516.7L507.6 1516.9L510.2 1517.0L512.7 1517.1L515.3 1517.3L517.9 1517.4L520.5 1517.6L523.1 1517.7L525.6 1517.9L528.2 1518.1L530.8 1518.3L533.4 1518.6L536.0 1518.8L538.6 1519.0L541.1 1519.3L543.7 1519.5L546.3 1519.8L548.9 1520.1L551.5 1520.4L554.0 1520.7L556.6 1521.0L559.2 1521.3L561.8 1521.6L564.4 1521.9L566.9 1522.2L569.5 1522.5L572.1 1522.8L574.7 1523.0L577.3 1523.3L579.9 1523.6L582.4 1523.8L585.0 1524.1L587.6 1524.3L590.2 1524.5L592.8 1524.7L595.3 1524.9L597.9 1525.1L600.5 1525.3L603.1 1525.5L605.7 1525.6L608.2 1525.8L610.8 1525.9L613.4 1526.0L616.0 1526.2L618.6 1526.3L621.2 1526.4L623.7 1526.5L626.3 1526.6L628.9 1526.8L631.5 1526.9L634.1 1527.0L636.6 1527.1L639.2 1527.2L641.8 1527.3L644.4 1527.4L647.0 1527.6L649.5 1527.7L652.1 1527.8L654.7 1528.0L657.3 1528.1L659.9 1528.3L662.5 1528.5L665.0 1528.7L667.6 1528.9L670.2 1529.1L672.8 1529.3L675.4 1529.5L677.9 1529.7L680.5 1529.9L683.1 1530.2L685.7 1530.4L688.3 1530.7L690.8 1530.9L693.4 1531.2L696.0 1531.5L698.6 1531.7L701.2 1532.0L703.8 1532.3L706.3 1532.6L708.9 1532.9L711.5 1533.2L714.1 1533.6L716.7 1533.9L719.2 1534.3L721.8 1534.6L724.4 1535.0L727.0 1535.4L729.6 1535.8L732.1 1536.2L734.7 1536.6L737.3 1537.1L739.9 1537.5L742.5 1537.9L745.1 1538.3L747.6 1538.6L750.2 1539.0L752.8 1539.3L755.4 1539.6L758.0 1539.9L760.5 1540.1L763.1 1540.4L765.7 1540.5L768.3 1540.7L770.9 1540.9L773.4 1541.0L776.0 1541.1L778.6 1541.2L781.2 1541.3L783.8 1541.4L786.4 1541.4L788.9 1541.5L791.5 1541.6L794.1 1541.6L796.7 1541.6L799.3 1541.7L801.8 1541.7L804.4 1541.7L807.0 1541.8L809.6 1541.8L812.2 1541.8L814.7 1541.8L817.3 1541.9L819.9 1541.9L822.5 1541.9L825.1 1541.9L827.7 1541.9L830.2 1541.9L832.8 1541.9L835.4 1542.0L838.0 1542.0L840.6 1542.0L843.1 1542.0L845.7 1542.0L848.3 1542.0L850.9 1542.0L853.5 1542.0L856.0 1542.0L858.6 1542.0L861.2 1542.0L863.8 1542.0L866.4 1542.1L869.0 1542.1L871.5 1542.1L874.1 1542.1L876.7 1542.1L879.3 1542.1L881.9 1542.1L884.4 1542.1L887.0 1542.1L889.6 1542.1L892.2 1542.1L894.8 1542.1L897.3 1542.1L899.9 1542.1L902.5 1542.1L905.1 1542.1L907.7 1542.1L910.3 1542.1L912.8 1542.1L915.4 1542.1L918.0 1542.1L920.6 1542.1L923.2 1542.1L925.7 1542.1L928.3 1542.1L930.9 1542.1L933.5 1542.1L936.1 1542.1L938.6 1542.1L941.2 1542.1L943.8 1542.2L946.4 1542.2L949.0 1542.2L951.5 1542.2L954.1 1542.3L956.7 1542.3L959.3 1542.4L961.9 1542.4L964.5 1542.5L967.0 1542.5L969.6 1542.6L972.2 1542.7L974.8 1542.8L977.4 1542.9L979.9 1543.0L982.5 1543.2L985.1 1543.3L987.7 1543.5L990.3 1543.7L992.8 1543.8L995.4 1544.0L998.0 1544.3L1000.6 1544.5L1003.2 1544.7L1005.8 1545.0L1008.3 1545.2L1010.9 1545.5L1013.5 1545.8L1016.1 1546.1L1018.7 1546.3L1021.2 1546.6L1023.8 1546.9L1026.4 1547.2L1029.0 1547.5L1031.6 1547.7L1034.1 1548.0L1036.7 1548.2L1039.3 1548.4L1041.9 1548.6L1044.5 1548.7L1047.1 1548.9L1049.6 1549.0L1052.2 1549.0L1054.8 1549.1L1057.4 1549.1L1060.0 1549.0L1062.5 1548.9L1065.1 1548.8L1067.7 1548.7L1070.3 1548.5L1072.9 1548.3L1075.4 1548.0L1078.0 1547.7L1080.6 1547.3L1083.2 1546.9L1085.8 1546.5L1088.4 1546.0L1090.9 1545.5L1093.5 1544.9L1096.1 1544.3L1098.7 1543.5L1101.3 1542.8L1103.8 1541.9L1106.4 1541.0L1109.0 1539.9L1111.6 1538.7L1114.2 1537.4L1116.7 1535.9L1119.3 1534.2L1121.9 1532.3L1124.5 1530.1L1127.1 1527.6L1129.7 1524.8L1132.2 1521.4L1134.8 1517.6L1137.4 1513.2L1140.0 1508.2L1142.6 1502.4L1145.1 1495.8L1147.7 1488.3L1150.3 1479.9L1152.9 1470.4L1155.5 1459.9L1158.0 1448.3L1160.6 1435.6L1163.2 1421.9L1165.8 1407.2L1168.4 1391.8L1171.0 1375.8L1173.5 1359.6L1176.1 1343.7L1178.7 1328.7L1181.3 1315.2L1183.9 1304.0L1186.4 1295.9L1189.0 1291.6L1191.6 1291.4L1194.2 1295.3L1196.8 1303.1L1199.3 1314.3L1201.9 1328.2L1204.5 1344.1L1207.1 1361.1L1209.7 1378.7L1212.3 1396.3L1214.8 1413.5L1217.4 1430.0L1220.0 1445.6L1222.6 1460.2L1225.2 1473.7L1227.7 1486.0L1230.3 1497.2L1232.9 1507.3L1235.5 1516.4L1238.1 1524.5L1240.6 1531.7L1243.2 1538.0L1245.8 1543.6L1248.4 1548.4L1251.0 1552.7L1253.6 1556.5L1256.1 1559.8L1258.7 1562.7L1261.3 1565.3L1263.9 1567.5L1266.5 1569.6L1269.0 1571.4L1271.6 1573.0L1274.2 1574.4L1276.8 1575.7L1279.4 1576.9L1281.9 1578.1L1284.5 1579.1L1287.1 1580.0L1289.7 1580.9L1292.3 1581.7L1294.9 1582.4L1297.4 1583.1L1300.0 1583.8L1302.6 1584.4L1305.2 1585.0L1307.8 1585.5L1310.3 1586.0L1312.9 1586.5L1315.5 1586.9L1318.1 1587.4L1320.7 1587.8L1323.2 1588.2L1325.8 1588.5L1328.4 1588.9L1331.0 1589.2L1333.6 1589.5L1336.2 1589.8L1338.7 1590.1L1341.3 1590.4L1343.9 1590.6L1346.5 1590.9L1349.1 1591.1L1351.6 1591.3L1354.2 1591.5L1356.8 1591.7L1359.4 1591.9L1362.0 1592.1L1364.5 1592.3L1367.1 1592.5L1369.7 1592.6L1372.3 1592.8L1374.9 1593.0L1377.5 1593.1L1380.0 1593.2L1382.6 1593.4L1385.2 1593.5L1387.8 1593.6L1390.4 1593.8L1392.9 1593.9L1395.5 1594.0L1398.1 1594.1L1400.7 1594.2L1403.3 1594.3L1405.8 1594.4L1408.4 1594.5L1411.0 1594.6L1413.6 1594.7L1416.2 1594.8L1418.8 1594.9L1421.3 1595.0L1423.9 1595.0L1426.5 1595.1L1429.1 1595.2L1431.7 1595.3L1434.2 1595.3L1436.8 1595.4L1439.4 1595.5" stroke="#000" stroke-width="5"/><path d="M381.1 1510.3L383.7 1510.2L386.3 1510.1L388.8 1509.9L391.4 1509.8L394.0 1509.6L396.6 1509.5L399.2 1509.3L401.7 1509.1L404.3 1508.9L406.9 1508.7L409.5 1508.5L412.1 1508.3L414.7 1508.1L417.2 1507.8L419.8 1507.6L422.4 1507.3L425.0 1507.0L427.6 1506.7L430.1 1506.4L432.7 1506.1L435.3 1505.8L437.9 1505.4L440.5 1505.0L443.0 1504.6L445.6 1504.2L448.2 1503.7L450.8 1503.3L453.4 1502.7L456.0 1502.2L458.5 1501.6L461.1 1501.0L463.7 1500.3L466.3 1499.6L468.9 1498.9L471.4 1498.1L474.0 1497.2L476.6 1496.3L479.2 1495.3L481.8 1494.3L484.3 1493.1L486.9 1491.9L489.5 1490.6L492.1 1489.3L494.7 1487.8L497.3 1486.2L499.8 1484.5L502.4 1482.6L505.0 1480.7L507.6 1478.6L510.2 1476.4L512.7 1474.0L515.3 1471.5L517.9 1468.8L520.5 1466.0L523.1 1463.1L525.6 1460.0L528.2 1456.9L530.8 1453.6L533.4 1450.3L536.0 1447.0L538.6 1443.7L541.1 1440.5L543.7 1437.6L546.3 1434.9L548.9 1432.5L551.5 1430.6L554.0 1429.2L556.6 1428.3L559.2 1428.1L561.8 1428.4L564.4 1429.5L566.9 1431.3L569.5 1433.6L572.1 1436.5L574.7 1439.8L577.3 1443.4L579.9 1447.2L582.4 1451.1L585.0 1455.1L587.6 1459.1L590.2 1463.0L592.8 1466.8L595.3 1470.5L597.9 1473.9L600.5 1477.2L603.1 1480.4L605.7 1483.3L608.2 1486.0L610.8 1488.6L613.4 1491.0L616.0 1493.3L618.6 1495.4L621.2 1497.3L623.7 1499.1L626.3 1500.8L628.9 1502.4L631.5 1503.9L634.1 1505.3L636.6 1506.6L639.2 1507.8L641.8 1508.9L644.4 1510.0L647.0 1511.0L649.5 1512.0L652.1 1512.9L654.7 1513.7L657.3 1514.6L659.9 1515.4L662.5 1516.1L665.0 1516.9L667.6 1517.6L670.2 1518.3L672.8 1518.9L675.4 1519.6L677.9 1520.2L680.5 1520.9L683.1 1521.5L685.7 1522.1L688.3 1522.7L690.8 1523.2L693.4 1523.8L696.0 1524.3L698.6 1524.9L701.2 1525.4L703.8 1526.0L706.3 1526.5L708.9 1527.0L711.5 1527.6L714.1 1528.1L716.7 1528.6L719.2 1529.2L721.8 1529.7L724.4 1530.3L727.0 1530.9L729.6 1531.4L732.1 1532.0L734.7 1532.6L737.3 1533.1L739.9 1533.7L742.5 1534.2L745.1 1534.7L747.6 1535.2L750.2 1535.7L752.8 1536.1L755.4 1536.5L758.0 1536.9L760.5 1537.3L763.1 1537.6L765.7 1537.9L768.3 1538.1L770.9 1538.4L773.4 1538.6L776.0 1538.8L778.6 1539.0L781.2 1539.2L783.8 1539.3L786.4 1539.5L788.9 1539.6L791.5 1539.7L794.1 1539.9L796.7 1540.0L799.3 1540.1L801.8 1540.2L804.4 1540.3L807.0 1540.4L809.6 1540.5L812.2 1540.5L814.7 1540.6L817.3 1540.7L819.9 1540.8L822.5 1540.9L825.1 1540.9L827.7 1541.0L830.2 1541.1L832.8 1541.2L835.4 1541.2L838.0 1541.3L840.6 1541.4L843.1 1541.4L845.7 1541.5L848.3 1541.6L850.9 1541.6L853.5 1541.7L856.0 1541.7L858.6 1541.8L861.2 1541.8L863.8 1541.9L866.4 1542.0L869.0 1542.0L871.5 1542.1L874.1 1542.1L876.7 1542.2L879.3 1542.2L881.9 1542.3L884.4 1542.3L887.0 1542.4L889.6 1542.5L892.2 1542.5L894.8 1542.6L897.3 1542.6L899.9 1542.7L902.5 1542.7L905.1 1542.8L907.7 1542.8L910.3 1542.9L912.8 1542.9L915.4 1543.0L918.0 1543.1L920.6 1543.1L923.2 1543.2L925.7 1543.3L928.3 1543.3L930.9 1543.4L933.5 1543.5L936.1 1543.5L938.6 1543.6L941.2 1543.7L943.8 1543.8L946.4 1543.9L949.0 1544.0L951.5 1544.1L954.1 1544.2L956.7 1544.3L959.3 1544.4L961.9 1544.6L964.5 1544.7L967.0 1544.9L969.6 1545.0L972.2 1545.2L974.8 1545.4L977.4 1545.6L979.9 1545.8L982.5 1546.0L985.1 1546.3L987.7 1546.6L990.3 1546.8L992.8 1547.1L995.4 1547.5L998.0 1547.8L1000.6 1548.1L1003.2 1548.5L1005.8 1548.9L1008.3 1549.3L1010.9 1549.7L1013.5 1550.1L1016.1 1550.6L1018.7 1551.0L1021.2 1551.5L1023.8 1551.9L1026.4 1552.4L1029.0 1552.9L1031.6 1553.3L1034.1 1553.8L1036.7 1554.2L1039.3 1554.7L1041.9 1555.1L1044.5 1555.5L1047.1 1555.9L1049.6 1556.3L1052.2 1556.6L1054.8 1557.0L1057.4 1557.3L1060.0 1557.6L1062.5 1557.9L1065.1 1558.1L1067.7 1558.4L1070.3 1558.6L1072.9 1558.9L1075.4 1559.1L1078.0 1559.3L1080.6 1559.5L1083.2 1559.7L1085.8 1559.8L1088.4 1560.0L1090.9 1560.2L1093.5 1560.4L1096.1 1560.6L1098.7 1560.8L1101.3 1561.0L1103.8 1561.2L1106.4 1561.4L1109.0 1561.6L1111.6 1561.8L1114.2 1562.1L1116.7 1562.4L1119.3 1562.7L1121.9 1563.0L1124.5 1563.3L1127.1 1563.7L1129.7 1564.1L1132.2 1564.5L1134.8 1565.0L1137.4 1565.4L1140.0 1566.0L1142.6 1566.5L1145.1 1567.1L1147.7 1567.7L1150.3 1568.4L1152.9 1569.0L1155.5 1569.8L1158.0 1570.5L1160.6 1571.3L1163.2 1572.1L1165.8 1572.9L1168.4 1573.8L1171.0 1574.7L1173.5 1575.7L1176.1 1576.7L1178.7 1577.7L1181.3 1578.7L1183.9 1579.8L1186.4 1580.9L1189.0 1582.0L1191.6 1583.1L1194.2 1584.1L1196.8 1585.2L1199.3 1586.2L1201.9 1587.1L1204.5 1588.0L1207.1 1588.9L1209.7 1589.6L1212.3 1590.4L1214.8 1591.0L1217.4 1591.6L1220.0 1592.2L1222.6 1592.7L1225.2 1593.1L1227.7 1593.5L1230.3 1593.8L1232.9 1594.2L1235.5 1594.4L1238.1 1594.7L1240.6 1594.9L1243.2 1595.1L1245.8 1595.3L1248.4 1595.4L1251.0 1595.5L1253.6 1595.7L1256.1 1595.8L1258.7 1595.9L1261.3 1596.0L1263.9 1596.1L1266.5 1596.1L1269.0 1596.2L1271.6 1596.3L1274.2 1596.3L1276.8 1596.4L1279.4 1596.5L1281.9 1596.5L1284.5 1596.6L1287.1 1596.6L1289.7 1596.7L1292.3 1596.7L1294.9 1596.8L1297.4 1596.8L1300.0 1596.9L1302.6 1596.9L1305.2 1596.9L1307.8 1597.0L1310.3 1597.0L1312.9 1597.0L1315.5 1597.1L1318.1 1597.1L1320.7 1597.1L1323.2 1597.2L1325.8 1597.2L1328.4 1597.2L1331.0 1597.3L1333.6 1597.3L1336.2 1597.3L1338.7 1597.3L1341.3 1597.4L1343.9 1597.4L1346.5 1597.4L1349.1 1597.4L1351.6 1597.4L1354.2 1597.5L1356.8 1597.5L1359.4 1597.5L1362.0 1597.5L1364.5 1597.6L1367.1 1597.6L1369.7 1597.6L1372.3 1597.6L1374.9 1597.6L1377.5 1597.6L1380.0 1597.7L1382.6 1597.7L1385.2 1597.7L1387.8 1597.7L1390.4 1597.7L1392.9 1597.7L1395.5 1597.8L1398.1 1597.8L1400.7 1597.8L1403.3 1597.8L1405.8 1597.8L1408.4 1597.8L1411.0 1597.8L1413.6 1597.9L1416.2 1597.9L1418.8 1597.9L1421.3 1597.9L1423.9 1597.9L1426.5 1597.9L1429.1 1597.9L1431.7 1597.9L1434.2 1598.0L1436.8 1598.0L1439.4 1598.0" stroke="#008000" stroke-width="5"/><path d="M381.1 1515.0L383.7 1515.0L386.3 1515.0L388.8 1515.0L391.4 1515.0L394.0 1515.0L396.6 1515.0L399.2 1515.0L401.7 1515.0L404.3 1515.0L406.9 1515.0L409.5 1515.0L412.1 1515.1L414.7 1515.1L417.2 1515.1L419.8 1515.1L422.4 1515.1L425.0 1515.1L427.6 1515.1L430.1 1515.1L432.7 1515.1L435.3 1515.2L437.9 1515.2L440.5 1515.2L443.0 1515.2L445.6 1515.2L448.2 1515.2L450.8 1515.3L453.4 1515.3L456.0 1515.3L458.5 1515.3L461.1 1515.3L463.7 1515.4L466.3 1515.4L468.9 1515.4L471.4 1515.5L474.0 1515.5L476.6 1515.5L479.2 1515.6L481.8 1515.6L484.3 1515.7L486.9 1515.7L489.5 1515.8L492.1 1515.8L494.7 1515.9L497.3 1516.0L499.8 1516.1L502.4 1516.2L505.0 1516.3L507.6 1516.4L510.2 1516.5L512.7 1516.6L515.3 1516.8L517.9 1516.9L520.5 1517.1L523.1 1517.2L525.6 1517.4L528.2 1517.6L530.8 1517.8L533.4 1518.0L536.0 1518.2L538.6 1518.5L541.1 1518.7L543.7 1519.0L546.3 1519.2L548.9 1519.5L551.5 1519.8L554.0 1520.1L556.6 1520.4L559.2 1520.7L561.8 1521.0L564.4 1521.2L566.9 1521.5L569.5 1521.8L572.1 1522.1L574.7 1522.4L577.3 1522.6L579.9 1522.9L582.4 1523.1L585.0 1523.4L587.6 1523.6L590.2 1523.8L592.8 1524.0L595.3 1524.2L597.9 1524.4L600.5 1524.5L603.1 1524.7L605.7 1524.8L608.2 1525.0L610.8 1525.1L613.4 1525.2L616.0 1525.3L618.6 1525.5L621.2 1525.6L623.7 1525.7L626.3 1525.8L628.9 1525.9L631.5 1526.0L634.1 1526.1L636.6 1526.2L639.2 1526.3L641.8 1526.4L644.4 1526.5L647.0 1526.6L649.5 1526.7L652.1 1526.8L654.7 1527.0L657.3 1527.1L659.9 1527.2L662.5 1527.4L665.0 1527.6L667.6 1527.7L670.2 1527.9L672.8 1528.1L675.4 1528.3L677.9 1528.5L680.5 1528.7L683.1 1528.9L685.7 1529.1L688.3 1529.4L690.8 1529.6L693.4 1529.8L696.0 1530.1L698.6 1530.3L701.2 1530.6L703.8 1530.9L706.3 1531.1L708.9 1531.4L711.5 1531.7L714.1 1532.0L716.7 1532.3L719.2 1532.6L721.8 1533.0L724.4 1533.3L727.0 1533.7L729.6 1534.1L732.1 1534.4L734.7 1534.8L737.3 1535.2L739.9 1535.6L742.5 1536.0L745.1 1536.3L747.6 1536.6L750.2 1536.9L752.8 1537.2L755.4 1537.5L758.0 1537.7L760.5 1537.9L763.1 1538.1L765.7 1538.2L768.3 1538.3L770.9 1538.4L773.4 1538.5L776.0 1538.6L778.6 1538.6L781.2 1538.6L783.8 1538.6L786.4 1538.6L788.9 1538.6L791.5 1538.6L794.1 1538.6L796.7 1538.5L799.3 1538.5L801.8 1538.5L804.4 1538.4L807.0 1538.3L809.6 1538.3L812.2 1538.2L814.7 1538.1L817.3 1538.1L819.9 1538.0L822.5 1537.9L825.1 1537.8L827.7 1537.7L830.2 1537.6L832.8 1537.5L835.4 1537.3L838.0 1537.2L840.6 1537.1L843.1 1536.9L845.7 1536.8L848.3 1536.6L850.9 1536.5L853.5 1536.3L856.0 1536.1L858.6 1536.0L861.2 1535.8L863.8 1535.6L866.4 1535.3L869.0 1535.1L871.5 1534.9L874.1 1534.6L876.7 1534.4L879.3 1534.1L881.9 1533.8L884.4 1533.5L887.0 1533.2L889.6 1532.8L892.2 1532.5L894.8 1532.1L897.3 1531.7L899.9 1531.2L902.5 1530.8L905.1 1530.3L907.7 1529.8L910.3 1529.2L912.8 1528.6L915.4 1528.0L918.0 1527.3L920.6 1526.6L923.2 1525.8L925.7 1525.0L928.3 1524.1L930.9 1523.2L933.5 1522.1L936.1 1521.0L938.6 1519.8L941.2 1518.5L943.8 1517.1L946.4 1515.6L949.0 1514.0L951.5 1512.2L954.1 1510.3L956.7 1508.3L959.3 1506.1L961.9 1503.7L964.5 1501.2L967.0 1498.5L969.6 1495.5L972.2 1492.4L974.8 1489.1L977.4 1485.5L979.9 1481.7L982.5 1477.7L985.1 1473.5L987.7 1469.1L990.3 1464.5L992.8 1459.7L995.4 1454.8L998.0 1449.8L1000.6 1444.7L1003.2 1439.7L1005.8 1434.9L1008.3 1430.2L1010.9 1426.0L1013.5 1422.2L1016.1 1418.9L1018.7 1416.4L1021.2 1414.7L1023.8 1413.9L1026.4 1414.1L1029.0 1415.3L1031.6 1417.8L1034.1 1421.3L1036.7 1425.8L1039.3 1431.0L1041.9 1436.8L1044.5 1443.0L1047.1 1449.4L1049.6 1455.9L1052.2 1462.3L1054.8 1468.6L1057.4 1474.7L1060.0 1480.6L1062.5 1486.1L1065.1 1491.4L1067.7 1496.3L1070.3 1500.9L1072.9 1505.2L1075.4 1509.2L1078.0 1512.9L1080.6 1516.3L1083.2 1519.5L1085.8 1522.4L1088.4 1525.1L1090.9 1527.6L1093.5 1529.9L1096.1 1532.0L1098.7 1533.9L1101.3 1535.8L1103.8 1537.5L1106.4 1539.0L1109.0 1540.5L1111.6 1541.9L1114.2 1543.2L1116.7 1544.5L1119.3 1545.7L1121.9 1546.9L1124.5 1548.0L1127.1 1549.1L1129.7 1550.2L1132.2 1551.2L1134.8 1552.2L1137.4 1553.3L1140.0 1554.3L1142.6 1555.4L1145.1 1556.4L1147.7 1557.4L1150.3 1558.5L1152.9 1559.5L1155.5 1560.6L1158.0 1561.7L1160.6 1562.8L1163.2 1563.9L1165.8 1565.1L1168.4 1566.2L1171.0 1567.4L1173.5 1568.6L1176.1 1569.8L1178.7 1571.1L1181.3 1572.3L1183.9 1573.6L1186.4 1574.9L1189.0 1576.2L1191.6 1577.4L1194.2 1578.6L1196.8 1579.8L1199.3 1581.0L1201.9 1582.1L1204.5 1583.2L1207.1 1584.1L1209.7 1585.1L1212.3 1585.9L1214.8 1586.7L1217.4 1587.4L1220.0 1588.1L1222.6 1588.7L1225.2 1589.2L1227.7 1589.7L1230.3 1590.2L1232.9 1590.6L1235.5 1590.9L1238.1 1591.3L1240.6 1591.6L1243.2 1591.8L1245.8 1592.1L1248.4 1592.3L1251.0 1592.5L1253.6 1592.7L1256.1 1592.9L1258.7 1593.1L1261.3 1593.2L1263.9 1593.4L1266.5 1593.5L1269.0 1593.6L1271.6 1593.8L1274.2 1593.9L1276.8 1594.0L1279.4 1594.1L1281.9 1594.2L1284.5 1594.3L1287.1 1594.4L1289.7 1594.5L1292.3 1594.6L1294.9 1594.7L1297.4 1594.8L1300.0 1594.9L1302.6 1594.9L1305.2 1595.0L1307.8 1595.1L1310.3 1595.2L1312.9 1595.2L1315.5 1595.3L1318.1 1595.4L1320.7 1595.4L1323.2 1595.5L1325.8 1595.6L1328.4 1595.6L1331.0 1595.7L1333.6 1595.7L1336.2 1595.8L1338.7 1595.8L1341.3 1595.9L1343.9 1595.9L1346.5 1596.0L1349.1 1596.0L1351.6 1596.1L1354.2 1596.1L1356.8 1596.2L1359.4 1596.2L1362.0 1596.3L1364.5 1596.3L1367.1 1596.3L1369.7 1596.4L1372.3 1596.4L1374.9 1596.4L1377.5 1596.5L1380.0 1596.5L1382.6 1596.6L1385.2 1596.6L1387.8 1596.6L1390.4 1596.7L1392.9 1596.7L1395.5 1596.7L1398.1 1596.8L1400.7 1596.8L1403.3 1596.8L1405.8 1596.8L1408.4 1596.9L1411.0 1596.9L1413.6 1596.9L1416.2 1596.9L1418.8 1597.0L1421.3 1597.0L1423.9 1597.0L1426.5 1597.1L1429.1 1597.1L1431.7 1597.1L1434.2 1597.1L1436.8 1597.1L1439.4 1597.2" stroke="#008000" stroke-width="5"/><path d="M381.1 1514.7L383.7 1514.6L386.3 1514.6L388.8 1514.6L391.4 1514.6L394.0 1514.6L396.6 1514.6L399.2 1514.6L401.7 1514.6L404.3 1514.6L406.9 1514.6L409.5 1514.6L412.1 1514.6L414.7 1514.6L417.2 1514.6L419.8 1514.6L422.4 1514.6L425.0 1514.6L427.6 1514.6L430.1 1514.6L432.7 1514.6L435.3 1514.6L437.9 1514.5L440.5 1514.5L443.0 1514.5L445.6 1514.5L448.2 1514.5L450.8 1514.5L453.4 1514.5L456.0 1514.5L458.5 1514.5L461.1 1514.5L463.7 1514.5L466.3 1514.5L468.9 1514.5L471.4 1514.5L474.0 1514.5L476.6 1514.5L479.2 1514.5L481.8 1514.5L484.3 1514.5L486.9 1514.5L489.5 1514.5L492.1 1514.6L494.7 1514.6L497.3 1514.6L499.8 1514.7L502.4 1514.7L505.0 1514.7L507.6 1514.8L510.2 1514.8L512.7 1514.9L515.3 1515.0L517.9 1515.1L520.5 1515.1L523.1 1515.2L525.6 1515.3L528.2 1515.4L530.8 1515.5L533.4 1515.7L536.0 1515.8L538.6 1515.9L541.1 1516.1L543.7 1516.2L546.3 1516.3L548.9 1516.5L551.5 1516.6L554.0 1516.8L556.6 1516.9L559.2 1517.1L561.8 1517.2L564.4 1517.3L566.9 1517.4L569.5 1517.5L572.1 1517.5L574.7 1517.6L577.3 1517.6L579.9 1517.6L582.4 1517.6L585.0 1517.5L587.6 1517.4L590.2 1517.3L592.8 1517.1L595.3 1516.9L597.9 1516.7L600.5 1516.4L603.1 1516.1L605.7 1515.7L608.2 1515.3L610.8 1514.8L613.4 1514.3L616.0 1513.7L618.6 1513.0L621.2 1512.3L623.7 1511.5L626.3 1510.6L628.9 1509.6L631.5 1508.5L634.1 1507.4L636.6 1506.1L639.2 1504.7L641.8 1503.1L644.4 1501.5L647.0 1499.7L649.5 1497.7L652.1 1495.6L654.7 1493.4L657.3 1491.0L659.9 1488.5L662.5 1486.0L665.0 1483.4L667.6 1480.8L670.2 1478.3L672.8 1476.0L675.4 1474.0L677.9 1472.3L680.5 1471.2L683.1 1470.5L685.7 1470.5L688.3 1471.1L690.8 1472.3L693.4 1474.0L696.0 1476.3L698.6 1478.9L701.2 1481.8L703.8 1484.9L706.3 1488.0L708.9 1491.2L711.5 1494.3L714.1 1497.3L716.7 1500.2L719.2 1503.0L721.8 1505.6L724.4 1508.1L727.0 1510.4L729.6 1512.6L732.1 1514.6L734.7 1516.6L737.3 1518.4L739.9 1520.1L742.5 1521.6L745.1 1523.1L747.6 1524.5L750.2 1525.7L752.8 1526.9L755.4 1528.0L758.0 1529.0L760.5 1529.9L763.1 1530.7L765.7 1531.5L768.3 1532.2L770.9 1532.8L773.4 1533.4L776.0 1533.9L778.6 1534.4L781.2 1534.9L783.8 1535.3L786.4 1535.7L788.9 1536.1L791.5 1536.4L794.1 1536.8L796.7 1537.1L799.3 1537.3L801.8 1537.6L804.4 1537.8L807.0 1538.1L809.6 1538.3L812.2 1538.5L814.7 1538.7L817.3 1538.9L819.9 1539.1L822.5 1539.3L825.1 1539.4L827.7 1539.6L830.2 1539.7L832.8 1539.9L835.4 1540.0L838.0 1540.2L840.6 1540.3L843.1 1540.4L845.7 1540.5L848.3 1540.6L850.9 1540.8L853.5 1540.9L856.0 1541.0L858.6 1541.1L861.2 1541.2L863.8 1541.3L866.4 1541.3L869.0 1541.4L871.5 1541.5L874.1 1541.6L876.7 1541.7L879.3 1541.8L881.9 1541.9L884.4 1541.9L887.0 1542.0L889.6 1542.1L892.2 1542.2L894.8 1542.2L897.3 1542.3L899.9 1542.4L902.5 1542.5L905.1 1542.5L907.7 1542.6L910.3 1542.7L912.8 1542.7L915.4 1542.8L918.0 1542.9L920.6 1543.0L923.2 1543.0L925.7 1543.1L928.3 1543.2L930.9 1543.3L933.5 1543.4L936.1 1543.4L938.6 1543.5L941.2 1543.6L943.8 1543.7L946.4 1543.8L949.0 1543.9L951.5 1544.0L954.1 1544.1L956.7 1544.3L959.3 1544.4L961.9 1544.5L964.5 1544.7L967.0 1544.8L969.6 1545.0L972.2 1545.2L974.8 1545.4L977.4 1545.6L979.9 1545.8L982.5 1546.1L985.1 1546.3L987.7 1546.6L990.3 1546.9L992.8 1547.2L995.4 1547.5L998.0 1547.8L1000.6 1548.2L1003.2 1548.5L1005.8 1548.9L1008.3 1549.3L1010.9 1549.8L1013.5 1550.2L1016.1 1550.6L1018.7 1551.1L1021.2 1551.5L1023.8 1552.0L1026.4 1552.5L1029.0 1552.9L1031.6 1553.4L1034.1 1553.9L1036.7 1554.3L1039.3 1554.7L1041.9 1555.2L1044.5 1555.6L1047.1 1556.0L1049.6 1556.3L1052.2 1556.7L1054.8 1557.0L1057.4 1557.4L1060.0 1557.7L1062.5 1558.0L1065.1 1558.2L1067.7 1558.5L1070.3 1558.7L1072.9 1558.9L1075.4 1559.2L1078.0 1559.4L1080.6 1559.6L1083.2 1559.8L1085.8 1559.9L1088.4 1560.1L1090.9 1560.3L1093.5 1560.5L1096.1 1560.7L1098.7 1560.9L1101.3 1561.0L1103.8 1561.2L1106.4 1561.5L1109.0 1561.7L1111.6 1561.9L1114.2 1562.2L1116.7 1562.5L1119.3 1562.8L1121.9 1563.1L1124.5 1563.4L1127.1 1563.8L1129.7 1564.2L1132.2 1564.6L1134.8 1565.1L1137.4 1565.5L1140.0 1566.1L1142.6 1566.6L1145.1 1567.2L1147.7 1567.8L1150.3 1568.5L1152.9 1569.1L1155.5 1569.9L1158.0 1570.6L1160.6 1571.4L1163.2 1572.2L1165.8 1573.0L1168.4 1573.9L1171.0 1574.8L1173.5 1575.8L1176.1 1576.8L1178.7 1577.8L1181.3 1578.8L1183.9 1579.9L1186.4 1581.0L1189.0 1582.1L1191.6 1583.2L1194.2 1584.2L1196.8 1585.2L1199.3 1586.2L1201.9 1587.2L1204.5 1588.1L1207.1 1588.9L1209.7 1589.7L1212.3 1590.5L1214.8 1591.1L1217.4 1591.7L1220.0 1592.3L1222.6 1592.8L1225.2 1593.2L1227.7 1593.6L1230.3 1593.9L1232.9 1594.2L1235.5 1594.5L1238.1 1594.8L1240.6 1595.0L1243.2 1595.2L1245.8 1595.3L1248.4 1595.5L1251.0 1595.6L1253.6 1595.8L1256.1 1595.9L1258.7 1596.0L1261.3 1596.1L1263.9 1596.1L1266.5 1596.2L1269.0 1596.3L1271.6 1596.4L1274.2 1596.4L1276.8 1596.5L1279.4 1596.6L1281.9 1596.6L1284.5 1596.7L1287.1 1596.7L1289.7 1596.8L1292.3 1596.8L1294.9 1596.9L1297.4 1596.9L1300.0 1596.9L1302.6 1597.0L1305.2 1597.0L1307.8 1597.1L1310.3 1597.1L1312.9 1597.1L1315.5 1597.2L1318.1 1597.2L1320.7 1597.2L1323.2 1597.2L1325.8 1597.3L1328.4 1597.3L1331.0 1597.3L1333.6 1597.4L1336.2 1597.4L1338.7 1597.4L1341.3 1597.4L1343.9 1597.5L1346.5 1597.5L1349.1 1597.5L1351.6 1597.5L1354.2 1597.5L1356.8 1597.6L1359.4 1597.6L1362.0 1597.6L1364.5 1597.6L1367.1 1597.6L1369.7 1597.7L1372.3 1597.7L1374.9 1597.7L1377.5 1597.7L1380.0 1597.7L1382.6 1597.8L1385.2 1597.8L1387.8 1597.8L1390.4 1597.8L1392.9 1597.8L1395.5 1597.8L1398.1 1597.8L1400.7 1597.9L1403.3 1597.9L1405.8 1597.9L1408.4 1597.9L1411.0 1597.9L1413.6 1597.9L1416.2 1597.9L1418.8 1598.0L1421.3 1598.0L1423.9 1598.0L1426.5 1598.0L1429.1 1598.0L1431.7 1598.0L1434.2 1598.0L1436.8 1598.0L1439.4 1598.0" stroke="#ff00ff" stroke-width="5"/><path d="M381.1 1515.3L383.7 1515.3L386.3 1515.3L388.8 1515.3L391.4 1515.3L394.0 1515.3L396.6 1515.4L399.2 1515.4L401.7 1515.4L404.3 1515.4L406.9 1515.4L409.5 1515.4L412.1 1515.4L414.7 1515.4L417.2 1515.5L419.8 1515.5L422.4 1515.5L425.0 1515.5L427.6 1515.5L430.1 1515.5L432.7 1515.5L435.3 1515.6L437.9 1515.6L440.5 1515.6L443.0 1515.6L445.6 1515.6L448.2 1515.7L450.8 1515.7L453.4 1515.7L456.0 1515.7L458.5 1515.8L461.1 1515.8L463.7 1515.8L466.3 1515.8L468.9 1515.9L471.4 1515.9L474.0 1516.0L476.6 1516.0L479.2 1516.0L481.8 1516.1L484.3 1516.2L486.9 1516.2L489.5 1516.3L492.1 1516.3L494.7 1516.4L497.3 1516.5L499.8 1516.6L502.4 1516.7L505.0 1516.8L507.6 1516.9L510.2 1517.0L512.7 1517.2L515.3 1517.3L517.9 1517.5L520.5 1517.6L523.1 1517.8L525.6 1518.0L528.2 1518.2L530.8 1518.4L533.4 1518.6L536.0 1518.8L538.6 1519.1L541.1 1519.3L543.7 1519.6L546.3 1519.9L548.9 1520.2L551.5 1520.4L554.0 1520.7L556.6 1521.0L559.2 1521.3L561.8 1521.6L564.4 1521.9L566.9 1522.2L569.5 1522.5L572.1 1522.8L574.7 1523.1L577.3 1523.4L579.9 1523.6L582.4 1523.9L585.0 1524.1L587.6 1524.4L590.2 1524.6L592.8 1524.8L595.3 1525.0L597.9 1525.2L600.5 1525.4L603.1 1525.5L605.7 1525.7L608.2 1525.8L610.8 1526.0L613.4 1526.1L616.0 1526.2L618.6 1526.4L621.2 1526.5L623.7 1526.6L626.3 1526.7L628.9 1526.8L631.5 1526.9L634.1 1527.0L636.6 1527.2L639.2 1527.3L641.8 1527.4L644.4 1527.5L647.0 1527.6L649.5 1527.8L652.1 1527.9L654.7 1528.1L657.3 1528.2L659.9 1528.4L662.5 1528.5L665.0 1528.7L667.6 1528.9L670.2 1529.1L672.8 1529.3L675.4 1529.5L677.9 1529.8L680.5 1530.0L683.1 1530.2L685.7 1530.5L688.3 1530.7L690.8 1531.0L693.4 1531.3L696.0 1531.5L698.6 1531.8L701.2 1532.1L703.8 1532.4L706.3 1532.7L708.9 1533.0L711.5 1533.3L714.1 1533.6L716.7 1534.0L719.2 1534.3L721.8 1534.7L724.4 1535.1L727.0 1535.5L729.6 1535.9L732.1 1536.3L734.7 1536.7L737.3 1537.1L739.9 1537.5L742.5 1538.0L745.1 1538.3L747.6 1538.7L750.2 1539.1L752.8 1539.4L755.4 1539.7L758.0 1540.0L760.5 1540.2L763.1 1540.4L765.7 1540.6L768.3 1540.8L770.9 1540.9L773.4 1541.1L776.0 1541.2L778.6 1541.3L781.2 1541.4L783.8 1541.4L786.4 1541.5L788.9 1541.6L791.5 1541.6L794.1 1541.7L796.7 1541.7L799.3 1541.7L801.8 1541.8L804.4 1541.8L807.0 1541.8L809.6 1541.8L812.2 1541.9L814.7 1541.9L817.3 1541.9L819.9 1541.9L822.5 1541.9L825.1 1542.0L827.7 1542.0L830.2 1542.0L832.8 1542.0L835.4 1542.0L838.0 1542.0L840.6 1542.0L843.1 1542.0L845.7 1542.0L848.3 1542.0L850.9 1542.0L853.5 1542.1L856.0 1542.1L858.6 1542.1L861.2 1542.1L863.8 1542.1L866.4 1542.1L869.0 1542.1L871.5 1542.1L874.1 1542.1L876.7 1542.1L879.3 1542.1L881.9 1542.1L884.4 1542.1L887.0 1542.1L889.6 1542.1L892.2 1542.0L894.8 1542.0L897.3 1542.0L899.9 1542.0L902.5 1542.0L905.1 1542.0L907.7 1542.0L910.3 1542.0L912.8 1542.0L915.4 1542.0L918.0 1542.0L920.6 1542.0L923.2 1542.0L925.7 1542.0L928.3 1542.0L930.9 1542.0L933.5 1541.9L936.1 1541.9L938.6 1541.9L941.2 1541.9L943.8 1541.9L946.4 1541.9L949.0 1542.0L951.5 1542.0L954.1 1542.0L956.7 1542.0L959.3 1542.0L961.9 1542.1L964.5 1542.1L967.0 1542.1L969.6 1542.2L972.2 1542.3L974.8 1542.3L977.4 1542.4L979.9 1542.5L982.5 1542.6L985.1 1542.7L987.7 1542.8L990.3 1542.9L992.8 1543.1L995.4 1543.2L998.0 1543.4L1000.6 1543.5L1003.2 1543.7L1005.8 1543.9L1008.3 1544.1L1010.9 1544.3L1013.5 1544.5L1016.1 1544.7L1018.7 1544.9L1021.2 1545.1L1023.8 1545.2L1026.4 1545.4L1029.0 1545.5L1031.6 1545.7L1034.1 1545.8L1036.7 1545.8L1039.3 1545.9L1041.9 1545.9L1044.5 1545.8L1047.1 1545.7L1049.6 1545.6L1052.2 1545.4L1054.8 1545.1L1057.4 1544.8L1060.0 1544.4L1062.5 1543.9L1065.1 1543.4L1067.7 1542.8L1070.3 1542.1L1072.9 1541.3L1075.4 1540.4L1078.0 1539.3L1080.6 1538.2L1083.2 1536.9L1085.8 1535.5L1088.4 1533.9L1090.9 1532.2L1093.5 1530.2L1096.1 1528.1L1098.7 1525.7L1101.3 1523.0L1103.8 1520.1L1106.4 1516.9L1109.0 1513.4L1111.6 1509.5L1114.2 1505.3L1116.7 1500.7L1119.3 1495.8L1121.9 1490.5L1124.5 1484.9L1127.1 1479.1L1129.7 1473.1L1132.2 1467.1L1134.8 1461.3L1137.4 1455.9L1140.0 1451.1L1142.6 1447.2L1145.1 1444.5L1147.7 1443.1L1150.3 1443.3L1152.9 1445.0L1155.5 1447.9L1158.0 1452.1L1160.6 1457.3L1163.2 1463.2L1165.8 1469.7L1168.4 1476.5L1171.0 1483.5L1173.5 1490.5L1176.1 1497.3L1178.7 1504.0L1181.3 1510.4L1183.9 1516.5L1186.4 1522.2L1189.0 1527.7L1191.6 1532.8L1194.2 1537.5L1196.8 1542.0L1199.3 1546.1L1201.9 1549.9L1204.5 1553.4L1207.1 1556.6L1209.7 1559.6L1212.3 1562.3L1214.8 1564.8L1217.4 1567.0L1220.0 1569.1L1222.6 1571.0L1225.2 1572.7L1227.7 1574.2L1230.3 1575.7L1232.9 1577.0L1235.5 1578.2L1238.1 1579.3L1240.6 1580.3L1243.2 1581.2L1245.8 1582.0L1248.4 1582.8L1251.0 1583.5L1253.6 1584.2L1256.1 1584.8L1258.7 1585.4L1261.3 1585.9L1263.9 1586.5L1266.5 1586.9L1269.0 1587.4L1271.6 1587.8L1274.2 1588.2L1276.8 1588.6L1279.4 1588.9L1281.9 1589.3L1284.5 1589.6L1287.1 1589.9L1289.7 1590.2L1292.3 1590.5L1294.9 1590.7L1297.4 1591.0L1300.0 1591.2L1302.6 1591.4L1305.2 1591.7L1307.8 1591.9L1310.3 1592.1L1312.9 1592.2L1315.5 1592.4L1318.1 1592.6L1320.7 1592.8L1323.2 1592.9L1325.8 1593.1L1328.4 1593.2L1331.0 1593.4L1333.6 1593.5L1336.2 1593.6L1338.7 1593.8L1341.3 1593.9L1343.9 1594.0L1346.5 1594.1L1349.1 1594.2L1351.6 1594.3L1354.2 1594.4L1356.8 1594.5L1359.4 1594.6L1362.0 1594.7L1364.5 1594.8L1367.1 1594.9L1369.7 1595.0L1372.3 1595.1L1374.9 1595.1L1377.5 1595.2L1380.0 1595.3L1382.6 1595.4L1385.2 1595.4L1387.8 1595.5L1390.4 1595.6L1392.9 1595.6L1395.5 1595.7L1398.1 1595.8L1400.7 1595.8L1403.3 1595.9L1405.8 1595.9L1408.4 1596.0L1411.0 1596.0L1413.6 1596.1L1416.2 1596.1L1418.8 1596.2L1421.3 1596.2L1423.9 1596.3L1426.5 1596.3L1429.1 1596.4L1431.7 1596.4L1434.2 1596.4L1436.8 1596.5L1439.4 1596.5" stroke="#ff00ff" stroke-width="5"/></g>
<line x1="292" y1="138.5" x2="429.5" y2="138.5" stroke="#008000" stroke-width="5" stroke-linecap="round"/>
<g stroke="#000" stroke-width="6.8" fill="none" stroke-linecap="butt" stroke-linejoin="round">
<rect x="226.2" y="80.5" width="1419.7" height="1571.5"/>
<line x1="226.2" y1="603.5" x2="1645.9" y2="603.5"/>
<line x1="226.2" y1="1128.0" x2="1645.9" y2="1128.0"/>
</g>
<g stroke="#000" stroke-width="6.8" stroke-linecap="round">
<line x1="226.2" y1="1652.0" x2="226.2" y2="1688.0"/>
<line x1="355.3" y1="1652.0" x2="355.3" y2="1670.2"/>
<line x1="484.3" y1="1652.0" x2="484.3" y2="1688.0"/>
<line x1="613.4" y1="1652.0" x2="613.4" y2="1670.2"/>
<line x1="742.5" y1="1652.0" x2="742.5" y2="1688.0"/>
<line x1="871.5" y1="1652.0" x2="871.5" y2="1670.2"/>
<line x1="1000.6" y1="1652.0" x2="1000.6" y2="1688.0"/>
<line x1="1129.6" y1="1652.0" x2="1129.6" y2="1670.2"/>
<line x1="1258.7" y1="1652.0" x2="1258.7" y2="1688.0"/>
<line x1="1387.8" y1="1652.0" x2="1387.8" y2="1670.2"/>
<line x1="1516.8" y1="1652.0" x2="1516.8" y2="1688.0"/>
<line x1="1645.9" y1="1652.0" x2="1645.9" y2="1670.2"/>
</g>
<g stroke="#ff8000" stroke-width="5" stroke-linecap="round" fill="none">
<line x1="1171.4" y1="99.8" x2="1171.4" y2="1142.5" stroke-dasharray="20.6 23.84"/>
<line x1="1191.4" y1="1097.5" x2="1191.4" y2="1338" stroke-dasharray="20.9 23.75"/>
</g>
<g fill="#000">
<text transform="translate(1606.9 184.6) scale(1 1.014)" font-size="80.2" text-anchor="end">C0-R</text>
<text transform="translate(1606.9 689.8) scale(1 1.014)" font-size="80.2" text-anchor="end">C1-R</text>
<text transform="translate(1606.9 1228.2) scale(1 1.014)" font-size="80.2" text-anchor="end">C2-2-R</text>
<text transform="translate(226.2 1775.4)" font-size="79.5" text-anchor="middle">890</text>
<text transform="translate(484.3 1775.4)" font-size="79.5" text-anchor="middle">880</text>
<text transform="translate(742.5 1775.4)" font-size="79.5" text-anchor="middle">870</text>
<text transform="translate(1000.6 1775.4)" font-size="79.5" text-anchor="middle">860</text>
<text transform="translate(1258.7 1775.4)" font-size="79.5" text-anchor="middle">850</text>
<text transform="translate(1516.8 1775.4)" font-size="79.5" text-anchor="middle">840</text>
<text transform="translate(938.4 1888.6) scale(1 1.024)" font-size="97.5" text-anchor="middle">B.E.(eV)</text>
<text transform="translate(163.2 867.5) rotate(-90) scale(1 1.041)" font-size="96.5" text-anchor="middle">Intensity (a.u.)</text>
<text transform="translate(445.6 159.7) scale(1 1.027)" font-size="61.8" text-anchor="start">Satellite peak</text>
</g>
</svg>
</body></html>
